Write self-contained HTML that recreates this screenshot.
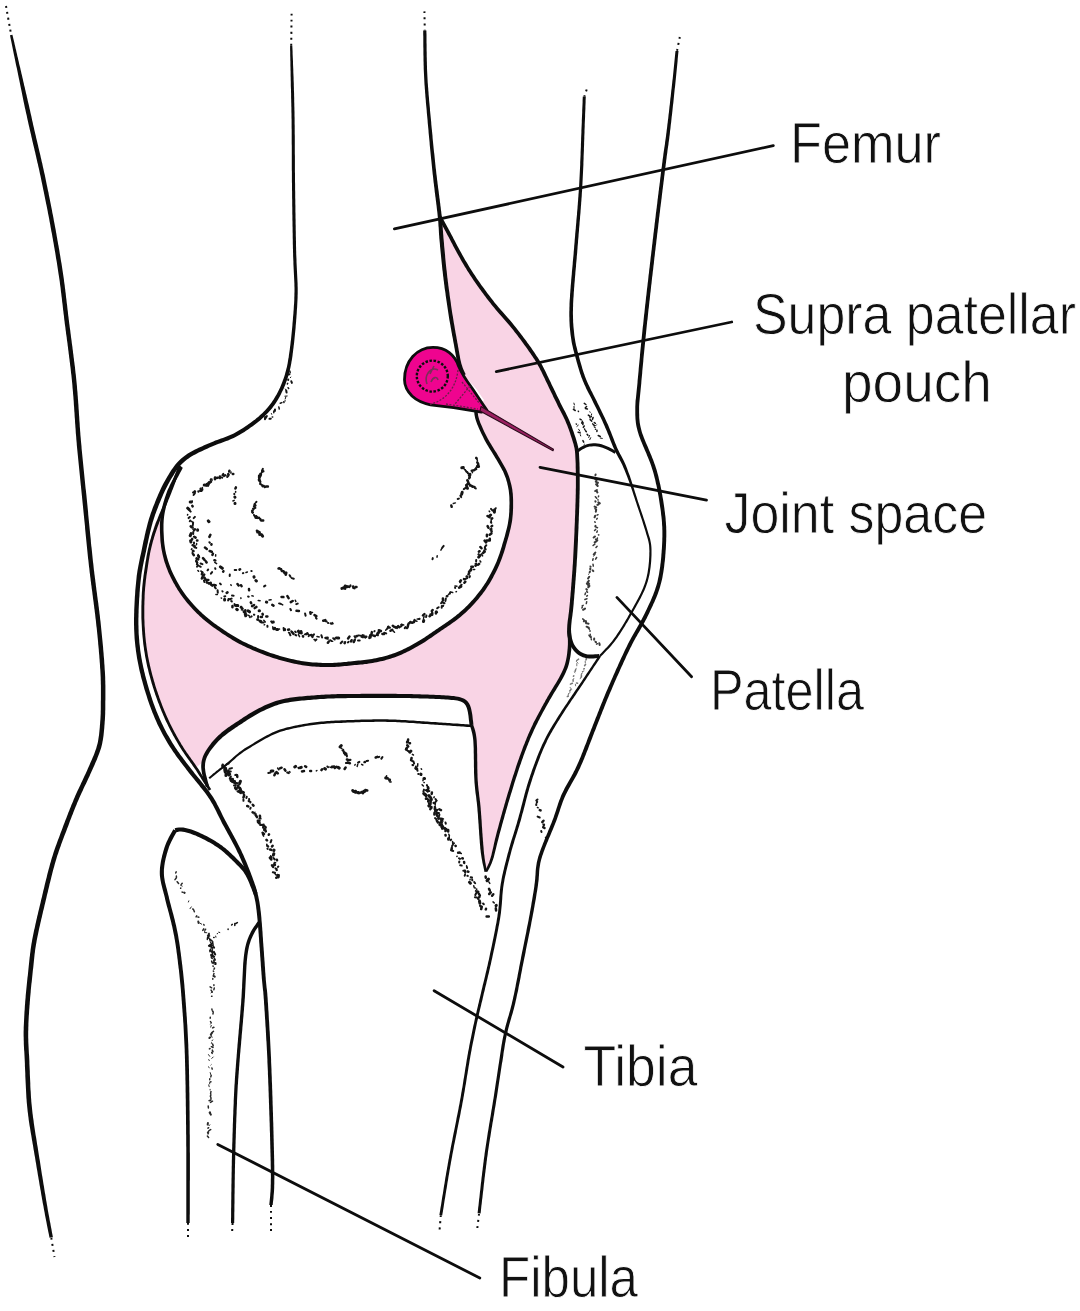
<!DOCTYPE html>
<html><head><meta charset="utf-8"><style>
html,body{margin:0;padding:0;background:#fff;width:1080px;height:1311px;overflow:hidden}
svg{display:block}
</style></head><body>
<svg width="1080" height="1311" viewBox="0 0 1080 1311">
<path d="M439.8 216.8 C441.2 219.3 445.1 226.6 448.0 232.0 C450.9 237.4 454.0 243.5 457.0 249.0 C460.0 254.5 462.7 259.5 466.0 265.0 C469.3 270.5 472.5 275.6 477.0 282.0 C481.5 288.4 487.4 296.5 493.2 303.7 C498.9 310.9 505.9 318.1 511.5 325.0 C517.1 331.9 522.2 338.6 526.8 345.0 C531.4 351.4 535.6 357.4 539.0 363.2 C542.4 369.0 544.1 373.4 547.4 380.0 C550.6 386.6 555.1 396.1 558.5 403.0 C561.9 409.9 565.2 415.5 567.8 421.7 C570.4 427.9 572.8 435.1 574.3 440.2 C575.8 445.3 576.4 445.6 577.0 452.2 C577.6 458.8 577.8 470.4 577.8 480.0 C577.8 489.6 577.7 496.7 577.2 510.0 C576.7 523.3 576.0 544.0 575.0 560.0 C574.0 576.0 572.5 594.5 571.5 606.2 C570.5 617.9 569.4 626.3 569.0 630.3 C569.1 633.2 570.3 641.3 569.6 648.0 C568.9 654.7 568.4 661.7 564.8 670.3 C561.2 678.9 553.4 690.0 548.0 699.7 C542.6 709.4 537.3 718.8 532.7 728.7 C528.1 738.6 524.6 747.8 520.5 759.2 C516.4 770.6 512.1 784.6 508.3 797.3 C504.5 810.0 500.4 824.9 497.6 835.4 C494.8 845.9 493.5 853.9 491.5 860.0 C489.5 866.1 486.8 870.0 485.8 872.0 C485.2 868.5 483.3 861.7 482.2 851.0 C481.1 840.3 480.0 819.8 479.0 808.0 C478.0 796.2 476.7 791.3 476.0 780.0 C475.3 768.7 475.8 749.2 475.0 740.0 C474.2 730.8 472.1 727.5 471.5 725.0 C471.1 722.1 470.2 711.5 468.9 707.4 C467.6 703.3 466.8 702.0 463.6 700.4 C460.4 698.8 459.2 698.4 449.5 697.7 C439.8 697.0 421.7 696.3 405.6 696.0 C389.5 695.7 367.1 695.8 352.8 696.0 C338.5 696.2 331.3 696.2 320.0 697.0 C308.7 697.8 294.7 698.8 285.0 700.8 C275.3 702.8 269.1 705.7 261.7 709.2 C254.3 712.7 247.8 717.1 240.8 721.7 C233.9 726.3 225.6 731.7 220.0 736.7 C214.4 741.7 210.3 747.5 207.5 751.7 C204.7 755.9 204.0 760.0 203.3 761.7 L195.5 768 C192.8 764.2 184.6 753.7 179.5 745.4 C174.4 737.1 169.4 727.9 165.0 718.0 C160.6 708.1 156.3 696.7 153.0 686.0 C149.7 675.3 146.9 664.7 145.0 654.0 C143.1 643.3 142.2 632.7 141.8 622.0 C141.4 611.3 141.7 600.0 142.4 590.0 C143.1 580.0 143.9 572.8 145.9 562.0 C147.9 551.2 152.0 533.0 154.4 525.5 C156.8 518.0 159.5 518.4 160.5 517.0 L161.7 530 C162.1 533.7 162.3 544.8 163.9 552.2 C165.5 559.6 167.9 567.0 171.3 574.4 C174.8 581.8 179.4 589.8 184.6 596.7 C189.8 603.6 196.2 610.3 202.4 616.0 C208.6 621.7 214.8 626.0 221.7 630.7 C228.6 635.4 235.3 639.8 243.9 644.0 C252.5 648.2 263.6 652.8 273.5 656.0 C283.4 659.2 293.7 661.8 303.1 663.3 C312.5 664.8 321.8 665.0 330.0 665.0 C338.2 665.0 344.8 664.0 352.2 663.3 C359.6 662.6 367.0 662.1 374.4 660.6 C381.8 659.1 389.3 657.3 396.7 654.4 C404.1 651.5 411.7 647.5 418.9 643.3 C426.1 639.1 433.9 633.3 440.0 629.2 C446.1 625.1 450.2 622.6 455.3 618.6 C460.4 614.6 465.4 610.4 470.5 605.0 C475.6 599.6 481.2 593.0 485.8 586.0 C490.4 579.0 494.7 570.7 498.0 563.0 C501.3 555.3 503.6 547.0 505.6 540.0 C507.7 533.0 509.4 527.0 510.3 520.7 C511.2 514.4 511.3 507.8 511.3 502.4 C511.3 497.0 511.2 493.5 510.3 488.6 C509.4 483.7 508.1 478.4 505.8 473.1 C503.5 467.8 500.0 462.4 496.6 456.6 C493.2 450.8 488.8 444.4 485.6 438.3 C482.4 432.2 479.0 424.4 477.4 420.0 C475.8 415.6 476.2 413.3 476.0 412.0 L484 400 C482.5 397.9 478.3 391.7 475.0 387.6 C471.7 383.5 466.8 379.2 464.2 375.4 C461.6 371.6 461.1 369.9 459.7 364.8 C458.3 359.7 457.4 353.4 455.9 345.0 C454.4 336.6 452.3 325.8 450.5 314.4 C448.7 302.9 446.7 289.0 445.2 276.3 C443.7 263.6 442.3 247.9 441.4 238.0 C440.5 228.1 440.1 220.3 439.8 216.8Z" fill="#f9d4e5" stroke="none"/>
<path d="M233.3 473.9L232.8 473.9M229.4 470.7L229.2 471.5M228.5 474.4L228.2 474.1M219.9 476.4L219.8 478.1M217.6 477.7L216.4 477.9M215.0 477.4L214.9 479.2M210.9 481.9L209.0 482.8M208.4 484.5L207.9 485.7M200.7 488.8L201.4 490.8M200.5 490.3L200.2 490.8M194.9 491.4L194.5 491.9M192.3 505.8L192.6 506.4M190.7 526.3L191.7 527.2M194.9 529.2L194.1 530.3M194.2 536.7L195.6 537.6M192.2 538.9L192.0 539.5M192.6 545.2L194.7 546.2M193.1 550.9L193.5 551.1M193.3 554.3L193.8 555.2M198.1 555.7L198.8 556.3M196.2 561.1L196.9 562.2M202.3 572.8L201.9 574.4M204.2 574.6L203.8 575.0M202.5 577.0L201.9 578.5M204.3 577.5L205.4 579.2M206.3 580.1L208.4 580.0M206.8 582.4L207.0 582.6M208.7 583.1L208.8 583.5M210.7 582.7L210.9 583.5M211.0 584.5L212.3 585.7M213.7 585.0L214.5 584.9M214.9 585.7L215.7 585.4M232.5 605.9L232.4 607.3M240.9 607.2L242.5 608.6M245.3 610.3L245.2 612.4M245.2 612.5L245.4 613.8M257.4 619.5L258.2 619.7M260.7 617.0L261.9 617.1M284.8 629.3L284.9 629.9M288.1 629.8L289.1 629.6M292.1 632.3L293.5 633.9M302.9 636.1L303.1 636.6M306.7 634.1L307.3 633.3M325.5 637.9L327.6 637.7M327.9 642.8L328.7 641.6M336.2 637.7L336.7 637.9M344.6 643.2L345.0 642.2M348.1 638.5L349.4 636.6M351.0 641.4L351.6 640.2M353.8 642.0L354.8 639.8M356.4 636.0L356.8 636.2M361.6 636.6L362.5 635.4M365.3 636.8L366.3 636.7M370.3 635.4L371.9 635.0M371.4 634.2L371.9 632.1M373.6 635.6L374.8 636.0M376.9 634.9L377.7 635.1M378.8 630.2L380.9 631.0M382.4 633.9L384.1 634.0M388.1 627.2L389.7 627.6M390.5 630.8L392.2 629.7M392.8 625.7L394.4 626.9M395.7 627.6L395.9 627.1M398.1 626.2L399.0 627.2M401.4 625.0L401.8 625.2M407.0 628.0L407.5 627.4M407.8 626.4L408.2 624.5M408.7 623.6L409.6 622.9M412.1 622.7L413.9 622.1M413.9 622.0L414.6 620.1M423.0 615.4L424.4 614.1M429.6 616.3L430.2 615.8M430.5 614.5L432.2 614.8M432.3 614.0L432.2 612.8M431.8 611.0L432.6 610.0M435.9 613.5L436.0 611.8M443.0 600.4L442.9 598.4M446.9 596.3L447.3 596.0M459.1 587.6L461.1 586.6M460.0 581.5L460.9 580.4M464.4 582.8L465.3 581.7M464.0 579.1L464.4 579.2M466.7 576.5L467.1 576.6M468.5 574.3L469.2 573.0M469.0 571.9L470.4 570.1M470.9 570.4L471.1 568.9M471.3 566.7L472.9 566.7M475.5 565.6L476.8 564.8M478.3 564.6L479.1 563.9M478.9 551.6L479.6 551.2M483.0 552.9L484.7 551.7M481.5 548.3L480.4 547.0M486.1 542.4L484.6 540.6M486.7 540.4L488.8 540.2M489.8 540.4L489.8 538.7M486.9 536.3L486.9 534.7M489.7 534.8L491.4 533.5M491.6 531.5L491.5 531.0M490.6 529.4L491.3 529.1M488.4 527.8L487.6 526.1M491.5 526.4L492.1 525.9M491.7 518.7L492.2 518.3M489.5 517.3L487.5 516.0" stroke="#151515" stroke-width="2.5" stroke-linecap="round" fill="none"/>
<path d="M231.0 471.9L230.9 473.1M226.0 475.4L225.6 475.5M211.9 479.1L212.0 480.4M202.3 487.4L202.5 489.0M202.7 489.7L202.5 490.1M192.3 501.0L192.3 501.4M187.7 514.4L187.5 515.0M191.5 521.2L192.3 522.1M193.1 527.2L192.9 529.2M190.9 535.6L190.4 536.0M196.6 543.6L196.5 544.8M191.9 548.8L191.4 549.5M192.4 551.9L192.3 553.8M198.2 554.4L198.5 555.2M197.9 570.5L198.6 571.3M200.8 571.0L201.9 571.6M215.9 594.5L217.4 594.5M221.2 598.0L221.5 598.2M237.6 605.5L238.4 606.3M241.5 609.8L242.5 610.1M247.8 615.1L249.2 615.6M249.4 616.7L250.0 617.4M263.8 620.3L265.3 622.0M264.2 624.9L264.6 624.7M272.7 626.9L273.2 628.1M275.2 628.2L275.4 628.5M278.7 629.2L279.5 629.1M288.6 632.5L289.0 632.4M298.5 634.6L299.5 636.6M307.6 633.4L308.5 634.6M308.4 636.1L308.8 636.4M314.0 639.5L314.7 639.6M317.0 636.4L319.2 636.9M327.0 638.9L328.1 639.1M331.5 641.2L332.7 641.2M334.7 638.6L335.5 637.7M360.4 635.5L360.8 635.5M385.7 630.2L386.7 629.0M392.8 630.6L394.5 632.2M401.4 624.3L403.7 625.0M415.4 620.8L416.9 621.2M417.2 619.1L419.3 619.3M423.5 618.2L424.1 616.6M437.4 612.5L436.9 611.2M448.5 594.5L449.0 594.0M450.6 592.1L452.7 592.6M456.1 591.7L456.4 591.6M455.0 585.9L457.0 586.2M473.3 569.6L474.7 569.5M480.8 562.0L480.0 560.8M478.2 554.4L478.8 553.9M482.6 555.9L481.5 553.8M484.6 548.1L485.1 546.4M491.3 521.4L491.1 520.0M489.6 511.7L489.2 511.1" stroke="#151515" stroke-width="1.5" stroke-linecap="round" fill="none"/>
<path d="M228.5 475.5L227.2 477.0M225.1 475.0L224.1 476.2M223.2 473.9L222.4 475.2M222.2 477.8L221.8 477.4M210.8 479.3L210.6 480.1M198.3 491.3L198.4 491.8M194.8 492.3L193.0 492.5M194.8 493.5L193.6 495.0M189.4 510.2L190.7 511.6M189.8 517.0L188.6 518.1M194.9 516.9L193.7 518.1M190.2 520.6L189.8 521.2M193.1 522.4L192.9 524.6M192.7 525.4L192.7 525.7M193.2 532.1L193.2 533.9M194.0 542.6L194.0 543.6M194.4 547.2L196.3 547.9M199.0 557.0L199.2 557.3M197.3 562.8L196.9 564.3M200.6 563.5L202.4 564.1M198.2 565.2L197.1 566.6M199.6 566.2L200.7 566.8M202.2 572.2L202.5 572.2M204.0 580.4L204.4 582.1M214.9 587.5L215.8 588.4M217.6 590.3L217.8 592.7M224.3 596.4L225.3 596.2M228.5 599.0L228.1 600.5M229.7 599.3L231.6 598.6M231.2 601.0L231.8 601.4M234.5 604.1L235.1 605.6M241.0 606.8L241.4 606.7M243.6 611.3L243.7 612.0M251.2 616.6L251.6 616.4M254.0 614.6L254.3 614.8M258.1 616.0L258.1 617.8M261.5 622.6L263.8 622.5M267.4 625.8L267.5 626.8M271.2 621.4L271.9 622.2M283.6 628.0L283.9 630.3M289.5 633.1L290.4 635.3M291.3 631.2L292.2 632.1M295.2 631.6L295.7 632.2M295.4 635.0L296.3 635.4M304.9 634.5L305.5 634.1M309.5 635.3L311.7 634.8M311.4 635.1L312.5 637.2M312.8 636.1L314.0 634.3M315.3 640.6L316.4 639.5M321.4 635.3L322.1 637.5M330.1 640.2L331.0 640.6M333.2 638.2L334.7 639.5M340.7 643.2L342.3 641.5M348.0 642.4L348.5 641.8M354.5 636.3L355.4 637.6M358.0 640.6L359.7 640.6M358.0 635.5L359.2 635.5M362.9 637.4L363.8 635.3M363.9 636.5L365.4 637.6M369.2 638.2L369.5 636.8M374.4 631.3L374.6 631.0M384.2 632.8L386.2 633.4M387.4 628.6L388.3 626.5M397.0 628.2L397.1 627.4M399.4 627.2L401.2 626.4M404.8 628.1L405.5 627.0M410.2 621.7L411.3 622.4M419.0 619.0L419.6 618.8M426.1 617.1L426.4 615.5M437.2 608.3L438.6 607.2M441.7 607.8L441.8 606.1M443.0 606.0L443.2 605.6M441.1 603.2L442.1 601.7M443.2 602.8L444.5 603.2M445.4 600.9L445.8 598.6M449.8 593.6L450.2 592.4M455.2 588.0L455.1 587.5M460.3 586.0L461.6 584.7M460.3 582.4L460.4 581.9M465.1 579.1L467.2 578.1M469.5 577.3L469.9 576.1M475.6 563.8L476.1 563.6M476.1 561.3L476.2 560.1M483.6 552.3L484.3 550.2M485.7 549.5L484.9 547.5M485.6 546.1L486.3 545.2M491.3 522.8L490.9 522.2M492.6 510.6L491.0 508.9M495.1 509.2L495.7 508.2" stroke="#151515" stroke-width="2.0" stroke-linecap="round" fill="none"/>
<path d="M209.1 482.7L207.8 484.4M207.0 484.3L206.1 485.4M204.6 484.9L204.2 484.9M191.4 501.9L190.2 502.1M187.7 508.2L189.0 509.3M191.1 533.6L190.2 535.6M190.6 540.7L190.9 542.0M196.8 558.6L198.0 559.1M224.6 599.3L224.6 599.9M235.9 605.4L237.8 605.5M236.7 609.3L237.3 609.7M245.2 613.7L245.7 615.8M248.0 610.8L249.5 611.8M260.1 621.2L260.8 621.5M272.3 622.2L273.3 622.1M273.7 628.8L274.7 628.4M276.7 629.6L277.6 629.6M298.4 631.2L299.3 632.6M301.0 631.5L301.3 633.0M337.6 637.9L338.7 637.9M370.2 637.2L370.4 635.7M377.7 633.4L378.8 632.2M423.5 621.6L423.7 620.5M478.7 557.1L480.1 555.4M489.7 515.8L490.6 515.0M494.4 512.3L494.5 510.0" stroke="#151515" stroke-width="3.0" stroke-linecap="round" fill="none"/>
<path d="M208.3 520.9L209.0 521.7M220.4 566.9L222.3 568.3M266.4 602.1L266.7 602.2" stroke="#151515" stroke-width="3.0" stroke-linecap="round" fill="none"/>
<path d="M210.4 534.8L209.4 536.9M211.5 544.3L211.4 544.6M205.0 547.6L206.8 548.9M209.7 551.0L211.8 551.7M212.9 553.7L212.4 554.9M214.4 560.2L215.3 560.4M223.4 571.2L223.2 571.6M237.5 584.1L238.6 585.5M241.1 585.2L241.6 586.2M249.0 589.0L249.1 590.3M272.3 604.9L273.5 605.6M296.5 610.8L298.9 611.1" stroke="#151515" stroke-width="2.5" stroke-linecap="round" fill="none"/>
<path d="M209.4 542.3L209.8 542.7M215.2 568.2L215.4 568.9M229.8 574.6L229.7 576.0M248.1 596.6L248.7 596.7M279.1 603.4L280.4 603.8M290.4 609.0L291.0 610.2M305.1 613.5L305.6 615.7M330.6 623.4L331.4 623.8" stroke="#151515" stroke-width="2.0" stroke-linecap="round" fill="none"/>
<path d="M215.7 554.7L215.6 556.1M214.8 562.4L216.6 563.6M230.9 584.7L231.2 585.4M251.9 595.7L253.3 596.1M258.2 600.5L260.1 600.7M269.1 600.1L271.1 599.7M280.9 603.8L282.7 604.9M311.2 612.4L312.5 612.5" stroke="#151515" stroke-width="1.5" stroke-linecap="round" fill="none"/>
<path d="M461.8 467.8L463.3 467.6" stroke="#151515" stroke-width="3.0" stroke-linecap="round" fill="none"/>
<path d="M463.8 468.6L464.2 469.1M464.6 469.6L465.3 469.8M468.0 473.3L469.3 474.0" stroke="#151515" stroke-width="1.5" stroke-linecap="round" fill="none"/>
<path d="M465.6 470.5L466.6 471.9M467.3 472.1L467.9 473.2M469.6 474.0L470.4 475.1" stroke="#151515" stroke-width="2.0" stroke-linecap="round" fill="none"/>
<path d="M476.2 457.9L476.6 458.2M477.3 462.4L478.2 463.9M478.3 464.6L477.5 466.3" stroke="#151515" stroke-width="2.5" stroke-linecap="round" fill="none"/>
<path d="M476.8 458.8L477.4 460.5" stroke="#151515" stroke-width="1.5" stroke-linecap="round" fill="none"/>
<path d="M469.9 484.9L469.9 485.5M469.9 485.1L472.0 486.1" stroke="#151515" stroke-width="2.5" stroke-linecap="round" fill="none"/>
<path d="M471.9 486.3L472.7 487.0M473.4 486.6L474.9 486.9M474.7 487.8L475.8 488.4" stroke="#151515" stroke-width="2.0" stroke-linecap="round" fill="none"/>
<path d="M197.6 529.8L197.6 530.3M259.1 610.8L259.5 610.8" stroke="#151515" stroke-width="3.0" stroke-linecap="round" fill="none"/>
<path d="M197.0 540.4L197.4 540.4M203.0 558.1L204.5 559.8M205.8 561.3L206.6 562.5M226.7 592.9L227.5 592.4M250.8 602.4L251.2 603.2M252.1 606.1L254.1 605.0M254.7 608.1L256.4 606.9M262.5 613.8L262.8 614.6M266.3 616.6L267.4 616.4" stroke="#151515" stroke-width="2.5" stroke-linecap="round" fill="none"/>
<path d="M208.2 569.5L207.5 570.3M212.1 572.1L210.9 573.7M220.0 583.5L220.9 584.4M222.4 591.2L222.6 591.5M232.0 595.6L233.6 595.7" stroke="#151515" stroke-width="2.0" stroke-linecap="round" fill="none"/>
<path d="M240.8 597.9L241.0 598.4" stroke="#151515" stroke-width="1.5" stroke-linecap="round" fill="none"/>
<path d="M262.9 468.8L262.0 470.6M262.0 471.8L261.9 472.3M261.0 473.4L261.2 474.3M260.2 473.8L260.8 475.5M258.9 475.5L258.9 477.9M260.0 480.5L260.5 481.8M260.1 482.8L260.5 483.7M260.0 483.9L261.4 484.7M262.1 485.2L262.5 485.3M264.7 487.3L265.4 486.7" stroke="#151515" stroke-width="2.0" stroke-linecap="round" fill="none"/>
<path d="M263.3 471.3L262.4 471.2M260.5 475.0L259.9 476.9M259.4 478.6L259.5 479.2M258.9 479.9L259.3 480.6M262.6 486.2L263.8 486.1M266.2 486.6L267.9 486.5" stroke="#151515" stroke-width="2.5" stroke-linecap="round" fill="none"/>
<path d="M256.4 501.8L256.0 502.3M254.8 503.7L255.0 504.0M254.6 505.9L253.9 506.4M255.4 507.8L253.6 508.6M253.0 508.6L253.6 509.2M254.0 515.0L254.6 516.1M258.0 518.1L259.0 517.7M259.1 517.6L260.0 519.1M260.4 518.8L260.4 519.9" stroke="#151515" stroke-width="2.0" stroke-linecap="round" fill="none"/>
<path d="M254.6 504.8L255.3 505.5M252.5 510.6L252.2 511.0M252.4 512.2L252.7 512.6M256.1 516.2L256.0 516.7M261.2 520.4L263.2 520.4" stroke="#151515" stroke-width="2.5" stroke-linecap="round" fill="none"/>
<path d="M255.8 517.4L257.2 517.5" stroke="#151515" stroke-width="3.0" stroke-linecap="round" fill="none"/>
<path d="M235.9 487.4L235.4 488.5" stroke="#151515" stroke-width="2.5" stroke-linecap="round" fill="none"/>
<path d="M235.6 491.4L235.7 492.2M234.2 500.3L232.9 501.0" stroke="#151515" stroke-width="1.5" stroke-linecap="round" fill="none"/>
<path d="M234.3 493.8L234.3 494.3" stroke="#151515" stroke-width="2.0" stroke-linecap="round" fill="none"/>
<path d="M234.8 497.0L235.0 497.2M235.0 503.3L235.0 503.6" stroke="#151515" stroke-width="3.0" stroke-linecap="round" fill="none"/>
<path d="M256.9 530.8L257.5 530.9M259.5 533.0L259.5 534.8M260.0 534.1L261.3 534.7" stroke="#151515" stroke-width="2.5" stroke-linecap="round" fill="none"/>
<path d="M257.6 532.1L259.3 532.2M261.7 534.9L262.6 536.2" stroke="#151515" stroke-width="3.0" stroke-linecap="round" fill="none"/>
<path d="M278.5 568.5L279.4 568.4M281.1 569.3L281.2 569.6M281.9 571.1L283.6 571.3M283.6 571.3L284.6 573.1M286.3 572.6L285.8 574.8" stroke="#151515" stroke-width="2.5" stroke-linecap="round" fill="none"/>
<path d="M279.2 568.2L281.3 569.3M284.8 572.6L285.5 573.3M289.6 575.2L290.4 576.6M291.7 578.1L293.8 578.7" stroke="#151515" stroke-width="2.0" stroke-linecap="round" fill="none"/>
<path d="M234.7 570.0L236.2 569.9M242.9 573.2L243.3 573.1M251.3 571.0L251.7 571.1M264.1 586.4L265.3 585.6M296.3 604.1L297.7 603.6" stroke="#151515" stroke-width="2.0" stroke-linecap="round" fill="none"/>
<path d="M239.6 569.6L240.1 569.2M281.5 597.0L283.4 597.1M287.4 596.1L288.6 598.1M290.8 602.1L292.7 601.0" stroke="#151515" stroke-width="2.5" stroke-linecap="round" fill="none"/>
<path d="M246.0 572.5L247.4 572.0M295.3 600.2L295.8 601.6" stroke="#151515" stroke-width="1.5" stroke-linecap="round" fill="none"/>
<path d="M254.0 576.7L254.1 577.2M255.9 580.5L256.4 581.0" stroke="#151515" stroke-width="3.0" stroke-linecap="round" fill="none"/>
<path d="M310.3 612.3L310.6 613.7M314.5 615.1L316.4 616.1M323.2 620.7L325.3 620.1" stroke="#151515" stroke-width="2.5" stroke-linecap="round" fill="none"/>
<path d="M315.9 617.8L316.6 618.7M325.2 621.0L326.7 621.5M328.0 622.9L328.3 622.9M332.2 622.9L332.8 623.6" stroke="#151515" stroke-width="2.0" stroke-linecap="round" fill="none"/>
<path d="M341.9 588.4L344.2 587.9M345.1 586.0L347.1 586.8" stroke="#151515" stroke-width="3.0" stroke-linecap="round" fill="none"/>
<path d="M343.5 587.6L345.2 588.6M347.9 586.5L349.2 586.9M353.3 587.7L354.5 588.1M355.6 587.1L356.5 587.1" stroke="#151515" stroke-width="2.5" stroke-linecap="round" fill="none"/>
<path d="M350.0 586.2L350.5 585.4M352.6 586.5L353.4 586.3" stroke="#151515" stroke-width="2.0" stroke-linecap="round" fill="none"/>
<path d="M463.8 489.2L465.7 487.9M469.8 476.7L468.8 475.5" stroke="#151515" stroke-width="2.0" stroke-linecap="round" fill="none"/>
<path d="M467.5 488.3L466.9 487.1M469.8 474.5L469.9 474.2M477.5 466.6L478.6 466.4" stroke="#151515" stroke-width="3.0" stroke-linecap="round" fill="none"/>
<path d="M466.6 486.0L466.2 485.2M466.6 485.4L467.7 483.6M468.8 483.7L469.0 483.3M468.1 481.5L467.3 480.3M469.1 478.3L469.8 477.3M471.7 470.7L472.9 470.6M474.0 470.3L474.9 469.7M475.2 469.2L476.1 469.1" stroke="#151515" stroke-width="2.5" stroke-linecap="round" fill="none"/>
<path d="M472.3 472.7L472.5 472.2M475.9 467.5L477.6 466.0" stroke="#151515" stroke-width="1.5" stroke-linecap="round" fill="none"/>
<path d="M451.7 506.8L451.3 505.5" stroke="#151515" stroke-width="2.5" stroke-linecap="round" fill="none"/>
<path d="M453.3 503.5L455.4 502.9" stroke="#151515" stroke-width="1.5" stroke-linecap="round" fill="none"/>
<path d="M457.7 499.0L458.9 498.6M461.2 497.1L460.4 495.7" stroke="#151515" stroke-width="2.0" stroke-linecap="round" fill="none"/>
<path d="M461.6 494.4L462.2 492.3" stroke="#151515" stroke-width="3.0" stroke-linecap="round" fill="none"/>
<path d="M432.5 559.2L432.8 558.1M442.3 547.6L443.7 545.9" stroke="#151515" stroke-width="2.0" stroke-linecap="round" fill="none"/>
<path d="M437.0 557.2L437.2 555.8M440.9 550.1L442.0 548.2" stroke="#151515" stroke-width="1.5" stroke-linecap="round" fill="none"/>
<path d="M222.7 764.8L222.5 765.4M225.2 768.4L225.9 768.3M237.1 775.3L237.3 776.9M238.4 786.3L238.0 787.5M240.0 787.9L239.9 789.0M240.7 789.2L240.7 790.2M244.2 795.1L243.6 797.2M247.2 806.0L248.3 806.4M252.8 804.8L253.5 805.6M252.6 812.3L253.0 812.6M256.0 815.5L257.0 817.2M259.9 815.7L260.1 817.2M257.8 820.8L259.5 820.8M264.1 825.8L263.3 827.6M265.4 830.3L265.8 831.4M262.6 832.8L264.0 833.9M269.0 834.4L268.8 834.8M266.5 839.9L267.0 840.4M267.4 845.9L268.0 846.4M272.6 845.7L272.0 846.5M270.2 849.5L271.4 849.9M269.9 857.7L271.3 859.5M276.9 859.8L277.0 860.3M274.3 864.0L274.9 865.0M272.0 865.2L273.1 866.9M277.5 874.9L277.5 875.8M278.7 875.3L278.5 877.2M276.6 877.5L276.3 877.7" stroke="#151515" stroke-width="2.5" stroke-linecap="round" fill="none"/>
<path d="M226.6 763.9L228.9 763.8M243.7 793.7L243.5 794.4M243.4 797.4L243.2 797.9M254.9 812.3L254.1 814.0M259.0 818.7L261.0 818.8M262.6 834.3L263.6 836.2M266.8 844.3L266.7 844.9M270.7 855.7L270.7 857.1M274.3 862.4L275.6 862.8M274.8 873.6L276.1 875.0" stroke="#151515" stroke-width="1.5" stroke-linecap="round" fill="none"/>
<path d="M225.1 768.9L225.5 771.0M240.4 781.2L239.8 783.0M242.9 792.3L243.4 792.6M258.3 822.0L259.3 823.1M264.7 829.1L264.5 829.8M274.0 850.1L273.8 850.5M273.8 853.8L273.4 855.1M271.0 857.2L270.6 857.9" stroke="#151515" stroke-width="3.0" stroke-linecap="round" fill="none"/>
<path d="M226.5 770.0L226.6 770.4M229.6 768.7L231.9 768.1M229.6 771.6L230.8 771.6M229.8 773.8L230.2 774.2M230.8 776.4L230.3 778.1M235.3 775.0L236.6 774.8M233.2 780.1L232.6 781.8M233.3 781.6L234.1 782.4M234.3 783.3L235.7 783.9M239.3 782.9L239.6 784.4M240.5 790.6L242.4 791.7M246.7 796.7L246.4 798.0M243.4 799.6L243.5 800.8M249.1 798.9L249.2 800.0M248.6 801.0L248.8 801.2M250.4 801.7L250.4 802.5M250.6 807.8L250.3 808.8M255.7 813.9L255.4 815.0M260.1 824.9L262.4 824.7M263.6 824.5L263.1 825.8M265.6 826.7L265.9 827.7M271.4 840.1L270.6 842.3M267.5 848.7L267.7 849.0M273.4 858.1L274.8 859.4M278.3 866.5L278.0 866.9M275.5 868.3L276.7 869.1M276.5 869.9L276.9 870.2M272.8 872.2L275.0 872.8" stroke="#151515" stroke-width="2.0" stroke-linecap="round" fill="none"/>
<path d="M222.5 766.4L224.3 766.7M223.5 767.3L224.2 767.3M228.4 770.5L227.9 772.2M230.0 778.5L230.7 778.7M230.4 778.7L230.8 780.4M232.8 779.1L231.8 780.9M234.7 782.1L235.3 782.6M236.1 783.2L237.0 783.3" stroke="#151515" stroke-width="2.5" stroke-linecap="round" fill="none"/>
<path d="M224.8 769.6L225.1 771.8M226.2 773.8L225.9 775.6M228.9 773.0L228.9 774.9M231.5 780.7L232.7 781.6M234.1 781.5L234.6 781.4M235.4 787.9L236.3 788.9M239.1 791.2L240.7 792.7" stroke="#151515" stroke-width="3.0" stroke-linecap="round" fill="none"/>
<path d="M225.5 771.1L225.5 773.0M234.0 785.4L235.7 785.7M238.2 785.1L237.6 786.0M240.0 788.5L240.2 788.7M237.5 791.3L238.4 791.8" stroke="#151515" stroke-width="2.0" stroke-linecap="round" fill="none"/>
<path d="M268.3 773.0L270.6 772.5M287.2 772.5L288.8 773.2M298.4 767.7L298.8 768.3M327.4 766.5L328.2 767.2M345.9 763.0L347.9 763.1M358.1 762.7L359.3 761.9M366.6 761.0L368.1 760.7M378.4 757.2L379.2 756.8M381.4 758.6L382.4 757.1" stroke="#151515" stroke-width="2.0" stroke-linecap="round" fill="none"/>
<path d="M271.2 771.0L272.9 770.9M294.7 767.0L295.6 766.4M300.3 767.7L301.3 767.3M324.6 768.5L325.5 769.1M338.1 767.4L339.3 768.1" stroke="#151515" stroke-width="3.0" stroke-linecap="round" fill="none"/>
<path d="M274.4 775.3L275.2 773.4M276.5 772.0L277.8 773.4M279.9 768.4L281.6 767.7M284.5 769.2L285.4 770.6M302.0 771.4L304.0 771.1M305.1 766.2L306.2 766.9M310.2 770.9L311.1 770.9M321.5 770.1L322.1 769.3M332.0 766.7L334.1 766.6M334.8 768.0L336.5 766.8M344.6 769.0L345.6 767.5M347.6 762.6L349.9 763.2M364.5 762.1L364.9 762.0M375.7 757.5L377.3 756.9" stroke="#151515" stroke-width="2.5" stroke-linecap="round" fill="none"/>
<path d="M277.6 768.0L278.8 769.8M289.2 771.6L290.1 772.2M316.3 770.9L316.9 770.5M329.9 767.1L332.0 767.8M354.8 765.2L355.2 764.5M357.2 766.4L357.7 764.4M361.6 764.3L362.8 765.0" stroke="#151515" stroke-width="1.5" stroke-linecap="round" fill="none"/>
<path d="M341.3 745.5L340.0 746.9" stroke="#151515" stroke-width="3.0" stroke-linecap="round" fill="none"/>
<path d="M341.2 748.3L341.9 748.4M342.1 750.2L343.0 750.8" stroke="#151515" stroke-width="1.5" stroke-linecap="round" fill="none"/>
<path d="M344.1 752.5L345.6 754.0M346.9 759.4L347.5 759.4M348.1 760.4L350.3 759.9" stroke="#151515" stroke-width="2.5" stroke-linecap="round" fill="none"/>
<path d="M344.8 754.5L346.7 754.9" stroke="#151515" stroke-width="2.0" stroke-linecap="round" fill="none"/>
<path d="M352.7 790.5L353.4 791.4M355.3 792.2L355.7 792.3M362.9 792.9L363.7 791.4" stroke="#151515" stroke-width="3.0" stroke-linecap="round" fill="none"/>
<path d="M354.2 791.5L355.7 791.0M356.2 791.8L358.0 793.0M358.5 792.2L359.0 793.2M359.5 792.8L361.0 792.5M361.6 792.1L362.0 792.1M364.5 791.7L365.0 791.6M365.3 790.0L367.3 790.4" stroke="#151515" stroke-width="2.5" stroke-linecap="round" fill="none"/>
<path d="M386.6 775.8L385.9 777.6M389.8 782.0L391.2 781.9" stroke="#151515" stroke-width="1.5" stroke-linecap="round" fill="none"/>
<path d="M385.7 778.0L387.4 778.2M389.6 779.7L389.6 780.2" stroke="#151515" stroke-width="3.0" stroke-linecap="round" fill="none"/>
<path d="M343.2 749.7L343.7 751.7M346.9 755.8L346.9 756.5" stroke="#151515" stroke-width="2.0" stroke-linecap="round" fill="none"/>
<path d="M344.2 752.7L344.6 752.7M346.2 753.6L346.1 753.9" stroke="#151515" stroke-width="2.5" stroke-linecap="round" fill="none"/>
<path d="M408.1 739.6L407.8 741.7M407.2 741.8L407.1 742.4M409.5 743.2L410.0 743.3M407.3 745.3L408.2 746.5M407.1 747.7L406.0 749.5M411.6 757.9L411.1 760.0M428.2 787.4L428.4 788.7M431.9 792.5L431.7 793.9M433.7 803.0L435.0 802.9M439.3 809.4L441.0 810.1M436.4 814.0L437.4 816.2M446.3 829.2L445.5 831.0M448.2 830.0L448.2 831.5M445.5 834.9L445.6 835.6M455.5 845.7L455.7 846.0M451.8 848.1L451.4 850.1M458.1 852.7L459.6 852.6M462.3 858.3L462.8 858.4M464.1 861.9L464.2 863.0M467.6 871.5L468.4 871.7M478.8 893.7L479.8 895.3M479.5 896.8L479.1 897.3M480.3 905.7L481.3 907.0M481.8 906.8L481.2 909.1M486.0 908.8L485.8 909.4M486.6 916.5L488.8 916.5" stroke="#151515" stroke-width="2.5" stroke-linecap="round" fill="none"/>
<path d="M406.0 748.7L407.2 750.5M407.9 750.8L408.7 751.3M411.0 760.0L412.2 761.0M413.4 761.4L414.1 763.5M412.4 765.0L413.1 765.2M415.9 766.5L415.7 768.4M417.1 769.1L417.5 770.8M418.2 774.0L418.7 774.1M426.9 785.1L427.1 785.6M427.8 786.7L427.6 787.4M425.8 790.2L426.2 790.3M426.9 790.8L427.5 790.9M429.0 791.0L429.4 791.1M435.5 799.0L436.0 799.8M436.7 800.6L435.8 801.5M437.2 809.9L437.0 810.3M436.7 813.1L439.0 813.0M437.9 818.1L438.7 818.9M439.7 822.5L440.3 822.7M445.5 822.5L445.8 823.7M442.3 828.0L442.6 828.0M451.1 839.5L450.7 840.1M453.4 843.3L454.0 843.3M452.9 844.8L452.1 846.1M451.4 850.3L453.2 851.0M459.0 858.2L460.0 858.9M459.3 861.4L459.2 862.4M460.2 865.3L461.7 865.5M467.0 867.2L467.1 868.0M463.3 870.7L465.1 870.6M464.7 870.6L465.2 872.7M465.0 874.8L464.7 875.7M467.4 875.8L467.8 875.9M470.7 877.2L472.0 877.5M472.2 879.6L472.3 880.3M474.2 882.0L475.1 883.3M476.3 893.0L475.3 895.0M474.9 897.2L476.9 897.5M478.0 898.7L478.5 899.2M483.1 903.5L483.8 904.2" stroke="#151515" stroke-width="2.0" stroke-linecap="round" fill="none"/>
<path d="M410.9 751.0L409.8 752.2M415.9 768.4L416.7 768.7M421.0 774.1L420.9 774.6M423.9 778.6L424.6 778.6M442.5 826.3L442.0 826.9M448.5 838.6L448.5 839.2M469.5 882.3L470.4 883.2M477.2 891.8L478.0 892.0M479.5 901.1L479.9 903.2" stroke="#151515" stroke-width="3.0" stroke-linecap="round" fill="none"/>
<path d="M412.4 754.4L413.4 755.0M417.8 763.8L417.6 766.2M421.2 768.8L421.6 769.2M423.0 780.1L423.0 780.8M424.0 782.5L424.3 782.6M422.1 784.7L423.4 786.0M434.2 796.9L433.9 797.6M435.0 803.5L435.3 805.1M441.5 818.2L443.4 819.0M442.4 819.4L442.8 821.2M448.8 834.2L449.4 835.8M449.2 835.9L449.3 837.9M452.6 841.6L452.7 843.5M459.7 852.9L461.3 853.5M457.1 856.2L456.9 856.4M466.6 865.8L466.7 867.3M470.1 879.3L470.0 879.8M473.8 885.8L474.0 886.8M474.3 887.8L475.4 887.9M476.7 889.0L476.6 889.5M475.8 890.5L475.6 891.1" stroke="#151515" stroke-width="1.5" stroke-linecap="round" fill="none"/>
<path d="M424.0 789.6L423.4 791.6M431.0 800.7L430.8 802.9M429.9 806.5L431.5 808.1M435.2 809.6L435.1 811.5M436.1 810.0L436.6 812.2M439.4 814.5L439.0 816.2M435.0 818.1L436.4 819.3M438.6 817.7L438.9 818.6M439.6 818.1L440.7 818.9M442.1 825.3L442.0 827.6" stroke="#151515" stroke-width="2.0" stroke-linecap="round" fill="none"/>
<path d="M427.2 790.1L427.4 790.3M423.7 793.5L424.9 794.5M428.9 795.6L429.6 796.4M430.6 797.6L431.4 799.5M428.6 800.5L428.4 801.3M429.9 804.8L428.8 805.9M439.8 824.5L439.9 824.8M444.4 828.3L444.9 828.4" stroke="#151515" stroke-width="3.0" stroke-linecap="round" fill="none"/>
<path d="M427.9 790.7L427.8 791.4M425.0 794.0L426.6 795.4M425.5 795.1L426.0 796.3M425.9 798.8L427.4 798.8M429.1 803.3L430.4 803.8M431.5 807.1L430.3 809.1M434.9 807.1L435.2 809.0M434.7 809.1L435.5 810.2M434.5 812.7L434.4 814.5M436.8 820.5L438.0 822.5M441.3 820.3L441.7 820.4M441.1 822.0L441.8 822.8M441.9 824.9L441.4 825.9M441.8 827.0L442.3 828.6M445.4 829.0L446.1 830.1" stroke="#151515" stroke-width="2.5" stroke-linecap="round" fill="none"/>
<path d="M537.5 799.5L536.3 800.6M537.2 801.8L536.8 802.6M536.2 804.2L536.3 805.1M537.6 816.6L539.7 817.5M541.2 831.0L541.5 832.1" stroke="#151515" stroke-width="2.0" stroke-linecap="round" fill="none"/>
<path d="M537.4 807.5L538.1 807.7M545.5 837.3L546.5 838.8" stroke="#151515" stroke-width="1.5" stroke-linecap="round" fill="none"/>
<path d="M539.8 810.1L540.6 810.4M543.5 820.7L542.3 822.1M543.6 824.7L543.9 824.8M543.2 827.1L544.5 828.0" stroke="#151515" stroke-width="2.5" stroke-linecap="round" fill="none"/>
<path d="M485.6 876.4L485.8 877.7M489.0 888.9L489.8 890.4M490.8 892.4L489.2 894.0M493.3 894.3L492.1 895.8M495.8 908.3L496.1 910.5" stroke="#151515" stroke-width="2.5" stroke-linecap="round" fill="none"/>
<path d="M488.5 879.1L487.0 880.6M496.3 905.4L496.0 905.7" stroke="#151515" stroke-width="3.0" stroke-linecap="round" fill="none"/>
<path d="M488.8 881.9L489.8 883.4M493.0 901.9L494.2 902.9" stroke="#151515" stroke-width="1.5" stroke-linecap="round" fill="none"/>
<path d="M176.2 871.9L175.7 873.0M176.4 876.1L176.4 876.9M176.4 877.7L175.0 879.6M177.2 881.7L178.6 883.5M182.2 883.3L181.3 884.4M180.8 888.0L180.6 888.3M182.1 892.1L182.6 892.3M192.7 909.0L193.3 909.2M193.7 909.9L194.4 911.7M196.7 915.9L196.1 916.9M198.0 917.1L198.9 917.2M203.8 924.5L204.1 925.1M203.7 928.9L202.8 930.4M205.6 929.2L205.1 930.0M209.0 933.4L208.3 934.4M208.8 938.0L209.3 938.4M213.2 944.0L212.7 945.4M213.1 947.2L213.6 947.5M212.4 949.2L212.3 950.7M214.0 951.5L214.3 952.3M212.7 954.7L213.0 955.7M214.4 962.1L213.0 963.1M213.0 966.0L213.2 966.5M214.5 968.1L214.0 969.2M213.3 971.0L213.6 971.4M214.0 973.6L213.6 974.3M212.8 978.6L212.8 979.3M213.9 984.8L213.9 985.4M210.1 986.9L211.6 987.8M214.3 987.9L213.9 989.7M211.1 990.1L212.3 992.1M211.6 996.2L211.9 996.3M211.9 1009.0L212.0 1010.0M212.6 1011.0L213.3 1012.2M213.1 1013.0L213.0 1013.9M210.3 1017.2L210.2 1018.3M210.5 1021.6L211.2 1022.6M213.9 1027.3L212.6 1027.9M213.5 1031.2L212.2 1032.6M212.6 1043.9L213.2 1045.7M211.4 1046.7L213.0 1047.5M210.1 1048.5L209.4 1048.9M212.3 1050.1L213.0 1051.7M211.7 1052.4L212.2 1053.4M211.9 1067.9L212.2 1069.1M211.2 1075.5L210.8 1076.9M209.8 1078.8L209.7 1079.8M211.0 1081.7L210.1 1082.1M211.0 1091.6L210.8 1092.2M210.7 1093.1L210.6 1093.7M210.9 1094.9L210.3 1096.2M210.8 1097.0L211.0 1099.0M210.9 1100.0L209.1 1100.8M212.5 1101.2L210.5 1102.4M208.2 1105.9L208.4 1107.9M210.0 1112.1L210.3 1112.4M208.6 1127.7L208.0 1128.2M210.7 1129.6L209.7 1130.1M208.8 1130.9L207.6 1132.7M208.5 1132.8L208.0 1133.9M207.4 1136.0L208.6 1137.4" stroke="#2a2a2a" stroke-width="1.5" stroke-linecap="round" fill="none"/>
<path d="M180.5 885.2L182.2 886.1M188.8 900.9L188.4 902.0M191.3 906.9L190.0 908.7M199.7 923.0L201.7 924.2M204.3 930.6L205.1 932.5M204.6 932.6L206.8 932.7M214.1 958.6L214.9 959.1M213.7 960.0L213.7 962.3M215.1 963.5L213.9 964.6M212.3 991.8L211.0 992.8M210.9 1023.5L210.5 1024.1M211.3 1025.4L210.7 1027.1M211.1 1035.2L212.1 1037.3M212.7 1039.9L212.0 1040.8M211.6 1042.6L211.4 1043.4M208.5 1054.6L209.7 1056.3M213.2 1057.0L211.8 1058.4M208.5 1059.8L209.5 1060.3M211.2 1064.7L210.9 1065.0M208.3 1066.8L209.3 1067.6M210.2 1072.6L210.8 1074.6M209.6 1082.8L209.7 1083.9M208.7 1084.9L209.2 1086.7M210.1 1089.3L210.1 1090.0M209.8 1124.8L209.0 1125.7" stroke="#2a2a2a" stroke-width="1.0" stroke-linecap="round" fill="none"/>
<path d="M184.1 892.5L184.6 892.9M198.3 921.6L198.6 923.0M211.5 956.1L211.8 957.5M213.5 975.9L214.7 976.7M212.0 1032.7L210.9 1034.6M210.2 1037.3L209.4 1038.0M209.7 1112.7L210.8 1114.6M207.9 1123.0L207.7 1124.6" stroke="#2a2a2a" stroke-width="2.0" stroke-linecap="round" fill="none"/>
<path d="M209.1 934.1L209.0 935.4M207.6 935.8L209.6 936.0M207.6 937.4L207.3 939.4M209.7 939.4L209.9 940.0M210.8 940.2L212.1 941.0M212.9 942.0L212.3 943.4M213.0 945.8L213.4 946.1M210.3 949.1L211.2 951.2M209.8 950.5L210.0 951.7M212.0 952.1L212.4 953.6M212.5 954.1L211.7 955.1M212.9 955.7L213.7 957.0M214.4 956.6L213.9 957.4M214.7 958.7L215.2 960.0M214.9 959.8L214.0 960.4M211.6 961.1L212.3 962.9M214.2 962.2L213.7 962.8" stroke="#151515" stroke-width="1.5" stroke-linecap="round" fill="none"/>
<path d="M208.2 937.1L208.1 937.7M211.6 943.5L211.4 944.2M210.2 944.9L211.7 945.4M208.9 945.8L210.9 946.5M211.1 946.4L212.1 948.1M213.8 947.2L214.1 947.6M212.0 951.6L212.9 952.2M214.3 952.6L215.2 954.5M211.1 954.9L212.3 956.0M215.5 962.9L215.6 964.1" stroke="#151515" stroke-width="2.0" stroke-linecap="round" fill="none"/>
<path d="M210.0 941.0L210.6 943.0M211.1 958.0L213.1 958.9" stroke="#151515" stroke-width="1.0" stroke-linecap="round" fill="none"/>
<path d="M210.4 939.7L210.6 939.4M213.7 937.4L214.1 937.4M228.1 929.6L228.1 929.1M231.6 925.0L232.3 924.4M234.8 925.6L234.8 923.6M235.8 923.5L237.4 922.6" stroke="#151515" stroke-width="1.5" stroke-linecap="round" fill="none"/>
<path d="M215.9 937.2L215.7 936.1M217.3 933.8L217.4 933.4M218.7 932.2L219.8 932.5" stroke="#151515" stroke-width="1.0" stroke-linecap="round" fill="none"/>
<path d="M595.6 474.5L595.4 475.2M595.0 478.4L595.6 479.0M595.8 481.7L596.4 482.0M597.9 482.6L597.1 484.3M596.1 484.3L597.7 486.0M596.9 490.0L595.2 491.0M596.9 491.5L597.4 492.4M595.4 501.3L595.5 501.6M598.4 502.4L599.8 503.4M598.4 504.5L597.4 504.9M594.6 506.6L596.2 507.4M596.2 509.8L595.8 511.7M595.2 515.7L594.6 517.3M595.5 525.9L595.3 526.5M594.9 536.5L593.7 537.5M595.9 539.3L597.3 540.4M596.6 541.1L594.7 542.4M595.3 552.6L593.8 554.4M590.3 568.2L590.3 569.6M592.7 570.4L593.3 571.1M589.9 571.7L589.7 572.3M589.2 576.8L588.1 578.5M588.8 580.8L587.5 582.4M587.8 582.4L589.1 584.0M586.9 583.7L588.2 585.2M589.4 585.9L588.4 586.7M586.3 589.1L586.9 589.7M585.0 608.6L583.1 609.8M584.1 620.9L583.9 621.4M585.9 621.0L586.1 623.2M587.2 623.4L588.5 623.7M586.6 626.7L588.7 627.7M589.3 635.3L590.7 637.0M594.2 638.5L594.1 639.7M595.5 641.7L596.0 642.2M599.3 643.2L599.7 645.0" stroke="#3a3a3a" stroke-width="2.0" stroke-linecap="round" fill="none"/>
<path d="M595.3 479.6L596.7 480.5M598.6 495.9L598.5 496.7M595.4 496.7L596.7 498.3M598.0 499.7L598.1 500.0M595.0 508.6L596.1 509.6M598.0 514.7L597.1 515.2M597.2 518.3L596.7 519.1M594.8 521.9L595.2 522.3M596.3 527.3L597.5 527.8M595.6 529.4L594.6 530.5M597.3 530.9L596.8 532.2M598.4 534.8L598.8 535.0M597.4 538.1L597.3 538.5M594.8 544.1L593.1 545.5M597.1 546.3L596.0 547.5M596.6 557.5L595.6 559.2M593.1 558.7L592.7 560.2M593.0 564.2L593.3 566.1M590.1 566.2L590.8 566.7M588.7 587.4L588.1 587.7M586.7 591.6L587.5 592.2M585.5 592.9L585.0 594.6M587.4 595.5L586.8 596.1M587.0 598.7L584.9 599.5M586.7 601.7L586.3 603.6M583.2 605.3L582.2 605.8M582.3 607.1L581.9 608.0M582.7 618.9L584.2 620.1M588.5 628.2L589.4 629.1M589.7 630.9L590.3 630.9M591.2 638.8L591.4 639.7M596.6 644.2L597.4 643.7" stroke="#3a3a3a" stroke-width="1.5" stroke-linecap="round" fill="none"/>
<path d="M595.1 554.4L593.7 556.2M589.0 573.8L588.4 574.3M590.3 633.9L590.7 635.3M591.2 636.9L591.2 637.6" stroke="#3a3a3a" stroke-width="1.0" stroke-linecap="round" fill="none"/>
<path d="M289.8 370.9L290.2 372.7M287.7 383.4L287.3 384.0M288.1 387.7L288.7 388.5M283.8 401.7L284.0 402.5M281.9 402.6L280.2 403.3M278.8 406.9L279.3 409.0M273.8 411.0L273.8 412.7M272.7 416.9L272.2 416.9" stroke="#151515" stroke-width="1.5" stroke-linecap="round" fill="none"/>
<path d="M289.5 374.2L288.4 374.4M288.2 379.5L288.2 379.9M291.3 381.3L291.9 382.9M286.2 390.5L286.6 392.6M275.0 409.6L274.9 411.0M270.8 418.7L269.5 418.8M266.9 416.1L265.7 418.1M265.1 417.1L265.0 419.2" stroke="#151515" stroke-width="2.0" stroke-linecap="round" fill="none"/>
<path d="M290.9 377.1L290.2 377.7M285.3 389.0L286.4 390.5M287.2 396.0L284.9 396.2M285.8 396.9L285.2 399.0M285.5 400.9L284.6 401.0M271.4 413.5L271.7 414.3" stroke="#151515" stroke-width="1.0" stroke-linecap="round" fill="none"/>
<path d="M573.9 403.1L574.4 404.9M574.0 406.4L574.1 408.4M578.3 425.2L576.9 426.4M578.6 429.2L579.8 431.1M580.3 434.7L580.7 435.9M584.5 444.2L583.9 444.8" stroke="#151515" stroke-width="1.0" stroke-linecap="round" fill="none"/>
<path d="M573.4 409.4L575.2 410.5M576.2 424.0L576.5 424.2M578.1 432.3L580.3 432.9M582.9 440.6L583.7 442.1" stroke="#151515" stroke-width="1.5" stroke-linecap="round" fill="none"/>
<path d="M578.3 411.2L578.5 411.5M580.0 419.1L581.3 419.8M582.5 421.3L581.7 423.1M583.1 422.8L582.8 424.6M584.2 426.0L583.3 427.4M584.6 428.9L584.8 429.5M585.5 430.8L586.3 431.6M587.1 434.3L587.9 435.3" stroke="#151515" stroke-width="1.5" stroke-linecap="round" fill="none"/>
<path d="M589.6 435.4L588.7 437.5M590.7 437.7L589.8 439.6" stroke="#151515" stroke-width="1.0" stroke-linecap="round" fill="none"/>
<path d="M584.3 403.4L585.9 404.5M586.6 406.5L585.3 407.7M585.4 408.6L587.4 409.0M588.3 415.1L590.2 416.4M589.9 416.9L590.1 417.8M590.1 419.6L591.8 421.1M593.3 424.6L594.6 425.6M597.0 430.3L596.9 431.5M598.2 435.5L600.3 436.5" stroke="#151515" stroke-width="1.5" stroke-linecap="round" fill="none"/>
<path d="M592.7 423.3L592.8 424.3M594.0 427.0L595.7 428.0M595.2 429.4L595.9 429.5M600.2 438.0L602.3 438.4" stroke="#151515" stroke-width="1.0" stroke-linecap="round" fill="none"/>
<path d="M589.7 411.9L590.3 412.2M591.6 413.9L591.5 415.1M591.4 416.2L591.7 417.1M596.5 424.8L595.2 426.1" stroke="#151515" stroke-width="1.0" stroke-linecap="round" fill="none"/>
<path d="M593.1 417.4L592.5 419.3M594.3 422.5L595.4 423.3" stroke="#151515" stroke-width="1.5" stroke-linecap="round" fill="none"/>
<path d="M578.6 659.1L576.7 660.5M575.7 669.4L575.1 671.2M573.8 675.9L573.4 676.3M573.1 679.7L573.1 681.2M572.4 683.2L570.4 684.1M571.0 689.5L569.7 690.9M568.3 696.3L567.3 696.6" stroke="#777" stroke-width="1.5" stroke-linecap="round" fill="none"/>
<path d="M576.3 661.4L578.0 663.1M576.8 663.5L576.8 665.8M576.3 668.5L575.8 668.8M574.2 672.0L575.0 672.6M573.8 678.5L573.3 679.3M570.1 687.4L571.4 689.0M570.2 692.4L568.8 693.5M568.5 693.6L568.1 695.6" stroke="#777" stroke-width="1.0" stroke-linecap="round" fill="none"/>
<path d="M585.8 657.0L586.5 659.0M586.2 659.8L585.8 659.9M585.6 664.3L584.6 665.7M584.3 668.7L583.8 669.0M581.4 674.7L581.4 676.9M577.6 683.2L576.5 683.1" stroke="#777" stroke-width="1.5" stroke-linecap="round" fill="none"/>
<path d="M585.2 661.3L585.3 662.8M583.9 671.0L582.2 671.6M582.7 672.8L581.3 673.8M581.2 676.7L580.2 678.8M575.4 684.3L575.6 685.8" stroke="#777" stroke-width="1.0" stroke-linecap="round" fill="none"/>
<path d="M10.0 35.3 L10.4 37.2 L10.8 39.2 L11.2 41.1 L11.6 43.1 L12.0 45.1 L12.4 47.0 L12.8 49.0 L13.2 50.9 L13.6 52.9 L14.0 54.9 L14.4 56.8 L14.8 58.8 L15.2 60.7 L15.6 62.7 L16.0 64.7 L16.4 66.6 L16.9 68.6 L17.3 70.5 L17.7 72.5 L18.1 74.4 L18.5 76.4 L18.9 78.4 L19.3 80.3 L19.7 82.3 L20.1 84.2 L20.5 86.2 L20.9 88.2 L21.3 90.1 L21.7 92.1 L22.1 94.0 L22.5 96.0 L22.9 98.0 L23.3 99.9 L23.7 101.9 L24.1 103.8 L24.5 105.8 L24.9 107.7 L25.4 109.7 L25.8 111.7 L26.2 113.6 L26.7 115.6 L27.1 117.5 L27.5 119.5 L28.0 121.4 L28.4 123.4 L28.8 125.3 L29.3 127.3 L29.7 129.2 L30.2 131.2 L30.6 133.1 L31.1 135.1 L31.5 137.0 L32.0 139.0 L32.4 140.9 L32.9 142.9 L33.3 144.8 L33.8 146.8 L34.3 148.7 L34.7 150.7 L35.2 152.6 L35.6 154.6 L36.1 156.5 L36.5 158.5 L37.0 160.4 L37.4 162.4 L37.9 164.3 L38.3 166.2 L38.8 168.2 L39.2 170.1 L39.6 172.1 L40.0 174.0 L40.5 176.0 L40.9 177.9 L41.3 179.9 L41.7 181.9 L42.1 183.8 L42.5 185.8 L42.9 187.7 L43.3 189.7 L43.7 191.6 L44.1 193.6 L44.5 195.5 L44.9 197.5 L45.3 199.5 L45.7 201.4 L46.1 203.4 L46.5 205.3 L46.9 207.3 L47.3 209.3 L47.7 211.2 L48.0 213.2 L48.4 215.1 L48.8 217.1 L49.2 219.1 L49.5 221.0 L49.9 223.0 L50.3 225.0 L50.6 226.9 L51.0 228.9 L51.3 230.9 L51.7 232.8 L52.1 234.8 L52.4 236.8 L52.8 238.7 L53.1 240.7 L53.5 242.7 L53.8 244.6 L54.1 246.6 L54.5 248.6 L54.8 250.5 L55.2 252.5 L55.5 254.5 L55.8 256.4 L56.1 258.4 L56.5 260.4 L56.8 262.3 L57.1 264.3 L57.4 266.3 L57.7 268.3 L58.0 270.2 L58.3 272.2 L58.6 274.2 L58.9 276.1 L59.2 278.1 L59.5 280.1 L59.8 282.1 L60.0 284.0 L60.3 286.0 L60.6 288.0 L60.8 290.0 L61.0 291.9 L61.3 293.9 L61.5 295.9 L61.8 297.9 L62.0 299.9 L62.2 301.9 L62.5 303.9 L62.7 305.8 L62.9 307.8 L63.1 309.8 L63.4 311.8 L63.6 313.8 L63.9 315.8 L64.1 317.8 L64.3 319.8 L64.6 321.7 L64.8 323.7 L65.1 325.7 L65.4 327.7 L65.6 329.7 L65.9 331.7 L66.1 333.7 L66.4 335.6 L66.7 337.6 L66.9 339.6 L67.2 341.6 L67.5 343.6 L67.7 345.6 L68.0 347.5 L68.2 349.5 L68.5 351.5 L68.7 353.5 L69.0 355.5 L69.2 357.4 L69.5 359.4 L69.7 361.4 L70.0 363.4 L70.2 365.4 L70.5 367.4 L70.7 369.3 L70.9 371.3 L71.1 373.3 L71.4 375.3 L71.6 377.3 L71.8 379.2 L72.0 381.2 L72.2 383.2 L72.4 385.2 L72.5 387.2 L72.7 389.2 L72.9 391.2 L73.0 393.1 L73.2 395.1 L73.4 397.1 L73.5 399.1 L73.7 401.1 L73.8 403.1 L73.9 405.1 L74.1 407.1 L74.2 409.1 L74.3 411.1 L74.5 413.1 L74.6 415.1 L74.7 417.0 L74.9 419.0 L75.0 421.0 L75.1 423.0 L75.3 425.0 L75.4 427.0 L75.6 429.0 L75.7 431.0 L75.8 433.0 L76.0 435.0 L76.2 437.0 L76.3 439.0 L76.5 441.0 L76.7 443.0 L76.8 445.0 L77.0 447.0 L77.2 449.0 L77.4 451.0 L77.6 453.0 L77.8 455.0 L78.0 457.0 L78.2 459.0 L78.4 461.0 L78.6 463.0 L78.8 465.0 L79.0 466.9 L79.2 468.9 L79.4 470.9 L79.6 472.9 L79.8 474.9 L80.0 476.9 L80.2 478.9 L80.4 480.9 L80.6 482.9 L80.8 484.9 L81.0 486.8 L81.2 488.8 L81.4 490.8 L81.6 492.8 L81.8 494.8 L82.0 496.8 L82.2 498.8 L82.4 500.8 L82.6 502.8 L82.8 504.7 L83.0 506.7 L83.2 508.7 L83.4 510.7 L83.6 512.7 L83.8 514.7 L84.0 516.7 L84.2 518.7 L84.4 520.7 L84.6 522.6 L84.8 524.6 L85.0 526.6 L85.1 528.6 L85.3 530.6 L85.5 532.6 L85.7 534.6 L85.9 536.6 L86.1 538.6 L86.3 540.6 L86.5 542.6 L86.7 544.6 L86.9 546.5 L87.1 548.5 L87.3 550.5 L87.5 552.5 L87.7 554.5 L87.9 556.5 L88.1 558.5 L88.4 560.5 L88.6 562.5 L88.8 564.5 L89.0 566.5 L89.3 568.5 L89.5 570.4 L89.7 572.4 L90.0 574.4 L90.2 576.4 L90.5 578.4 L90.7 580.4 L91.0 582.4 L91.2 584.4 L91.5 586.3 L91.7 588.3 L92.0 590.3 L92.3 592.3 L92.5 594.3 L92.8 596.3 L93.0 598.2 L93.3 600.2 L93.6 602.2 L93.8 604.2 L94.1 606.2 L94.3 608.2 L94.6 610.1 L94.8 612.1 L95.1 614.1 L95.3 616.1 L95.5 618.1 L95.8 620.0 L96.0 622.0 L96.2 624.0 L96.4 626.0 L96.7 628.0 L96.9 630.0 L97.1 631.9 L97.3 633.9 L97.5 635.9 L97.7 637.9 L97.9 639.9 L98.1 641.9 L98.2 643.9 L98.4 645.8 L98.6 647.8 L98.8 649.8 L98.9 651.8 L99.1 653.8 L99.3 655.8 L99.4 657.8 L99.6 659.8 L99.7 661.8 L99.9 663.7 L100.0 665.7 L100.1 667.7 L100.3 669.7 L100.4 671.7 L100.5 673.7 L100.6 675.7 L100.7 677.7 L100.7 679.6 L100.8 681.6 L100.8 683.6 L100.9 685.6 L100.9 687.6 L100.9 689.6 L100.9 691.6 L100.9 693.6 L100.9 695.5 L100.9 697.5 L100.9 699.5 L100.8 701.5 L100.8 703.5 L100.8 705.5 L100.8 707.5 L100.8 709.5 L100.7 711.5 L100.7 713.5 L100.6 715.5 L100.5 717.4 L100.4 719.4 L100.2 721.4 L100.1 723.4 L99.9 725.4 L99.8 727.3 L99.6 729.3 L99.4 731.3 L99.2 733.2 L99.0 735.2 L98.7 737.1 L98.4 739.1 L98.1 741.0 L97.7 742.9 L97.2 744.7 L96.7 746.6 L96.2 748.5 L95.5 750.3 L94.9 752.1 L94.2 754.0 L93.5 755.8 L92.7 757.6 L91.9 759.4 L91.1 761.3 L90.3 763.1 L89.5 764.9 L88.7 766.7 L87.9 768.6 L87.1 770.4 L86.3 772.2 L85.5 774.0 L84.6 775.8 L83.8 777.6 L82.9 779.4 L82.1 781.2 L81.2 783.0 L80.4 784.9 L79.5 786.7 L78.7 788.5 L77.8 790.3 L77.0 792.1 L76.1 794.0 L75.3 795.8 L74.5 797.7 L73.7 799.5 L73.0 801.4 L72.2 803.2 L71.4 805.1 L70.7 806.9 L69.9 808.8 L69.2 810.7 L68.4 812.5 L67.7 814.4 L67.0 816.3 L66.3 818.2 L65.5 820.0 L64.8 821.9 L64.1 823.8 L63.4 825.6 L62.7 827.5 L62.0 829.4 L61.3 831.3 L60.6 833.1 L59.9 835.0 L59.2 836.9 L58.5 838.7 L57.8 840.6 L57.1 842.5 L56.4 844.4 L55.7 846.3 L55.0 848.2 L54.4 850.1 L53.7 852.0 L53.1 853.9 L52.5 855.9 L51.9 857.8 L51.3 859.7 L50.8 861.7 L50.2 863.6 L49.7 865.5 L49.2 867.5 L48.6 869.4 L48.1 871.4 L47.6 873.3 L47.1 875.3 L46.7 877.2 L46.2 879.1 L45.7 881.1 L45.2 883.0 L44.7 885.0 L44.3 886.9 L43.8 888.9 L43.3 890.8 L42.9 892.8 L42.4 894.7 L42.0 896.7 L41.5 898.6 L41.0 900.6 L40.6 902.5 L40.1 904.4 L39.6 906.4 L39.2 908.3 L38.7 910.3 L38.2 912.2 L37.8 914.2 L37.3 916.1 L36.9 918.1 L36.4 920.0 L36.0 922.0 L35.5 923.9 L35.1 925.9 L34.7 927.9 L34.2 929.8 L33.8 931.8 L33.4 933.8 L33.0 935.7 L32.6 937.7 L32.2 939.7 L31.9 941.7 L31.5 943.7 L31.2 945.7 L30.9 947.7 L30.6 949.7 L30.4 951.7 L30.1 953.7 L29.9 955.7 L29.6 957.7 L29.4 959.7 L29.2 961.7 L29.0 963.7 L28.8 965.6 L28.6 967.6 L28.4 969.6 L28.2 971.6 L28.0 973.6 L27.8 975.6 L27.5 977.6 L27.3 979.5 L27.1 981.5 L26.9 983.5 L26.7 985.5 L26.5 987.5 L26.3 989.5 L26.1 991.5 L25.9 993.5 L25.7 995.5 L25.6 997.5 L25.4 999.5 L25.2 1001.5 L25.1 1003.5 L24.9 1005.5 L24.8 1007.5 L24.7 1009.5 L24.5 1011.5 L24.4 1013.5 L24.3 1015.5 L24.2 1017.5 L24.1 1019.5 L24.0 1021.5 L23.9 1023.6 L23.8 1025.6 L23.7 1027.6 L23.7 1029.6 L23.6 1031.6 L23.6 1033.6 L23.6 1035.7 L23.7 1037.7 L23.7 1039.7 L23.8 1041.7 L23.8 1043.7 L23.9 1045.8 L24.0 1047.8 L24.1 1049.8 L24.3 1051.8 L24.4 1053.8 L24.5 1055.7 L24.6 1057.7 L24.7 1059.7 L24.8 1061.7 L24.9 1063.7 L24.9 1065.7 L25.0 1067.7 L25.1 1069.7 L25.2 1071.7 L25.3 1073.7 L25.3 1075.7 L25.4 1077.7 L25.5 1079.7 L25.6 1081.7 L25.7 1083.7 L25.8 1085.7 L25.9 1087.7 L26.0 1089.7 L26.1 1091.7 L26.2 1093.7 L26.3 1095.7 L26.4 1097.7 L26.6 1099.7 L26.7 1101.7 L26.9 1103.8 L27.1 1105.8 L27.3 1107.8 L27.5 1109.8 L27.7 1111.8 L28.0 1113.8 L28.2 1115.8 L28.5 1117.8 L28.7 1119.8 L29.0 1121.8 L29.3 1123.7 L29.6 1125.7 L30.0 1127.7 L30.3 1129.7 L30.6 1131.7 L30.9 1133.6 L31.3 1135.6 L31.6 1137.6 L31.9 1139.6 L32.3 1141.5 L32.6 1143.5 L33.0 1145.5 L33.3 1147.5 L33.6 1149.4 L34.0 1151.4 L34.3 1153.4 L34.6 1155.3 L35.0 1157.3 L35.3 1159.3 L35.6 1161.2 L36.0 1163.2 L36.3 1165.2 L36.6 1167.2 L36.9 1169.1 L37.3 1171.1 L37.6 1173.1 L37.9 1175.1 L38.3 1177.0 L38.6 1179.0 L39.0 1181.0 L39.3 1183.0 L39.6 1184.9 L40.0 1186.9 L40.3 1188.9 L40.7 1190.8 L41.0 1192.8 L41.3 1194.8 L41.7 1196.8 L42.0 1198.7 L42.4 1200.7 L42.7 1202.7 L43.1 1204.6 L43.5 1206.6 L43.8 1208.6 L44.2 1210.5 L44.6 1212.5 L44.9 1214.5 L45.3 1216.5 L45.7 1218.4 L46.1 1220.4 L46.5 1222.4 L46.8 1224.3 L47.2 1226.3 L47.6 1228.2 L48.0 1230.2 L48.4 1232.2 L48.8 1234.1 L49.2 1236.0 L49.5 1237.8 L52.9 1237.2 L52.6 1235.4 L52.2 1233.4 L51.8 1231.5 L51.5 1229.5 L51.1 1227.6 L50.7 1225.6 L50.4 1223.6 L50.0 1221.7 L49.6 1219.7 L49.3 1217.7 L48.9 1215.8 L48.5 1213.8 L48.2 1211.9 L47.8 1209.9 L47.5 1207.9 L47.2 1206.0 L46.8 1204.0 L46.5 1202.0 L46.1 1200.0 L45.8 1198.1 L45.5 1196.1 L45.2 1194.1 L44.8 1192.2 L44.5 1190.2 L44.2 1188.2 L43.9 1186.2 L43.5 1184.3 L43.2 1182.3 L42.9 1180.3 L42.6 1178.4 L42.3 1176.4 L41.9 1174.4 L41.6 1172.4 L41.3 1170.5 L41.0 1168.5 L40.7 1166.5 L40.4 1164.5 L40.1 1162.6 L39.8 1160.6 L39.4 1158.6 L39.1 1156.6 L38.8 1154.7 L38.5 1152.7 L38.2 1150.7 L37.9 1148.7 L37.6 1146.7 L37.2 1144.8 L36.9 1142.8 L36.6 1140.8 L36.3 1138.8 L36.0 1136.9 L35.6 1134.9 L35.3 1132.9 L35.0 1131.0 L34.7 1129.0 L34.4 1127.0 L34.1 1125.1 L33.8 1123.1 L33.6 1121.1 L33.3 1119.1 L33.0 1117.2 L32.8 1115.2 L32.5 1113.2 L32.3 1111.3 L32.1 1109.3 L31.9 1107.3 L31.7 1105.3 L31.5 1103.4 L31.3 1101.4 L31.2 1099.4 L31.0 1097.4 L30.9 1095.4 L30.8 1093.4 L30.7 1091.5 L30.5 1089.5 L30.4 1087.5 L30.3 1085.5 L30.3 1083.5 L30.2 1081.5 L30.1 1079.5 L30.0 1077.5 L29.9 1075.5 L29.8 1073.5 L29.8 1071.5 L29.7 1069.5 L29.6 1067.5 L29.5 1065.5 L29.4 1063.5 L29.4 1061.5 L29.3 1059.5 L29.2 1057.5 L29.1 1055.5 L28.9 1053.5 L28.8 1051.5 L28.7 1049.5 L28.6 1047.5 L28.5 1045.5 L28.4 1043.5 L28.3 1041.6 L28.3 1039.6 L28.2 1037.6 L28.2 1035.6 L28.2 1033.7 L28.2 1031.7 L28.3 1029.7 L28.3 1027.7 L28.4 1025.7 L28.4 1023.7 L28.5 1021.8 L28.6 1019.8 L28.7 1017.8 L28.8 1015.8 L29.0 1013.8 L29.1 1011.8 L29.2 1009.8 L29.4 1007.8 L29.5 1005.8 L29.7 1003.9 L29.8 1001.9 L30.0 999.9 L30.1 997.9 L30.3 995.9 L30.5 993.9 L30.7 991.9 L30.8 990.0 L31.0 988.0 L31.2 986.0 L31.4 984.0 L31.7 982.0 L31.9 980.0 L32.1 978.1 L32.3 976.1 L32.5 974.1 L32.7 972.1 L32.9 970.1 L33.2 968.1 L33.4 966.1 L33.6 964.1 L33.8 962.1 L34.0 960.1 L34.2 958.2 L34.4 956.2 L34.6 954.2 L34.9 952.3 L35.1 950.3 L35.4 948.3 L35.7 946.4 L36.0 944.4 L36.4 942.5 L36.7 940.5 L37.1 938.6 L37.5 936.6 L37.9 934.7 L38.3 932.7 L38.7 930.8 L39.1 928.8 L39.5 926.9 L40.0 924.9 L40.4 923.0 L40.9 921.1 L41.3 919.1 L41.8 917.2 L42.2 915.2 L42.7 913.3 L43.1 911.3 L43.6 909.4 L44.1 907.4 L44.5 905.5 L45.0 903.6 L45.5 901.6 L45.9 899.7 L46.4 897.7 L46.8 895.8 L47.3 893.8 L47.8 891.9 L48.2 889.9 L48.7 888.0 L49.2 886.1 L49.6 884.1 L50.1 882.2 L50.6 880.2 L51.1 878.3 L51.5 876.4 L52.0 874.4 L52.5 872.5 L53.0 870.6 L53.5 868.7 L54.1 866.7 L54.6 864.8 L55.1 862.9 L55.7 861.0 L56.3 859.1 L56.8 857.2 L57.4 855.3 L58.1 853.4 L58.7 851.6 L59.3 849.7 L60.0 847.8 L60.7 845.9 L61.3 844.1 L62.0 842.2 L62.7 840.3 L63.4 838.5 L64.1 836.6 L64.8 834.7 L65.5 832.9 L66.3 831.0 L67.0 829.1 L67.7 827.2 L68.4 825.4 L69.1 823.5 L69.8 821.6 L70.5 819.8 L71.2 817.9 L71.9 816.1 L72.7 814.2 L73.4 812.3 L74.1 810.5 L74.9 808.6 L75.6 806.8 L76.4 805.0 L77.1 803.1 L77.9 801.3 L78.7 799.5 L79.5 797.6 L80.3 795.8 L81.1 794.0 L81.9 792.2 L82.8 790.4 L83.6 788.6 L84.4 786.8 L85.3 785.0 L86.2 783.2 L87.0 781.4 L87.9 779.5 L88.7 777.7 L89.6 775.9 L90.4 774.1 L91.2 772.2 L92.0 770.4 L92.9 768.6 L93.7 766.7 L94.5 764.9 L95.3 763.1 L96.1 761.2 L96.9 759.4 L97.6 757.5 L98.4 755.6 L99.1 753.7 L99.8 751.8 L100.5 749.8 L101.1 747.9 L101.6 745.9 L102.1 743.9 L102.5 741.8 L102.9 739.8 L103.2 737.8 L103.5 735.8 L103.7 733.8 L103.9 731.7 L104.1 729.7 L104.3 727.7 L104.4 725.7 L104.6 723.7 L104.7 721.7 L104.9 719.7 L105.0 717.7 L105.1 715.7 L105.2 713.6 L105.2 711.6 L105.3 709.6 L105.3 707.6 L105.3 705.6 L105.3 703.6 L105.3 701.6 L105.4 699.6 L105.4 697.6 L105.4 695.6 L105.4 693.6 L105.4 691.6 L105.4 689.6 L105.4 687.5 L105.4 685.5 L105.3 683.5 L105.3 681.5 L105.2 679.5 L105.2 677.5 L105.1 675.5 L105.0 673.5 L104.9 671.4 L104.7 669.4 L104.6 667.4 L104.5 665.4 L104.3 663.4 L104.2 661.4 L104.1 659.4 L103.9 657.4 L103.7 655.4 L103.6 653.4 L103.4 651.4 L103.2 649.4 L103.1 647.4 L102.9 645.4 L102.7 643.4 L102.5 641.5 L102.3 639.5 L102.1 637.5 L101.9 635.5 L101.7 633.5 L101.5 631.5 L101.3 629.5 L101.1 627.5 L100.9 625.5 L100.7 623.5 L100.5 621.5 L100.2 619.5 L100.0 617.5 L99.8 615.5 L99.5 613.6 L99.3 611.6 L99.0 609.6 L98.8 607.6 L98.5 605.6 L98.3 603.6 L98.0 601.6 L97.7 599.6 L97.5 597.7 L97.2 595.7 L97.0 593.7 L96.7 591.7 L96.4 589.7 L96.2 587.8 L95.9 585.8 L95.7 583.8 L95.4 581.8 L95.2 579.8 L94.9 577.8 L94.7 575.9 L94.4 573.9 L94.2 571.9 L93.9 569.9 L93.7 567.9 L93.5 566.0 L93.3 564.0 L93.0 562.0 L92.8 560.0 L92.6 558.0 L92.4 556.0 L92.2 554.0 L92.0 552.1 L91.8 550.1 L91.6 548.1 L91.3 546.1 L91.1 544.1 L90.9 542.1 L90.8 540.1 L90.6 538.1 L90.4 536.2 L90.2 534.2 L90.0 532.2 L89.8 530.2 L89.6 528.2 L89.4 526.2 L89.2 524.2 L89.0 522.2 L88.8 520.2 L88.6 518.2 L88.4 516.2 L88.2 514.3 L88.1 512.3 L87.9 510.3 L87.7 508.3 L87.5 506.3 L87.3 504.3 L87.1 502.3 L86.9 500.3 L86.7 498.3 L86.5 496.3 L86.3 494.3 L86.1 492.4 L85.9 490.4 L85.6 488.4 L85.4 486.4 L85.2 484.4 L85.0 482.4 L84.8 480.4 L84.6 478.4 L84.4 476.4 L84.2 474.4 L84.0 472.5 L83.8 470.5 L83.6 468.5 L83.4 466.5 L83.2 464.5 L83.0 462.5 L82.8 460.5 L82.6 458.5 L82.4 456.6 L82.2 454.6 L82.0 452.6 L81.8 450.6 L81.6 448.6 L81.5 446.6 L81.3 444.6 L81.1 442.6 L80.9 440.6 L80.8 438.7 L80.6 436.7 L80.4 434.7 L80.3 432.7 L80.1 430.7 L80.0 428.7 L79.8 426.7 L79.7 424.7 L79.6 422.7 L79.4 420.7 L79.3 418.7 L79.2 416.8 L79.0 414.8 L78.9 412.8 L78.8 410.8 L78.6 408.8 L78.5 406.8 L78.4 404.8 L78.2 402.8 L78.1 400.8 L77.9 398.8 L77.8 396.8 L77.6 394.8 L77.5 392.8 L77.3 390.8 L77.1 388.8 L77.0 386.8 L76.8 384.8 L76.6 382.8 L76.4 380.8 L76.2 378.8 L76.0 376.8 L75.8 374.8 L75.5 372.8 L75.3 370.8 L75.1 368.8 L74.9 366.8 L74.6 364.8 L74.4 362.9 L74.1 360.9 L73.9 358.9 L73.6 356.9 L73.4 354.9 L73.1 352.9 L72.9 350.9 L72.6 348.9 L72.4 347.0 L72.1 345.0 L71.8 343.0 L71.6 341.0 L71.3 339.0 L71.0 337.0 L70.8 335.1 L70.5 333.1 L70.3 331.1 L70.0 329.1 L69.7 327.1 L69.5 325.2 L69.2 323.2 L69.0 321.2 L68.7 319.2 L68.5 317.2 L68.2 315.2 L68.0 313.3 L67.8 311.3 L67.5 309.3 L67.3 307.3 L67.1 305.3 L66.8 303.3 L66.6 301.4 L66.4 299.4 L66.1 297.4 L65.9 295.4 L65.7 293.4 L65.4 291.4 L65.2 289.4 L64.9 287.4 L64.7 285.4 L64.4 283.5 L64.1 281.5 L63.9 279.5 L63.6 277.5 L63.3 275.5 L63.0 273.5 L62.7 271.5 L62.4 269.6 L62.1 267.6 L61.8 265.6 L61.5 263.6 L61.1 261.6 L60.8 259.7 L60.5 257.7 L60.2 255.7 L59.8 253.7 L59.5 251.8 L59.2 249.8 L58.8 247.8 L58.5 245.8 L58.1 243.9 L57.8 241.9 L57.4 239.9 L57.1 237.9 L56.7 236.0 L56.4 234.0 L56.0 232.0 L55.7 230.1 L55.3 228.1 L54.9 226.1 L54.6 224.2 L54.2 222.2 L53.8 220.2 L53.5 218.3 L53.1 216.3 L52.7 214.3 L52.3 212.4 L52.0 210.4 L51.6 208.4 L51.2 206.5 L50.8 204.5 L50.4 202.5 L50.0 200.6 L49.6 198.6 L49.2 196.6 L48.8 194.7 L48.5 192.7 L48.0 190.7 L47.6 188.8 L47.2 186.8 L46.8 184.9 L46.4 182.9 L46.0 180.9 L45.6 179.0 L45.2 177.0 L44.8 175.1 L44.3 173.1 L43.9 171.2 L43.5 169.2 L43.0 167.2 L42.6 165.3 L42.2 163.3 L41.7 161.4 L41.3 159.4 L40.8 157.5 L40.4 155.5 L39.9 153.6 L39.4 151.6 L39.0 149.7 L38.5 147.7 L38.1 145.8 L37.6 143.8 L37.2 141.9 L36.7 139.9 L36.2 138.0 L35.8 136.0 L35.3 134.1 L34.9 132.2 L34.4 130.2 L34.0 128.3 L33.5 126.3 L33.1 124.4 L32.7 122.4 L32.2 120.5 L31.8 118.5 L31.4 116.6 L30.9 114.6 L30.5 112.7 L30.1 110.7 L29.6 108.8 L29.2 106.8 L28.8 104.9 L28.3 102.9 L27.8 101.0 L27.4 99.0 L26.9 97.1 L26.5 95.1 L26.0 93.2 L25.6 91.2 L25.1 89.3 L24.7 87.3 L24.2 85.4 L23.8 83.4 L23.3 81.5 L22.9 79.5 L22.4 77.6 L22.0 75.6 L21.5 73.7 L21.1 71.7 L20.6 69.8 L20.2 67.8 L19.7 65.9 L19.2 63.9 L18.8 62.0 L18.3 60.1 L17.9 58.1 L17.4 56.2 L17.0 54.2 L16.5 52.3 L16.1 50.3 L15.6 48.4 L15.2 46.4 L14.7 44.5 L14.3 42.5 L13.8 40.6 L13.3 38.6 L12.9 36.7 L12.4 34.7 Z" fill="#0d0d0d"/>
<path d="M290.1 45.8 L290.1 47.8 L290.1 49.8 L290.2 51.8 L290.2 53.8 L290.2 55.8 L290.3 57.8 L290.3 59.8 L290.4 61.8 L290.4 63.8 L290.4 65.8 L290.5 67.8 L290.5 69.8 L290.6 71.8 L290.6 73.8 L290.6 75.8 L290.7 77.8 L290.7 79.8 L290.8 81.8 L290.8 83.8 L290.8 85.8 L290.9 87.8 L291.0 89.8 L291.0 91.8 L291.1 93.8 L291.1 95.8 L291.1 97.8 L291.2 99.8 L291.2 101.8 L291.3 103.8 L291.3 105.8 L291.4 107.8 L291.4 109.8 L291.4 111.8 L291.5 113.8 L291.5 115.8 L291.5 117.8 L291.6 119.8 L291.6 121.8 L291.6 123.8 L291.6 125.8 L291.6 127.8 L291.7 129.8 L291.7 131.8 L291.7 133.8 L291.7 135.8 L291.7 137.8 L291.7 139.8 L291.7 141.8 L291.7 143.8 L291.8 145.8 L291.8 147.8 L291.8 149.8 L291.8 151.8 L291.8 153.8 L291.8 155.8 L291.8 157.8 L291.8 159.8 L291.8 161.8 L291.8 163.8 L291.8 165.8 L291.8 167.8 L291.8 169.8 L291.9 171.8 L291.9 173.8 L291.9 175.8 L291.9 177.8 L291.9 179.8 L291.9 181.8 L292.0 183.8 L292.0 185.8 L292.0 187.8 L292.0 189.8 L292.1 191.8 L292.1 193.8 L292.1 195.8 L292.1 197.8 L292.2 199.8 L292.2 201.8 L292.2 203.8 L292.2 205.8 L292.3 207.8 L292.3 209.8 L292.3 211.8 L292.3 213.8 L292.4 215.8 L292.4 217.8 L292.4 219.8 L292.5 221.8 L292.5 223.8 L292.5 225.8 L292.6 227.8 L292.6 229.8 L292.6 231.8 L292.7 233.8 L292.7 235.8 L292.7 237.8 L292.8 239.8 L292.8 241.8 L292.8 243.8 L292.9 245.8 L292.9 247.8 L293.0 249.8 L293.0 251.8 L293.1 253.8 L293.1 255.8 L293.2 257.8 L293.3 259.8 L293.4 261.8 L293.4 263.8 L293.5 265.8 L293.6 267.8 L293.7 269.8 L293.8 271.8 L293.9 273.8 L294.0 275.8 L294.1 277.8 L294.2 279.8 L294.3 281.8 L294.4 283.8 L294.4 285.8 L294.5 287.8 L294.5 289.7 L294.5 291.7 L294.4 293.7 L294.4 295.7 L294.3 297.7 L294.3 299.7 L294.2 301.6 L294.1 303.6 L293.9 305.6 L293.8 307.6 L293.7 309.6 L293.5 311.6 L293.4 313.6 L293.2 315.6 L293.0 317.6 L292.9 319.5 L292.7 321.5 L292.5 323.5 L292.4 325.5 L292.2 327.5 L292.0 329.5 L291.8 331.5 L291.6 333.5 L291.4 335.4 L291.2 337.4 L291.0 339.4 L290.7 341.4 L290.5 343.4 L290.3 345.3 L290.0 347.3 L289.8 349.3 L289.5 351.3 L289.2 353.3 L288.9 355.2 L288.7 357.2 L288.3 359.1 L288.0 361.1 L287.7 363.0 L287.3 365.0 L286.9 366.9 L286.4 368.8 L285.9 370.7 L285.4 372.6 L284.9 374.5 L284.3 376.4 L283.7 378.2 L283.0 380.1 L282.3 381.9 L281.6 383.8 L280.9 385.6 L280.1 387.4 L279.2 389.2 L278.4 390.9 L277.5 392.7 L276.6 394.4 L275.6 396.1 L274.6 397.8 L273.6 399.5 L272.5 401.1 L271.4 402.7 L270.2 404.2 L269.0 405.8 L267.8 407.3 L266.5 408.8 L265.2 410.2 L263.9 411.6 L262.5 413.0 L261.0 414.3 L259.6 415.6 L258.1 416.9 L256.6 418.1 L255.1 419.4 L253.5 420.6 L251.9 421.8 L250.3 422.9 L248.7 424.1 L247.1 425.2 L245.5 426.3 L243.8 427.4 L242.2 428.5 L240.5 429.5 L238.8 430.6 L237.1 431.5 L235.4 432.5 L233.7 433.4 L232.0 434.2 L230.2 435.0 L228.4 435.8 L226.6 436.5 L224.7 437.2 L222.9 437.9 L221.0 438.5 L219.1 439.2 L217.2 439.9 L215.3 440.6 L213.4 441.4 L211.5 442.2 L209.7 442.9 L207.8 443.7 L206.0 444.5 L204.1 445.3 L202.3 446.2 L200.5 447.0 L198.6 447.8 L196.8 448.7 L195.0 449.6 L193.2 450.6 L191.4 451.5 L189.6 452.6 L187.8 453.6 L186.1 454.8 L184.4 456.0 L182.8 457.2 L181.2 458.6 L179.6 460.0 L178.1 461.5 L176.7 463.0 L175.4 464.6 L174.1 466.3 L172.9 467.9 L171.7 469.6 L170.6 471.3 L169.5 473.1 L168.5 474.8 L167.4 476.5 L166.4 478.2 L165.4 480.0 L164.4 481.8 L163.4 483.5 L162.5 485.3 L161.5 487.2 L160.7 489.0 L159.8 490.9 L159.0 492.7 L158.2 494.6 L157.4 496.4 L156.6 498.3 L155.9 500.1 L155.1 502.0 L154.4 503.9 L153.6 505.7 L152.9 507.6 L152.2 509.5 L151.5 511.4 L150.8 513.3 L150.2 515.2 L149.5 517.2 L148.9 519.1 L148.4 521.1 L147.8 523.0 L147.3 525.0 L146.8 526.9 L146.3 528.9 L145.8 530.8 L145.4 532.8 L144.9 534.8 L144.5 536.7 L144.1 538.7 L143.6 540.6 L143.2 542.6 L142.8 544.6 L142.4 546.5 L142.0 548.5 L141.6 550.4 L141.2 552.4 L140.8 554.3 L140.3 556.3 L139.9 558.3 L139.5 560.2 L139.1 562.2 L138.7 564.2 L138.3 566.2 L138.0 568.1 L137.6 570.1 L137.3 572.1 L137.0 574.1 L136.7 576.1 L136.5 578.2 L136.3 580.2 L136.1 582.2 L135.9 584.2 L135.7 586.2 L135.5 588.2 L135.3 590.2 L135.2 592.2 L135.1 594.2 L134.9 596.2 L134.8 598.2 L134.7 600.2 L134.6 602.2 L134.5 604.2 L134.4 606.2 L134.3 608.2 L134.2 610.3 L134.2 612.3 L134.1 614.3 L134.1 616.3 L134.0 618.3 L134.0 620.3 L134.0 622.3 L134.0 624.4 L134.1 626.4 L134.1 628.4 L134.2 630.4 L134.3 632.4 L134.4 634.4 L134.5 636.5 L134.6 638.5 L134.8 640.5 L135.0 642.5 L135.2 644.5 L135.4 646.5 L135.7 648.5 L135.9 650.5 L136.2 652.5 L136.5 654.5 L136.8 656.5 L137.1 658.5 L137.5 660.5 L137.9 662.5 L138.3 664.5 L138.7 666.5 L139.1 668.4 L139.5 670.4 L140.0 672.4 L140.5 674.3 L140.9 676.3 L141.4 678.2 L142.0 680.2 L142.5 682.1 L143.0 684.1 L143.6 686.0 L144.1 687.9 L144.7 689.9 L145.3 691.8 L145.9 693.7 L146.5 695.6 L147.1 697.5 L147.7 699.5 L148.4 701.4 L149.0 703.3 L149.7 705.2 L150.4 707.1 L151.1 709.0 L151.8 710.8 L152.5 712.7 L153.3 714.6 L154.1 716.5 L154.8 718.3 L155.7 720.2 L156.5 722.0 L157.3 723.9 L158.2 725.7 L159.1 727.5 L160.0 729.3 L160.9 731.1 L161.9 732.9 L162.8 734.7 L163.8 736.5 L164.8 738.2 L165.8 740.0 L166.8 741.7 L167.8 743.4 L168.9 745.2 L170.0 746.9 L171.1 748.6 L172.2 750.3 L173.3 752.0 L174.5 753.6 L175.6 755.3 L176.8 756.9 L178.0 758.5 L179.2 760.1 L180.4 761.7 L181.6 763.3 L182.9 764.9 L184.1 766.5 L185.3 768.1 L186.5 769.7 L187.7 771.3 L189.0 772.9 L190.2 774.4 L191.5 776.0 L192.7 777.6 L194.0 779.1 L195.3 780.7 L196.6 782.2 L197.8 783.8 L199.1 785.3 L200.3 786.9 L201.6 788.4 L202.8 790.0 L204.0 791.5 L205.2 793.1 L206.4 794.7 L207.5 796.3 L208.6 797.9 L209.7 799.6 L210.7 801.2 L211.7 802.9 L212.7 804.6 L213.6 806.3 L214.5 808.1 L215.4 809.8 L216.3 811.6 L217.2 813.4 L218.1 815.2 L219.0 817.0 L219.9 818.8 L220.8 820.6 L221.7 822.4 L222.6 824.2 L223.6 825.9 L224.6 827.7 L225.5 829.5 L226.5 831.2 L227.4 833.0 L228.4 834.7 L229.4 836.5 L230.3 838.2 L231.3 840.0 L232.2 841.7 L233.1 843.5 L234.1 845.3 L235.0 847.0 L235.9 848.8 L236.7 850.6 L237.6 852.4 L238.5 854.1 L239.3 855.9 L240.1 857.7 L240.9 859.6 L241.7 861.4 L242.5 863.2 L243.3 865.0 L244.0 866.9 L244.8 868.7 L245.5 870.6 L246.2 872.4 L246.9 874.3 L247.7 876.1 L248.4 878.0 L249.1 879.9 L249.7 881.7 L250.4 883.6 L251.0 885.5 L251.7 887.3 L252.3 889.2 L252.8 891.1 L253.3 893.0 L253.8 894.9 L254.3 896.8 L254.7 898.7 L255.1 900.6 L255.5 902.6 L255.8 904.5 L256.1 906.5 L256.3 908.4 L256.6 910.4 L256.8 912.4 L257.0 914.3 L257.2 916.3 L257.4 918.3 L257.6 920.3 L257.8 922.3 L257.9 924.2 L258.1 926.2 L258.2 928.2 L258.4 930.2 L258.5 932.2 L258.7 934.2 L258.8 936.2 L259.0 938.2 L259.1 940.2 L259.2 942.2 L259.4 944.2 L259.5 946.2 L259.7 948.2 L259.8 950.2 L260.0 952.2 L260.1 954.1 L260.2 956.1 L260.4 958.1 L260.5 960.1 L260.7 962.1 L260.8 964.1 L260.9 966.1 L261.1 968.1 L261.2 970.1 L261.4 972.1 L261.5 974.1 L261.7 976.1 L261.8 978.1 L262.0 980.1 L262.2 982.1 L262.4 984.1 L262.6 986.1 L262.8 988.1 L263.0 990.1 L263.3 992.1 L263.4 994.0 L263.6 996.0 L263.7 998.0 L263.9 1000.0 L264.0 1002.0 L264.1 1004.0 L264.3 1006.0 L264.4 1008.0 L264.5 1009.9 L264.7 1011.9 L264.8 1013.9 L264.9 1015.9 L265.0 1017.9 L265.2 1019.9 L265.3 1021.9 L265.4 1023.9 L265.5 1025.9 L265.7 1027.9 L265.8 1029.9 L265.9 1031.9 L266.0 1033.9 L266.1 1035.9 L266.2 1037.9 L266.3 1039.9 L266.5 1041.9 L266.6 1043.9 L266.7 1045.9 L266.8 1047.9 L266.9 1049.9 L267.0 1051.8 L267.1 1053.8 L267.2 1055.8 L267.3 1057.8 L267.4 1059.8 L267.4 1061.8 L267.5 1063.8 L267.6 1065.8 L267.7 1067.8 L267.8 1069.8 L267.9 1071.8 L267.9 1073.8 L268.0 1075.8 L268.1 1077.8 L268.2 1079.8 L268.2 1081.8 L268.3 1083.8 L268.4 1085.8 L268.5 1087.8 L268.5 1089.8 L268.6 1091.8 L268.7 1093.8 L268.7 1095.8 L268.8 1097.8 L268.9 1099.8 L268.9 1101.8 L269.0 1103.8 L269.1 1105.8 L269.1 1107.8 L269.2 1109.8 L269.3 1111.8 L269.3 1113.8 L269.4 1115.8 L269.5 1117.8 L269.5 1119.8 L269.6 1121.8 L269.7 1123.8 L269.7 1125.8 L269.8 1127.8 L269.8 1129.8 L269.9 1131.8 L270.0 1133.8 L270.0 1135.8 L270.1 1137.8 L270.1 1139.7 L270.2 1141.7 L270.2 1143.7 L270.3 1145.7 L270.3 1147.7 L270.4 1149.7 L270.4 1151.7 L270.5 1153.7 L270.5 1155.7 L270.6 1157.7 L270.6 1159.7 L270.7 1161.7 L270.7 1163.7 L270.7 1165.7 L270.8 1167.7 L270.8 1169.7 L270.8 1171.7 L270.8 1173.7 L270.9 1175.7 L270.9 1177.7 L270.8 1179.7 L270.8 1181.7 L270.8 1183.7 L270.7 1185.6 L270.7 1187.6 L270.6 1189.6 L270.5 1191.6 L270.3 1193.6 L270.2 1195.5 L270.0 1197.5 L269.8 1199.5 L269.6 1201.4 L269.4 1203.4 L269.3 1204.9 L272.7 1205.1 L272.8 1203.7 L273.0 1201.8 L273.3 1199.8 L273.5 1197.8 L273.6 1195.8 L273.8 1193.8 L274.0 1191.8 L274.1 1189.8 L274.2 1187.8 L274.2 1185.7 L274.3 1183.7 L274.3 1181.7 L274.3 1179.7 L274.4 1177.7 L274.4 1175.7 L274.4 1173.7 L274.3 1171.7 L274.3 1169.7 L274.3 1167.7 L274.3 1165.7 L274.2 1163.7 L274.2 1161.7 L274.2 1159.7 L274.1 1157.7 L274.1 1155.7 L274.0 1153.7 L274.0 1151.7 L273.9 1149.7 L273.9 1147.7 L273.8 1145.7 L273.8 1143.7 L273.7 1141.7 L273.7 1139.7 L273.6 1137.7 L273.6 1135.7 L273.5 1133.7 L273.5 1131.7 L273.4 1129.7 L273.4 1127.7 L273.3 1125.7 L273.3 1123.7 L273.2 1121.7 L273.1 1119.7 L273.1 1117.7 L273.0 1115.7 L273.0 1113.7 L272.9 1111.7 L272.8 1109.7 L272.8 1107.7 L272.7 1105.7 L272.6 1103.7 L272.6 1101.7 L272.5 1099.7 L272.5 1097.7 L272.4 1095.7 L272.3 1093.7 L272.3 1091.7 L272.2 1089.7 L272.1 1087.7 L272.1 1085.7 L272.0 1083.7 L271.9 1081.7 L271.8 1079.7 L271.8 1077.7 L271.7 1075.7 L271.6 1073.7 L271.5 1071.7 L271.5 1069.7 L271.4 1067.7 L271.3 1065.7 L271.2 1063.7 L271.1 1061.7 L271.1 1059.7 L271.0 1057.7 L270.9 1055.7 L270.8 1053.7 L270.7 1051.7 L270.6 1049.7 L270.5 1047.7 L270.4 1045.7 L270.3 1043.7 L270.2 1041.7 L270.1 1039.7 L270.0 1037.7 L269.9 1035.7 L269.8 1033.7 L269.7 1031.7 L269.5 1029.7 L269.4 1027.7 L269.3 1025.7 L269.2 1023.7 L269.1 1021.7 L268.9 1019.7 L268.8 1017.7 L268.7 1015.7 L268.6 1013.7 L268.5 1011.7 L268.3 1009.7 L268.2 1007.7 L268.1 1005.7 L268.0 1003.7 L267.8 1001.7 L267.7 999.7 L267.6 997.7 L267.4 995.7 L267.3 993.7 L267.1 991.7 L266.9 989.7 L266.6 987.7 L266.4 985.7 L266.2 983.7 L266.0 981.8 L265.8 979.8 L265.7 977.8 L265.5 975.8 L265.4 973.8 L265.2 971.8 L265.1 969.8 L265.0 967.8 L264.8 965.8 L264.7 963.8 L264.6 961.9 L264.4 959.9 L264.3 957.9 L264.1 955.9 L264.0 953.9 L263.9 951.9 L263.7 949.9 L263.6 947.9 L263.4 945.9 L263.3 943.9 L263.1 941.9 L263.0 939.9 L262.9 937.9 L262.7 935.9 L262.6 933.9 L262.5 931.9 L262.3 929.9 L262.2 927.9 L262.0 925.9 L261.9 923.9 L261.7 921.9 L261.5 919.9 L261.4 917.9 L261.2 915.9 L261.0 913.9 L260.8 911.9 L260.5 909.9 L260.3 907.9 L260.0 905.9 L259.7 903.9 L259.4 901.9 L259.0 899.9 L258.6 897.9 L258.2 895.9 L257.7 893.9 L257.2 892.0 L256.7 890.0 L256.1 888.1 L255.5 886.1 L254.8 884.2 L254.2 882.3 L253.5 880.4 L252.8 878.5 L252.1 876.6 L251.4 874.7 L250.7 872.8 L250.0 871.0 L249.2 869.1 L248.5 867.2 L247.8 865.4 L247.0 863.5 L246.2 861.6 L245.4 859.8 L244.6 857.9 L243.8 856.1 L243.0 854.2 L242.1 852.4 L241.3 850.6 L240.4 848.8 L239.5 847.0 L238.6 845.2 L237.7 843.4 L236.7 841.6 L235.8 839.8 L234.8 838.1 L233.9 836.3 L232.9 834.5 L232.0 832.8 L231.0 831.0 L230.1 829.3 L229.1 827.5 L228.2 825.7 L227.2 824.0 L226.3 822.2 L225.3 820.5 L224.4 818.7 L223.5 817.0 L222.6 815.2 L221.8 813.4 L220.9 811.6 L220.0 809.8 L219.1 808.0 L218.2 806.2 L217.2 804.4 L216.3 802.6 L215.3 800.8 L214.2 799.1 L213.2 797.3 L212.0 795.6 L210.9 793.9 L209.7 792.3 L208.5 790.6 L207.3 789.0 L206.1 787.4 L204.8 785.8 L203.6 784.3 L202.3 782.7 L201.0 781.1 L199.8 779.6 L198.5 778.0 L197.2 776.5 L196.0 774.9 L194.7 773.4 L193.5 771.8 L192.3 770.3 L191.1 768.7 L189.8 767.1 L188.6 765.5 L187.4 764.0 L186.2 762.4 L185.0 760.8 L183.8 759.2 L182.6 757.6 L181.4 756.0 L180.2 754.4 L179.1 752.8 L177.9 751.2 L176.8 749.6 L175.7 747.9 L174.6 746.3 L173.5 744.6 L172.5 742.9 L171.5 741.3 L170.5 739.5 L169.5 737.8 L168.5 736.1 L167.5 734.4 L166.5 732.7 L165.6 730.9 L164.7 729.2 L163.8 727.4 L162.9 725.6 L162.0 723.8 L161.2 722.1 L160.4 720.3 L159.6 718.5 L158.8 716.6 L158.0 714.8 L157.3 713.0 L156.5 711.2 L155.8 709.3 L155.1 707.5 L154.4 705.6 L153.7 703.7 L153.1 701.9 L152.4 700.0 L151.8 698.1 L151.2 696.2 L150.6 694.3 L150.0 692.4 L149.4 690.5 L148.8 688.6 L148.3 686.7 L147.7 684.8 L147.2 682.9 L146.7 681.0 L146.1 679.1 L145.6 677.1 L145.1 675.2 L144.7 673.3 L144.2 671.4 L143.8 669.4 L143.3 667.5 L142.9 665.6 L142.5 663.6 L142.1 661.7 L141.8 659.7 L141.4 657.8 L141.1 655.8 L140.8 653.9 L140.5 651.9 L140.2 649.9 L140.0 648.0 L139.8 646.0 L139.5 644.1 L139.3 642.1 L139.2 640.1 L139.0 638.1 L138.9 636.2 L138.7 634.2 L138.6 632.2 L138.6 630.2 L138.5 628.3 L138.5 626.3 L138.4 624.3 L138.4 622.3 L138.4 620.3 L138.4 618.4 L138.5 616.4 L138.5 614.4 L138.6 612.4 L138.6 610.4 L138.7 608.4 L138.8 606.4 L138.9 604.4 L139.0 602.5 L139.1 600.5 L139.2 598.5 L139.4 596.5 L139.5 594.5 L139.6 592.5 L139.8 590.5 L139.9 588.6 L140.1 586.6 L140.3 584.6 L140.5 582.6 L140.7 580.7 L140.9 578.7 L141.2 576.7 L141.4 574.8 L141.7 572.8 L142.0 570.9 L142.4 568.9 L142.7 567.0 L143.1 565.0 L143.5 563.1 L143.9 561.1 L144.3 559.2 L144.7 557.2 L145.2 555.3 L145.6 553.3 L146.0 551.4 L146.4 549.4 L146.8 547.5 L147.2 545.5 L147.7 543.5 L148.1 541.6 L148.5 539.6 L148.9 537.7 L149.3 535.8 L149.8 533.8 L150.2 531.9 L150.7 530.0 L151.2 528.0 L151.7 526.1 L152.2 524.2 L152.7 522.3 L153.3 520.4 L153.9 518.5 L154.5 516.7 L155.1 514.8 L155.8 512.9 L156.5 511.1 L157.2 509.2 L157.9 507.4 L158.6 505.5 L159.3 503.7 L160.1 501.9 L160.9 500.0 L161.6 498.2 L162.4 496.4 L163.2 494.6 L164.0 492.7 L164.8 491.0 L165.7 489.2 L166.6 487.4 L167.5 485.7 L168.4 484.0 L169.4 482.3 L170.3 480.5 L171.3 478.8 L172.4 477.1 L173.4 475.4 L174.4 473.8 L175.5 472.1 L176.6 470.5 L177.7 468.9 L178.9 467.4 L180.1 466.0 L181.4 464.5 L182.7 463.2 L184.1 461.9 L185.5 460.7 L187.0 459.5 L188.6 458.4 L190.2 457.3 L191.8 456.3 L193.5 455.3 L195.2 454.4 L197.0 453.5 L198.7 452.6 L200.5 451.7 L202.3 450.9 L204.1 450.1 L205.9 449.2 L207.7 448.4 L209.5 447.6 L211.4 446.8 L213.2 446.1 L215.0 445.3 L216.8 444.6 L218.7 443.8 L220.5 443.2 L222.4 442.5 L224.3 441.8 L226.2 441.1 L228.1 440.4 L230.0 439.6 L231.8 438.8 L233.7 438.0 L235.6 437.0 L237.4 436.1 L239.2 435.1 L240.9 434.0 L242.6 433.0 L244.4 431.9 L246.0 430.8 L247.7 429.7 L249.4 428.5 L251.0 427.3 L252.7 426.2 L254.3 425.0 L255.9 423.7 L257.5 422.5 L259.1 421.2 L260.7 419.9 L262.2 418.6 L263.7 417.2 L265.2 415.8 L266.6 414.3 L268.1 412.8 L269.4 411.3 L270.8 409.8 L272.1 408.2 L273.3 406.6 L274.5 404.9 L275.7 403.2 L276.8 401.5 L277.9 399.8 L278.9 398.0 L279.9 396.2 L280.8 394.4 L281.7 392.6 L282.6 390.8 L283.5 388.9 L284.3 387.0 L285.1 385.2 L285.8 383.3 L286.5 381.3 L287.2 379.4 L287.8 377.5 L288.4 375.5 L288.9 373.6 L289.4 371.6 L289.9 369.7 L290.4 367.7 L290.8 365.7 L291.2 363.7 L291.5 361.7 L291.9 359.7 L292.2 357.7 L292.5 355.7 L292.7 353.7 L293.0 351.7 L293.2 349.7 L293.5 347.8 L293.7 345.8 L294.0 343.8 L294.2 341.8 L294.4 339.8 L294.6 337.8 L294.8 335.8 L295.0 333.8 L295.2 331.8 L295.4 329.8 L295.6 327.8 L295.7 325.8 L295.9 323.8 L296.1 321.8 L296.2 319.8 L296.4 317.8 L296.5 315.8 L296.7 313.8 L296.8 311.8 L296.9 309.8 L297.1 307.8 L297.2 305.8 L297.3 303.8 L297.4 301.8 L297.5 299.8 L297.6 297.8 L297.6 295.8 L297.7 293.8 L297.7 291.7 L297.7 289.7 L297.7 287.7 L297.6 285.7 L297.6 283.7 L297.5 281.7 L297.4 279.7 L297.3 277.7 L297.2 275.7 L297.1 273.7 L297.0 271.7 L296.9 269.7 L296.8 267.7 L296.7 265.7 L296.6 263.7 L296.5 261.7 L296.5 259.7 L296.4 257.7 L296.3 255.7 L296.2 253.7 L296.2 251.7 L296.1 249.7 L296.1 247.7 L296.0 245.7 L296.0 243.7 L296.0 241.7 L295.9 239.7 L295.9 237.7 L295.8 235.7 L295.8 233.7 L295.8 231.7 L295.7 229.7 L295.7 227.7 L295.7 225.7 L295.6 223.7 L295.6 221.7 L295.6 219.7 L295.5 217.7 L295.5 215.7 L295.5 213.7 L295.4 211.7 L295.4 209.7 L295.4 207.7 L295.4 205.8 L295.3 203.8 L295.3 201.8 L295.3 199.8 L295.2 197.8 L295.2 195.8 L295.2 193.8 L295.2 191.8 L295.1 189.8 L295.1 187.8 L295.1 185.8 L295.1 183.8 L295.0 181.8 L295.0 179.8 L295.0 177.8 L295.0 175.8 L295.0 173.8 L294.9 171.8 L294.9 169.8 L294.9 167.8 L294.9 165.8 L294.9 163.8 L294.9 161.8 L294.9 159.8 L294.9 157.8 L294.9 155.8 L294.8 153.8 L294.8 151.8 L294.8 149.8 L294.8 147.8 L294.8 145.8 L294.8 143.8 L294.8 141.8 L294.8 139.8 L294.8 137.8 L294.8 135.8 L294.7 133.8 L294.7 131.8 L294.7 129.8 L294.7 127.8 L294.7 125.8 L294.6 123.8 L294.6 121.8 L294.6 119.8 L294.6 117.8 L294.5 115.8 L294.5 113.8 L294.5 111.7 L294.4 109.7 L294.4 107.7 L294.3 105.7 L294.3 103.7 L294.2 101.7 L294.2 99.7 L294.2 97.7 L294.1 95.7 L294.1 93.7 L294.0 91.7 L293.9 89.7 L293.9 87.7 L293.8 85.7 L293.8 83.7 L293.7 81.7 L293.6 79.7 L293.6 77.7 L293.5 75.7 L293.4 73.7 L293.3 71.7 L293.3 69.8 L293.2 67.8 L293.1 65.8 L293.0 63.8 L293.0 61.8 L292.9 59.8 L292.8 57.8 L292.7 55.8 L292.6 53.8 L292.6 51.8 L292.5 49.8 L292.4 47.8 L292.3 45.8 Z" fill="#0d0d0d"/>
<path d="M423.2 30.5 L423.2 32.5 L423.2 34.5 L423.3 36.5 L423.3 38.5 L423.3 40.5 L423.3 42.5 L423.3 44.5 L423.3 46.5 L423.4 48.5 L423.4 50.5 L423.4 52.5 L423.4 54.5 L423.5 56.5 L423.5 58.5 L423.5 60.5 L423.6 62.5 L423.6 64.5 L423.7 66.5 L423.7 68.5 L423.8 70.6 L423.9 72.6 L424.0 74.6 L424.1 76.6 L424.2 78.6 L424.3 80.6 L424.4 82.6 L424.5 84.6 L424.7 86.6 L424.8 88.6 L425.0 90.6 L425.1 92.6 L425.3 94.6 L425.4 96.6 L425.6 98.6 L425.8 100.6 L425.9 102.6 L426.1 104.6 L426.3 106.6 L426.5 108.5 L426.7 110.5 L426.8 112.5 L427.0 114.5 L427.2 116.5 L427.4 118.5 L427.6 120.5 L427.7 122.5 L427.9 124.5 L428.1 126.5 L428.3 128.5 L428.5 130.5 L428.6 132.4 L428.8 134.4 L429.0 136.4 L429.2 138.4 L429.4 140.4 L429.6 142.4 L429.7 144.4 L429.9 146.4 L430.1 148.4 L430.3 150.4 L430.5 152.4 L430.7 154.4 L430.9 156.4 L431.1 158.4 L431.3 160.3 L431.5 162.3 L431.7 164.3 L431.9 166.3 L432.1 168.3 L432.3 170.3 L432.5 172.3 L432.7 174.3 L433.0 176.3 L433.2 178.3 L433.4 180.3 L433.6 182.2 L433.9 184.2 L434.1 186.2 L434.4 188.2 L434.6 190.2 L434.8 192.2 L435.1 194.2 L435.3 196.2 L435.6 198.1 L435.8 200.1 L436.1 202.1 L436.3 204.1 L436.6 206.1 L436.8 208.1 L437.0 210.0 L437.3 212.0 L437.5 214.0 L437.7 216.0 L437.9 218.0 L438.1 219.9 L438.3 221.9 L438.4 223.9 L438.5 225.9 L438.7 227.8 L438.8 229.8 L438.9 231.8 L439.0 233.9 L439.2 235.9 L439.3 237.9 L439.5 239.9 L439.7 241.9 L439.9 243.9 L440.0 245.9 L440.2 247.8 L440.4 249.8 L440.6 251.8 L440.8 253.8 L441.0 255.8 L441.2 257.8 L441.4 259.8 L441.6 261.8 L441.8 263.8 L442.0 265.8 L442.2 267.8 L442.4 269.8 L442.7 271.8 L442.9 273.8 L443.1 275.7 L443.4 277.7 L443.6 279.7 L443.9 281.7 L444.1 283.7 L444.4 285.7 L444.6 287.7 L444.9 289.7 L445.2 291.6 L445.5 293.6 L445.7 295.6 L446.0 297.6 L446.3 299.6 L446.6 301.6 L446.9 303.5 L447.2 305.5 L447.5 307.5 L447.8 309.5 L448.1 311.5 L448.4 313.5 L448.7 315.4 L449.0 317.4 L449.3 319.4 L449.7 321.4 L450.0 323.3 L450.4 325.3 L450.7 327.3 L451.1 329.3 L451.4 331.2 L451.8 333.2 L452.1 335.2 L452.5 337.1 L452.9 339.1 L453.2 341.1 L453.6 343.0 L454.0 345.0 L454.3 347.0 L454.7 348.9 L455.0 350.9 L455.4 352.9 L455.7 354.8 L456.1 356.8 L456.5 358.8 L456.9 360.8 L457.3 362.8 L457.9 364.8 L458.5 366.8 L459.2 368.7 L459.9 370.6 L460.7 372.5 L461.6 374.3 L462.4 375.9 L465.7 374.3 L464.9 372.7 L464.1 371.0 L463.3 369.2 L462.6 367.4 L462.0 365.6 L461.4 363.8 L461.0 361.9 L460.5 360.0 L460.1 358.1 L459.8 356.1 L459.4 354.2 L459.1 352.2 L458.7 350.3 L458.4 348.3 L458.0 346.3 L457.7 344.3 L457.3 342.4 L457.0 340.4 L456.6 338.4 L456.3 336.5 L455.9 334.5 L455.5 332.5 L455.2 330.6 L454.8 328.6 L454.5 326.6 L454.2 324.7 L453.8 322.7 L453.5 320.7 L453.2 318.8 L452.9 316.8 L452.5 314.8 L452.2 312.9 L451.9 310.9 L451.6 308.9 L451.3 306.9 L451.0 305.0 L450.8 303.0 L450.5 301.0 L450.2 299.0 L449.9 297.0 L449.6 295.1 L449.4 293.1 L449.1 291.1 L448.8 289.1 L448.6 287.2 L448.3 285.2 L448.1 283.2 L447.8 281.2 L447.6 279.2 L447.3 277.3 L447.1 275.3 L446.9 273.3 L446.7 271.3 L446.4 269.3 L446.2 267.3 L446.0 265.4 L445.8 263.4 L445.6 261.4 L445.4 259.4 L445.2 257.4 L445.1 255.4 L444.9 253.4 L444.7 251.4 L444.5 249.5 L444.3 247.5 L444.1 245.5 L444.0 243.5 L443.8 241.5 L443.6 239.5 L443.4 237.5 L443.3 235.5 L443.1 233.6 L443.0 231.6 L442.8 229.6 L442.7 227.6 L442.6 225.6 L442.4 223.6 L442.3 221.6 L442.1 219.6 L441.9 217.6 L441.7 215.6 L441.4 213.6 L441.2 211.6 L440.9 209.6 L440.7 207.6 L440.4 205.6 L440.2 203.6 L439.9 201.6 L439.7 199.6 L439.4 197.7 L439.2 195.7 L438.9 193.7 L438.7 191.7 L438.4 189.7 L438.1 187.7 L437.9 185.8 L437.6 183.8 L437.4 181.8 L437.1 179.8 L436.9 177.8 L436.7 175.9 L436.4 173.9 L436.2 171.9 L436.0 169.9 L435.7 167.9 L435.5 165.9 L435.3 163.9 L435.1 162.0 L434.9 160.0 L434.7 158.0 L434.5 156.0 L434.3 154.0 L434.0 152.0 L433.8 150.0 L433.6 148.0 L433.4 146.1 L433.2 144.1 L433.0 142.1 L432.8 140.1 L432.6 138.1 L432.5 136.1 L432.3 134.1 L432.1 132.1 L431.9 130.1 L431.7 128.2 L431.5 126.2 L431.3 124.2 L431.2 122.2 L431.0 120.2 L430.8 118.2 L430.6 116.2 L430.4 114.2 L430.2 112.2 L430.0 110.2 L429.9 108.2 L429.7 106.2 L429.5 104.3 L429.3 102.3 L429.1 100.3 L429.0 98.3 L428.8 96.3 L428.6 94.3 L428.5 92.3 L428.3 90.3 L428.2 88.3 L428.0 86.4 L427.9 84.4 L427.7 82.4 L427.6 80.4 L427.5 78.4 L427.4 76.4 L427.3 74.4 L427.2 72.4 L427.1 70.4 L427.0 68.4 L427.0 66.4 L426.9 64.5 L426.9 62.5 L426.8 60.5 L426.8 58.5 L426.7 56.5 L426.7 54.5 L426.7 52.5 L426.6 50.5 L426.6 48.5 L426.6 46.5 L426.6 44.5 L426.5 42.5 L426.5 40.5 L426.5 38.5 L426.5 36.5 L426.5 34.5 L426.4 32.5 L426.4 30.5 Z" fill="#0d0d0d"/>
<path d="M438.2 217.7 L439.1 219.4 L440.1 221.2 L441.0 223.0 L442.0 224.7 L442.9 226.5 L443.9 228.2 L444.8 230.0 L445.8 231.8 L446.7 233.5 L447.6 235.3 L448.6 237.0 L449.5 238.8 L450.4 240.6 L451.4 242.4 L452.3 244.1 L453.2 245.9 L454.2 247.7 L455.1 249.4 L456.1 251.2 L457.0 253.0 L458.0 254.7 L459.0 256.5 L460.0 258.2 L460.9 260.0 L461.9 261.7 L463.0 263.5 L464.0 265.2 L465.0 266.9 L466.1 268.6 L467.1 270.4 L468.2 272.1 L469.3 273.8 L470.4 275.4 L471.5 277.1 L472.6 278.8 L473.7 280.5 L474.8 282.1 L476.0 283.8 L477.2 285.4 L478.3 287.1 L479.5 288.7 L480.7 290.3 L481.9 291.9 L483.1 293.5 L484.3 295.2 L485.5 296.8 L486.7 298.4 L487.9 300.0 L489.1 301.5 L490.4 303.1 L491.6 304.7 L492.9 306.3 L494.2 307.8 L495.5 309.4 L496.8 310.9 L498.1 312.4 L499.4 313.9 L500.8 315.4 L502.1 316.9 L503.4 318.4 L504.7 319.9 L506.0 321.4 L507.3 322.9 L508.6 324.5 L509.9 326.0 L511.1 327.5 L512.4 329.1 L513.6 330.6 L514.8 332.2 L516.1 333.8 L517.3 335.3 L518.5 336.9 L519.7 338.5 L520.9 340.1 L522.1 341.7 L523.2 343.3 L524.4 344.9 L525.6 346.5 L526.7 348.1 L527.9 349.8 L529.0 351.4 L530.2 353.0 L531.3 354.7 L532.4 356.3 L533.5 358.0 L534.6 359.6 L535.6 361.3 L536.6 363.0 L537.6 364.7 L538.6 366.4 L539.5 368.1 L540.4 369.9 L541.3 371.6 L542.2 373.4 L543.0 375.2 L543.9 377.0 L544.8 378.8 L545.6 380.7 L546.5 382.5 L547.4 384.3 L548.2 386.1 L549.1 387.9 L550.0 389.7 L550.8 391.5 L551.7 393.3 L552.6 395.1 L553.4 396.9 L554.3 398.7 L555.2 400.5 L556.1 402.3 L556.9 404.1 L557.8 405.9 L558.7 407.7 L559.7 409.5 L560.6 411.2 L561.5 413.0 L562.4 414.8 L563.3 416.6 L564.1 418.3 L565.0 420.1 L565.8 421.9 L566.5 423.7 L567.3 425.6 L568.0 427.4 L568.7 429.2 L569.3 431.1 L570.0 433.0 L570.6 434.9 L571.2 436.8 L571.8 438.6 L572.4 440.5 L573.0 442.4 L573.6 444.3 L574.0 446.2 L574.5 448.0 L574.8 449.9 L575.0 451.8 L575.2 453.8 L575.3 455.7 L575.4 457.7 L575.5 459.7 L575.6 461.7 L575.7 463.7 L575.7 465.7 L575.7 467.7 L575.8 469.6 L575.8 471.6 L575.8 473.6 L575.9 475.6 L575.9 477.6 L575.9 479.6 L575.9 481.6 L575.9 483.6 L575.9 485.6 L575.9 487.6 L575.8 489.6 L575.8 491.6 L575.8 493.6 L575.7 495.6 L575.7 497.6 L575.6 499.6 L575.6 501.5 L575.5 503.5 L575.4 505.5 L575.4 507.5 L575.3 509.5 L575.2 511.5 L575.2 513.5 L575.1 515.5 L575.0 517.5 L574.9 519.5 L574.9 521.5 L574.8 523.5 L574.7 525.5 L574.6 527.5 L574.5 529.5 L574.5 531.5 L574.4 533.5 L574.3 535.5 L574.2 537.5 L574.1 539.5 L574.0 541.5 L573.9 543.5 L573.8 545.5 L573.7 547.5 L573.6 549.5 L573.5 551.5 L573.4 553.5 L573.3 555.5 L573.2 557.4 L573.1 559.4 L573.0 561.4 L572.9 563.4 L572.7 565.4 L572.6 567.4 L572.5 569.4 L572.3 571.4 L572.2 573.4 L572.0 575.4 L571.9 577.4 L571.7 579.4 L571.6 581.4 L571.4 583.3 L571.3 585.3 L571.1 587.3 L571.0 589.3 L570.8 591.3 L570.6 593.3 L570.5 595.3 L570.3 597.3 L570.1 599.3 L570.0 601.3 L569.8 603.3 L569.6 605.2 L569.4 607.2 L569.2 609.2 L569.0 611.2 L568.8 613.1 L568.5 615.1 L568.3 617.1 L568.0 619.1 L567.7 621.1 L567.5 623.1 L567.3 625.1 L567.2 627.2 L567.1 629.3 L567.2 631.3 L567.3 633.4 L567.5 635.5 L567.9 637.6 L568.3 639.6 L568.9 641.7 L569.6 643.7 L570.4 645.6 L571.5 647.5 L572.7 649.3 L574.0 651.0 L575.5 652.5 L577.1 654.0 L578.9 655.2 L580.8 656.3 L582.8 657.2 L584.9 657.8 L587.0 658.2 L589.2 658.4 L591.3 658.4 L593.3 658.4 L595.4 658.2 L597.4 658.1 L599.3 657.9 L599.0 654.0 L597.0 654.2 L595.1 654.3 L593.1 654.5 L591.2 654.5 L589.3 654.5 L587.5 654.4 L585.8 654.1 L584.1 653.5 L582.5 652.8 L581.0 652.0 L579.6 650.9 L578.2 649.7 L577.0 648.4 L575.8 647.0 L574.8 645.5 L573.9 643.9 L573.2 642.2 L572.6 640.5 L572.1 638.7 L571.7 636.9 L571.4 635.0 L571.2 633.1 L571.1 631.2 L571.0 629.3 L571.1 627.4 L571.2 625.4 L571.4 623.5 L571.6 621.5 L571.8 619.6 L572.1 617.6 L572.4 615.6 L572.6 613.6 L572.9 611.6 L573.1 609.6 L573.3 607.6 L573.5 605.6 L573.7 603.6 L573.8 601.6 L574.0 599.6 L574.2 597.6 L574.3 595.6 L574.5 593.6 L574.7 591.6 L574.8 589.6 L575.0 587.6 L575.1 585.6 L575.3 583.6 L575.4 581.6 L575.6 579.7 L575.7 577.7 L575.9 575.7 L576.0 573.7 L576.2 571.7 L576.3 569.7 L576.4 567.7 L576.6 565.7 L576.7 563.7 L576.8 561.7 L576.9 559.7 L577.1 557.7 L577.2 555.7 L577.3 553.7 L577.4 551.7 L577.5 549.7 L577.6 547.7 L577.7 545.7 L577.8 543.7 L577.9 541.7 L578.0 539.7 L578.0 537.7 L578.1 535.7 L578.2 533.7 L578.3 531.7 L578.4 529.7 L578.5 527.7 L578.5 525.7 L578.6 523.7 L578.7 521.7 L578.8 519.7 L578.8 517.7 L578.9 515.7 L579.0 513.7 L579.1 511.7 L579.1 509.7 L579.2 507.7 L579.3 505.7 L579.3 503.7 L579.4 501.7 L579.4 499.7 L579.5 497.7 L579.5 495.7 L579.6 493.6 L579.6 491.6 L579.7 489.6 L579.7 487.6 L579.7 485.6 L579.7 483.6 L579.7 481.6 L579.7 479.6 L579.7 477.6 L579.7 475.6 L579.7 473.6 L579.6 471.6 L579.6 469.6 L579.6 467.6 L579.5 465.6 L579.5 463.6 L579.4 461.5 L579.3 459.5 L579.2 457.5 L579.1 455.5 L579.0 453.5 L578.8 451.4 L578.5 449.4 L578.2 447.3 L577.7 445.3 L577.2 443.3 L576.6 441.3 L576.1 439.4 L575.5 437.5 L574.8 435.6 L574.2 433.7 L573.6 431.8 L572.9 429.9 L572.2 427.9 L571.5 426.1 L570.8 424.2 L570.0 422.3 L569.3 420.4 L568.4 418.5 L567.6 416.7 L566.7 414.9 L565.8 413.1 L564.9 411.3 L563.9 409.5 L563.0 407.7 L562.1 406.0 L561.2 404.2 L560.3 402.4 L559.5 400.6 L558.6 398.8 L557.7 397.0 L556.8 395.2 L556.0 393.4 L555.1 391.6 L554.2 389.8 L553.4 388.0 L552.5 386.2 L551.6 384.4 L550.8 382.6 L549.9 380.8 L549.0 379.0 L548.2 377.2 L547.3 375.4 L546.4 373.6 L545.6 371.8 L544.7 370.0 L543.8 368.2 L542.9 366.4 L541.9 364.6 L540.9 362.8 L539.9 361.1 L538.8 359.3 L537.7 357.6 L536.6 355.9 L535.5 354.2 L534.4 352.6 L533.3 350.9 L532.1 349.3 L531.0 347.6 L529.8 346.0 L528.6 344.3 L527.4 342.7 L526.3 341.1 L525.1 339.5 L523.9 337.9 L522.7 336.3 L521.5 334.7 L520.2 333.1 L519.0 331.5 L517.8 329.9 L516.5 328.3 L515.3 326.7 L514.0 325.2 L512.7 323.6 L511.5 322.1 L510.2 320.5 L508.9 319.0 L507.5 317.5 L506.2 316.0 L504.9 314.5 L503.6 313.0 L502.3 311.5 L500.9 310.0 L499.6 308.4 L498.3 306.9 L497.1 305.4 L495.8 303.9 L494.5 302.4 L493.3 300.8 L492.1 299.2 L490.9 297.7 L489.6 296.1 L488.4 294.5 L487.2 292.9 L486.0 291.3 L484.9 289.7 L483.7 288.1 L482.5 286.5 L481.3 284.9 L480.2 283.3 L479.0 281.6 L477.9 280.0 L476.8 278.4 L475.7 276.7 L474.6 275.1 L473.5 273.4 L472.4 271.8 L471.3 270.1 L470.3 268.4 L469.2 266.7 L468.2 265.0 L467.2 263.3 L466.1 261.6 L465.1 259.9 L464.2 258.2 L463.2 256.4 L462.2 254.7 L461.3 252.9 L460.3 251.2 L459.3 249.4 L458.4 247.7 L457.4 245.9 L456.5 244.2 L455.6 242.4 L454.6 240.6 L453.7 238.9 L452.8 237.1 L451.8 235.3 L450.9 233.6 L450.0 231.8 L449.0 230.0 L448.1 228.2 L447.1 226.5 L446.2 224.7 L445.2 223.0 L444.3 221.2 L443.3 219.4 L442.4 217.7 L441.4 215.9 Z" fill="#0d0d0d"/>
<path d="M567.2 630.4 L567.3 632.4 L567.5 634.4 L567.6 636.4 L567.8 638.4 L567.9 640.3 L567.9 642.3 L567.9 644.2 L567.8 646.2 L567.7 648.1 L567.5 650.1 L567.3 652.0 L567.1 654.0 L566.8 655.9 L566.5 657.8 L566.1 659.8 L565.7 661.6 L565.2 663.5 L564.6 665.4 L564.0 667.2 L563.3 669.0 L562.5 670.8 L561.7 672.5 L560.8 674.3 L559.9 676.0 L559.0 677.7 L558.0 679.5 L557.0 681.2 L556.0 682.9 L555.0 684.6 L553.9 686.3 L552.9 688.0 L551.8 689.7 L550.8 691.4 L549.8 693.1 L548.7 694.9 L547.7 696.6 L546.7 698.4 L545.7 700.1 L544.8 701.9 L543.8 703.6 L542.8 705.4 L541.9 707.1 L540.9 708.9 L540.0 710.7 L539.0 712.4 L538.1 714.2 L537.1 716.0 L536.2 717.7 L535.3 719.5 L534.3 721.3 L533.4 723.1 L532.6 724.9 L531.7 726.8 L530.9 728.6 L530.0 730.4 L529.2 732.3 L528.4 734.1 L527.6 736.0 L526.8 737.8 L526.1 739.7 L525.3 741.5 L524.6 743.4 L523.8 745.3 L523.1 747.1 L522.4 749.0 L521.7 750.9 L521.0 752.8 L520.3 754.7 L519.6 756.6 L519.0 758.5 L518.3 760.3 L517.6 762.2 L517.0 764.1 L516.3 766.0 L515.7 767.9 L515.1 769.9 L514.5 771.8 L513.9 773.7 L513.2 775.6 L512.6 777.5 L512.0 779.4 L511.4 781.3 L510.8 783.2 L510.3 785.1 L509.7 787.0 L509.1 789.0 L508.5 790.9 L507.9 792.8 L507.3 794.7 L506.8 796.6 L506.2 798.6 L505.6 800.5 L505.1 802.4 L504.5 804.3 L504.0 806.2 L503.4 808.2 L502.9 810.1 L502.3 812.0 L501.8 814.0 L501.2 815.9 L500.7 817.8 L500.2 819.7 L499.6 821.7 L499.1 823.6 L498.6 825.5 L498.1 827.5 L497.5 829.4 L497.0 831.3 L496.5 833.3 L496.0 835.2 L495.5 837.2 L495.0 839.1 L494.6 841.1 L494.1 843.0 L493.7 845.0 L493.3 846.9 L492.8 848.9 L492.4 850.8 L491.9 852.8 L491.5 854.7 L491.0 856.6 L490.4 858.5 L489.8 860.3 L489.2 862.2 L488.4 864.0 L487.6 865.7 L486.8 867.5 L485.9 869.2 L485.0 870.8 L487.2 872.1 L488.1 870.4 L489.1 868.7 L490.0 866.9 L490.9 865.0 L491.7 863.2 L492.4 861.3 L493.1 859.3 L493.7 857.4 L494.2 855.4 L494.7 853.5 L495.2 851.5 L495.7 849.6 L496.2 847.6 L496.6 845.7 L497.1 843.7 L497.6 841.8 L498.1 839.9 L498.6 837.9 L499.1 836.0 L499.6 834.1 L500.1 832.2 L500.7 830.2 L501.2 828.3 L501.7 826.4 L502.2 824.5 L502.8 822.5 L503.3 820.6 L503.9 818.7 L504.4 816.8 L504.9 814.8 L505.5 812.9 L506.0 811.0 L506.6 809.1 L507.1 807.2 L507.7 805.2 L508.2 803.3 L508.8 801.4 L509.4 799.5 L510.0 797.6 L510.5 795.7 L511.1 793.8 L511.7 791.9 L512.3 789.9 L512.9 788.0 L513.5 786.1 L514.0 784.2 L514.6 782.3 L515.2 780.4 L515.8 778.5 L516.5 776.6 L517.1 774.7 L517.7 772.8 L518.3 770.9 L518.9 769.0 L519.6 767.1 L520.2 765.2 L520.9 763.4 L521.5 761.5 L522.2 759.6 L522.9 757.7 L523.5 755.8 L524.2 754.0 L524.9 752.1 L525.6 750.2 L526.3 748.4 L527.0 746.5 L527.8 744.7 L528.5 742.8 L529.3 741.0 L530.0 739.1 L530.8 737.3 L531.6 735.5 L532.4 733.7 L533.2 731.9 L534.0 730.0 L534.9 728.2 L535.7 726.5 L536.6 724.7 L537.5 722.9 L538.4 721.1 L539.3 719.4 L540.2 717.6 L541.2 715.8 L542.1 714.1 L543.0 712.3 L544.0 710.6 L545.0 708.8 L545.9 707.1 L546.9 705.3 L547.9 703.6 L548.8 701.9 L549.8 700.1 L550.8 698.4 L551.8 696.7 L552.8 695.0 L553.8 693.3 L554.9 691.6 L555.9 689.9 L557.0 688.1 L558.0 686.4 L559.0 684.7 L560.1 683.0 L561.1 681.3 L562.1 679.5 L563.1 677.7 L564.0 675.9 L565.0 674.1 L565.8 672.2 L566.6 670.3 L567.4 668.4 L568.1 666.5 L568.7 664.5 L569.2 662.5 L569.6 660.5 L570.0 658.5 L570.4 656.5 L570.7 654.5 L570.9 652.4 L571.2 650.4 L571.3 648.4 L571.5 646.4 L571.6 644.3 L571.6 642.3 L571.5 640.2 L571.4 638.2 L571.3 636.2 L571.1 634.1 L571.0 632.1 L570.8 630.2 Z" fill="#0d0d0d"/>
<path d="M469.9 725.5 L470.5 727.4 L471.1 729.3 L471.6 731.2 L472.1 733.0 L472.5 734.9 L472.8 736.8 L473.1 738.7 L473.3 740.7 L473.4 742.6 L473.5 744.6 L473.6 746.6 L473.7 748.6 L473.7 750.6 L473.7 752.6 L473.8 754.6 L473.8 756.5 L473.8 758.5 L473.9 760.5 L473.9 762.5 L473.9 764.5 L473.9 766.6 L474.0 768.6 L474.0 770.6 L474.0 772.6 L474.1 774.6 L474.2 776.6 L474.3 778.6 L474.4 780.6 L474.5 782.6 L474.7 784.6 L474.9 786.7 L475.1 788.7 L475.3 790.7 L475.5 792.7 L475.8 794.7 L476.1 796.6 L476.3 798.6 L476.5 800.6 L476.8 802.6 L477.0 804.5 L477.2 806.5 L477.4 808.5 L477.5 810.5 L477.7 812.5 L477.9 814.5 L478.0 816.4 L478.1 818.4 L478.3 820.4 L478.4 822.4 L478.6 824.4 L478.7 826.4 L478.8 828.4 L479.0 830.4 L479.1 832.4 L479.2 834.4 L479.4 836.4 L479.5 838.4 L479.7 840.4 L479.8 842.4 L480.0 844.4 L480.2 846.4 L480.3 848.4 L480.6 850.4 L480.8 852.4 L481.1 854.4 L481.4 856.4 L481.7 858.4 L482.1 860.4 L482.4 862.4 L482.8 864.3 L483.3 866.3 L483.7 868.2 L484.1 870.1 L484.5 871.9 L487.0 871.4 L486.6 869.6 L486.3 867.7 L485.9 865.8 L485.6 863.8 L485.2 861.9 L484.9 859.9 L484.6 857.9 L484.4 856.0 L484.1 854.0 L483.9 852.0 L483.7 850.1 L483.6 848.1 L483.4 846.1 L483.2 844.1 L483.1 842.1 L482.9 840.2 L482.8 838.2 L482.6 836.2 L482.5 834.2 L482.3 832.2 L482.2 830.2 L482.1 828.2 L481.9 826.2 L481.8 824.2 L481.7 822.2 L481.6 820.2 L481.4 818.2 L481.3 816.2 L481.1 814.2 L481.0 812.2 L480.8 810.2 L480.7 808.2 L480.5 806.2 L480.3 804.2 L480.1 802.2 L479.8 800.2 L479.6 798.2 L479.3 796.2 L479.1 794.2 L478.9 792.3 L478.6 790.3 L478.4 788.3 L478.2 786.3 L478.0 784.4 L477.9 782.4 L477.7 780.4 L477.6 778.4 L477.5 776.5 L477.5 774.5 L477.4 772.5 L477.4 770.5 L477.3 768.5 L477.3 766.5 L477.3 764.5 L477.3 762.5 L477.2 760.5 L477.2 758.5 L477.2 756.5 L477.2 754.5 L477.1 752.5 L477.1 750.5 L477.1 748.5 L477.0 746.5 L476.9 744.5 L476.8 742.4 L476.7 740.4 L476.5 738.4 L476.2 736.3 L475.9 734.3 L475.5 732.3 L475.0 730.3 L474.4 728.3 L473.8 726.4 L473.1 724.5 Z" fill="#0d0d0d"/>
<path d="M209.2 786.2 L208.6 784.3 L208.0 782.4 L207.5 780.5 L207.0 778.5 L206.5 776.6 L206.0 774.7 L205.6 772.8 L205.3 771.0 L205.1 769.1 L204.9 767.2 L205.0 765.4 L205.1 763.5 L205.4 761.7 L205.8 759.9 L206.4 758.2 L207.1 756.5 L208.0 754.9 L209.0 753.2 L210.0 751.6 L211.1 750.0 L212.3 748.5 L213.5 746.9 L214.7 745.4 L216.0 743.9 L217.3 742.5 L218.6 741.1 L220.0 739.7 L221.4 738.4 L222.8 737.1 L224.3 735.9 L225.9 734.7 L227.4 733.5 L229.0 732.3 L230.6 731.2 L232.3 730.1 L233.9 728.9 L235.5 727.8 L237.2 726.7 L238.8 725.6 L240.5 724.5 L242.2 723.4 L243.8 722.3 L245.5 721.2 L247.2 720.1 L248.8 719.0 L250.5 718.0 L252.2 716.9 L253.9 715.9 L255.6 714.9 L257.3 713.9 L259.0 713.0 L260.8 712.1 L262.5 711.2 L264.3 710.4 L266.1 709.5 L267.9 708.7 L269.7 708.0 L271.5 707.2 L273.3 706.5 L275.1 705.8 L277.0 705.2 L278.8 704.6 L280.7 704.1 L282.6 703.6 L284.5 703.1 L286.4 702.7 L288.3 702.4 L290.3 702.0 L292.2 701.7 L294.2 701.5 L296.1 701.2 L298.1 701.0 L300.1 700.8 L302.0 700.6 L304.0 700.4 L306.0 700.2 L308.0 700.0 L310.0 699.9 L312.0 699.7 L313.9 699.6 L315.9 699.4 L317.9 699.3 L319.9 699.1 L321.9 699.0 L323.9 698.9 L325.9 698.7 L327.9 698.6 L329.8 698.6 L331.8 698.5 L333.8 698.4 L335.8 698.3 L337.8 698.3 L339.8 698.3 L341.8 698.2 L343.8 698.2 L345.8 698.2 L347.8 698.1 L349.8 698.1 L351.8 698.1 L353.8 698.1 L355.8 698.0 L357.8 698.0 L359.8 698.0 L361.8 698.0 L363.8 698.0 L365.8 697.9 L367.8 697.9 L369.8 697.9 L371.8 697.9 L373.8 697.9 L375.8 697.9 L377.8 697.9 L379.8 697.9 L381.7 697.9 L383.7 697.9 L385.7 697.9 L387.7 697.9 L389.7 697.9 L391.7 697.9 L393.7 697.9 L395.7 697.9 L397.7 697.9 L399.7 698.0 L401.7 698.0 L403.7 698.0 L405.7 698.0 L407.7 698.1 L409.7 698.1 L411.7 698.2 L413.7 698.2 L415.7 698.2 L417.7 698.3 L419.7 698.4 L421.7 698.4 L423.7 698.5 L425.7 698.5 L427.7 698.6 L429.7 698.7 L431.7 698.8 L433.6 698.8 L435.6 698.9 L437.6 699.0 L439.6 699.1 L441.6 699.2 L443.6 699.3 L445.6 699.4 L447.6 699.6 L449.6 699.7 L451.5 699.9 L453.5 700.1 L455.4 700.3 L457.3 700.6 L459.0 701.0 L460.7 701.5 L462.3 702.2 L463.6 703.1 L464.8 704.2 L465.7 705.5 L466.4 706.9 L467.0 708.6 L467.5 710.4 L467.9 712.3 L468.2 714.2 L468.5 716.1 L468.7 718.1 L468.9 720.0 L469.2 722.0 L469.4 723.9 L469.6 725.2 L473.4 724.8 L473.3 723.4 L473.1 721.5 L472.8 719.6 L472.6 717.6 L472.4 715.6 L472.1 713.6 L471.7 711.6 L471.3 709.5 L470.8 707.5 L470.1 705.4 L469.1 703.4 L467.7 701.6 L466.1 700.0 L464.2 698.8 L462.2 697.9 L460.1 697.2 L458.0 696.7 L455.9 696.4 L453.9 696.1 L451.9 695.9 L449.9 695.7 L447.9 695.6 L445.8 695.5 L443.8 695.3 L441.8 695.2 L439.8 695.1 L437.8 695.0 L435.8 694.9 L433.8 694.8 L431.8 694.8 L429.8 694.7 L427.8 694.6 L425.8 694.5 L423.8 694.5 L421.8 694.4 L419.8 694.3 L417.8 694.3 L415.8 694.2 L413.8 694.2 L411.8 694.1 L409.8 694.1 L407.8 694.0 L405.8 694.0 L403.8 693.9 L401.8 693.9 L399.8 693.9 L397.8 693.9 L395.8 693.8 L393.8 693.8 L391.8 693.8 L389.8 693.8 L387.8 693.8 L385.8 693.8 L383.8 693.8 L381.7 693.8 L379.7 693.8 L377.7 693.8 L375.7 693.8 L373.7 693.8 L371.7 693.8 L369.7 693.8 L367.7 693.8 L365.7 693.8 L363.7 693.8 L361.7 693.8 L359.7 693.9 L357.7 693.9 L355.7 693.9 L353.7 693.9 L351.7 693.9 L349.7 694.0 L347.7 694.0 L345.7 694.0 L343.7 694.0 L341.7 694.1 L339.7 694.1 L337.7 694.1 L335.7 694.2 L333.7 694.2 L331.7 694.3 L329.7 694.4 L327.7 694.5 L325.6 694.6 L323.6 694.7 L321.6 694.8 L319.6 694.9 L317.6 695.1 L315.6 695.2 L313.6 695.4 L311.6 695.5 L309.6 695.7 L307.6 695.8 L305.6 696.0 L303.6 696.2 L301.6 696.4 L299.6 696.6 L297.6 696.8 L295.6 697.0 L293.6 697.3 L291.6 697.5 L289.6 697.8 L287.6 698.2 L285.6 698.6 L283.6 699.0 L281.6 699.4 L279.6 700.0 L277.6 700.5 L275.7 701.1 L273.7 701.8 L271.8 702.5 L269.9 703.2 L268.0 704.0 L266.1 704.8 L264.3 705.6 L262.5 706.5 L260.6 707.4 L258.8 708.3 L257.0 709.2 L255.2 710.2 L253.4 711.2 L251.7 712.2 L249.9 713.2 L248.2 714.3 L246.5 715.4 L244.8 716.5 L243.1 717.6 L241.5 718.7 L239.8 719.8 L238.1 720.9 L236.4 722.0 L234.8 723.1 L233.1 724.2 L231.4 725.3 L229.8 726.5 L228.1 727.6 L226.5 728.8 L224.9 730.0 L223.2 731.3 L221.6 732.6 L220.1 733.9 L218.5 735.3 L217.0 736.7 L215.6 738.2 L214.2 739.7 L212.8 741.2 L211.5 742.8 L210.3 744.4 L209.1 746.1 L207.9 747.7 L206.7 749.4 L205.6 751.2 L204.6 753.0 L203.6 754.9 L202.8 756.9 L202.2 758.9 L201.7 761.0 L201.4 763.1 L201.2 765.2 L201.2 767.3 L201.4 769.4 L201.7 771.5 L202.0 773.6 L202.5 775.6 L203.0 777.5 L203.5 779.5 L204.1 781.4 L204.7 783.4 L205.3 785.3 L205.8 787.2 Z" fill="#0d0d0d"/>
<path d="M675.5 50.9 L675.3 52.8 L675.1 54.8 L674.9 56.8 L674.7 58.8 L674.5 60.8 L674.3 62.8 L674.1 64.8 L673.9 66.8 L673.7 68.8 L673.5 70.7 L673.3 72.7 L673.1 74.7 L672.9 76.7 L672.7 78.7 L672.4 80.7 L672.2 82.7 L672.0 84.7 L671.8 86.6 L671.6 88.6 L671.3 90.6 L671.1 92.6 L670.9 94.6 L670.7 96.6 L670.4 98.6 L670.2 100.6 L670.0 102.5 L669.8 104.5 L669.5 106.5 L669.3 108.5 L669.1 110.5 L668.9 112.5 L668.6 114.5 L668.4 116.4 L668.2 118.4 L667.9 120.4 L667.7 122.4 L667.4 124.4 L667.2 126.4 L667.0 128.3 L666.7 130.3 L666.5 132.3 L666.2 134.3 L666.0 136.3 L665.7 138.2 L665.4 140.2 L665.1 142.2 L664.9 144.2 L664.6 146.2 L664.3 148.1 L664.0 150.1 L663.7 152.1 L663.4 154.1 L663.2 156.1 L662.9 158.0 L662.6 160.0 L662.4 162.0 L662.1 164.0 L661.9 166.0 L661.6 168.0 L661.3 170.0 L661.1 171.9 L660.8 173.9 L660.6 175.9 L660.3 177.9 L660.1 179.9 L659.9 181.9 L659.6 183.9 L659.4 185.8 L659.1 187.8 L658.9 189.8 L658.6 191.8 L658.4 193.8 L658.1 195.8 L657.9 197.8 L657.6 199.7 L657.4 201.7 L657.2 203.7 L656.9 205.7 L656.7 207.7 L656.4 209.7 L656.2 211.6 L655.9 213.6 L655.7 215.6 L655.5 217.6 L655.2 219.6 L655.0 221.6 L654.7 223.6 L654.5 225.6 L654.3 227.5 L654.0 229.5 L653.8 231.5 L653.5 233.5 L653.3 235.5 L653.1 237.5 L652.8 239.5 L652.6 241.4 L652.4 243.4 L652.1 245.4 L651.9 247.4 L651.7 249.4 L651.4 251.4 L651.2 253.4 L651.0 255.3 L650.7 257.3 L650.5 259.3 L650.3 261.3 L650.0 263.3 L649.8 265.3 L649.6 267.3 L649.3 269.3 L649.1 271.2 L648.9 273.2 L648.6 275.2 L648.4 277.2 L648.2 279.2 L648.0 281.2 L647.7 283.2 L647.5 285.2 L647.3 287.1 L647.0 289.1 L646.8 291.1 L646.6 293.1 L646.4 295.1 L646.1 297.1 L645.9 299.1 L645.7 301.1 L645.5 303.0 L645.2 305.0 L645.0 307.0 L644.8 309.0 L644.6 311.0 L644.4 313.0 L644.1 315.0 L643.9 317.0 L643.7 318.9 L643.5 320.9 L643.3 322.9 L643.1 324.9 L642.8 326.9 L642.6 328.9 L642.4 330.9 L642.2 332.9 L642.0 334.9 L641.8 336.9 L641.6 338.9 L641.4 340.8 L641.2 342.8 L641.0 344.8 L640.8 346.8 L640.6 348.8 L640.4 350.8 L640.2 352.8 L640.0 354.8 L639.9 356.8 L639.7 358.8 L639.5 360.8 L639.3 362.8 L639.1 364.7 L638.9 366.7 L638.7 368.7 L638.6 370.7 L638.4 372.7 L638.2 374.7 L638.0 376.7 L637.8 378.7 L637.6 380.7 L637.5 382.7 L637.3 384.7 L637.1 386.7 L636.9 388.6 L636.7 390.6 L636.5 392.6 L636.3 394.6 L636.1 396.6 L635.9 398.6 L635.6 400.6 L635.5 402.6 L635.4 404.7 L635.3 406.7 L635.3 408.7 L635.3 410.7 L635.3 412.8 L635.3 414.8 L635.4 416.8 L635.5 418.9 L635.7 420.9 L635.9 423.0 L636.2 425.0 L636.6 427.0 L637.1 429.0 L637.6 431.0 L638.2 433.0 L638.8 435.0 L639.5 436.9 L640.2 438.8 L640.9 440.7 L641.7 442.5 L642.5 444.4 L643.2 446.3 L644.0 448.1 L644.8 449.9 L645.6 451.8 L646.4 453.6 L647.1 455.5 L647.9 457.3 L648.6 459.1 L649.4 461.0 L650.1 462.8 L650.8 464.7 L651.4 466.5 L652.0 468.4 L652.6 470.3 L653.2 472.2 L653.7 474.1 L654.2 476.0 L654.7 477.9 L655.2 479.8 L655.6 481.7 L656.0 483.7 L656.5 485.6 L656.9 487.6 L657.3 489.5 L657.6 491.5 L658.0 493.4 L658.4 495.4 L658.7 497.3 L659.0 499.3 L659.3 501.3 L659.6 503.2 L659.9 505.2 L660.2 507.2 L660.5 509.1 L660.8 511.1 L661.0 513.1 L661.2 515.0 L661.5 517.0 L661.7 519.0 L661.9 520.9 L662.0 522.9 L662.1 524.9 L662.3 526.9 L662.3 528.8 L662.4 530.8 L662.4 532.8 L662.4 534.7 L662.4 536.7 L662.3 538.7 L662.3 540.7 L662.2 542.7 L662.1 544.7 L662.0 546.6 L661.9 548.6 L661.7 550.6 L661.6 552.6 L661.4 554.6 L661.3 556.5 L661.1 558.5 L660.9 560.5 L660.7 562.5 L660.4 564.4 L660.2 566.4 L659.9 568.4 L659.6 570.3 L659.3 572.3 L659.0 574.2 L658.6 576.2 L658.2 578.1 L657.8 580.0 L657.4 581.9 L656.9 583.8 L656.3 585.7 L655.7 587.6 L655.1 589.4 L654.5 591.3 L653.8 593.1 L653.1 595.0 L652.3 596.8 L651.6 598.6 L650.8 600.4 L650.0 602.2 L649.1 604.0 L648.3 605.8 L647.5 607.6 L646.6 609.4 L645.7 611.2 L644.9 613.0 L644.0 614.8 L643.1 616.6 L642.2 618.3 L641.3 620.1 L640.3 621.8 L639.4 623.5 L638.4 625.3 L637.4 627.0 L636.4 628.7 L635.4 630.5 L634.4 632.2 L633.4 634.0 L632.4 635.7 L631.4 637.5 L630.5 639.2 L629.5 641.0 L628.6 642.8 L627.7 644.6 L626.8 646.4 L625.9 648.2 L625.0 650.0 L624.2 651.8 L623.3 653.7 L622.5 655.5 L621.6 657.3 L620.8 659.1 L619.9 660.9 L619.1 662.8 L618.3 664.6 L617.5 666.4 L616.6 668.2 L615.8 670.1 L615.0 671.9 L614.2 673.7 L613.4 675.6 L612.6 677.4 L611.8 679.2 L611.0 681.1 L610.2 682.9 L609.4 684.7 L608.6 686.6 L607.8 688.4 L607.0 690.3 L606.2 692.1 L605.4 694.0 L604.7 695.8 L603.9 697.7 L603.1 699.5 L602.4 701.4 L601.6 703.2 L600.9 705.1 L600.1 707.0 L599.4 708.8 L598.7 710.7 L597.9 712.5 L597.2 714.4 L596.5 716.3 L595.7 718.1 L595.0 720.0 L594.3 721.8 L593.5 723.7 L592.8 725.6 L592.1 727.4 L591.3 729.3 L590.6 731.2 L589.9 733.0 L589.1 734.9 L588.4 736.8 L587.7 738.6 L587.0 740.5 L586.3 742.4 L585.6 744.2 L584.8 746.1 L584.1 748.0 L583.4 749.8 L582.7 751.7 L581.9 753.5 L581.2 755.4 L580.5 757.2 L579.7 759.1 L578.9 760.9 L578.1 762.7 L577.3 764.5 L576.5 766.3 L575.7 768.1 L574.8 769.9 L573.9 771.6 L573.0 773.4 L572.1 775.1 L571.1 776.9 L570.2 778.6 L569.2 780.3 L568.2 782.1 L567.2 783.8 L566.2 785.6 L565.2 787.3 L564.3 789.1 L563.4 791.0 L562.5 792.8 L561.6 794.6 L560.8 796.5 L560.1 798.4 L559.3 800.3 L558.6 802.2 L558.0 804.1 L557.4 806.0 L556.7 808.0 L556.1 809.9 L555.5 811.7 L554.9 813.6 L554.2 815.5 L553.6 817.4 L552.9 819.2 L552.2 821.1 L551.5 822.9 L550.7 824.8 L550.0 826.6 L549.2 828.5 L548.4 830.3 L547.7 832.2 L546.9 834.0 L546.1 835.9 L545.4 837.7 L544.6 839.6 L543.9 841.4 L543.1 843.3 L542.4 845.2 L541.7 847.0 L540.9 848.9 L540.3 850.8 L539.6 852.7 L538.9 854.7 L538.3 856.6 L537.8 858.6 L537.3 860.6 L536.8 862.6 L536.5 864.6 L536.2 866.6 L535.9 868.7 L535.7 870.7 L535.6 872.7 L535.5 874.7 L535.3 876.7 L535.2 878.7 L535.0 880.6 L534.8 882.6 L534.5 884.5 L534.3 886.5 L534.0 888.5 L533.7 890.4 L533.4 892.4 L533.0 894.4 L532.7 896.4 L532.4 898.3 L532.1 900.3 L531.7 902.3 L531.4 904.2 L531.1 906.2 L530.7 908.2 L530.4 910.1 L530.0 912.1 L529.7 914.1 L529.3 916.0 L528.9 918.0 L528.6 919.9 L528.2 921.9 L527.8 923.9 L527.4 925.8 L527.0 927.8 L526.6 929.7 L526.3 931.7 L525.9 933.7 L525.5 935.6 L525.1 937.6 L524.7 939.5 L524.3 941.5 L523.9 943.5 L523.5 945.4 L523.1 947.4 L522.7 949.4 L522.3 951.3 L521.9 953.3 L521.5 955.2 L521.1 957.2 L520.8 959.2 L520.4 961.1 L520.0 963.1 L519.6 965.1 L519.2 967.0 L518.9 969.0 L518.5 971.0 L518.1 972.9 L517.7 974.9 L517.4 976.9 L517.0 978.8 L516.6 980.8 L516.2 982.7 L515.8 984.7 L515.5 986.7 L515.1 988.6 L514.7 990.6 L514.3 992.5 L513.9 994.5 L513.4 996.4 L513.0 998.4 L512.6 1000.3 L512.1 1002.2 L511.7 1004.2 L511.2 1006.1 L510.7 1008.0 L510.2 1009.9 L509.6 1011.9 L509.1 1013.8 L508.6 1015.7 L508.0 1017.6 L507.4 1019.5 L506.9 1021.5 L506.3 1023.4 L505.8 1025.3 L505.3 1027.3 L504.8 1029.2 L504.3 1031.2 L503.9 1033.2 L503.5 1035.2 L503.1 1037.1 L502.7 1039.1 L502.3 1041.1 L502.0 1043.1 L501.6 1045.1 L501.3 1047.0 L501.0 1049.0 L500.7 1051.0 L500.4 1053.0 L500.1 1055.0 L499.8 1056.9 L499.5 1058.9 L499.2 1060.9 L498.9 1062.9 L498.6 1064.8 L498.3 1066.8 L498.0 1068.8 L497.7 1070.8 L497.4 1072.7 L497.1 1074.7 L496.8 1076.7 L496.5 1078.7 L496.2 1080.7 L495.9 1082.6 L495.6 1084.6 L495.3 1086.6 L495.0 1088.6 L494.7 1090.5 L494.4 1092.5 L494.1 1094.5 L493.8 1096.5 L493.5 1098.4 L493.1 1100.4 L492.8 1102.4 L492.5 1104.4 L492.2 1106.3 L491.9 1108.3 L491.5 1110.3 L491.2 1112.2 L490.9 1114.2 L490.6 1116.2 L490.2 1118.2 L489.9 1120.1 L489.6 1122.1 L489.2 1124.1 L488.9 1126.1 L488.6 1128.0 L488.3 1130.0 L487.9 1132.0 L487.6 1134.0 L487.3 1135.9 L487.0 1137.9 L486.7 1139.9 L486.4 1141.9 L486.1 1143.9 L485.8 1145.8 L485.5 1147.8 L485.2 1149.8 L484.9 1151.8 L484.6 1153.8 L484.4 1155.8 L484.1 1157.7 L483.8 1159.7 L483.6 1161.7 L483.3 1163.7 L483.1 1165.7 L482.8 1167.7 L482.6 1169.7 L482.3 1171.7 L482.1 1173.6 L481.9 1175.6 L481.6 1177.6 L481.4 1179.6 L481.2 1181.6 L480.9 1183.6 L480.7 1185.6 L480.5 1187.6 L480.3 1189.5 L480.0 1191.5 L479.8 1193.5 L479.6 1195.5 L479.4 1197.5 L479.1 1199.5 L478.9 1201.5 L478.7 1203.5 L478.5 1205.4 L478.2 1207.4 L478.0 1209.4 L477.8 1211.3 L477.6 1213.2 L480.6 1213.5 L480.8 1211.7 L481.0 1209.7 L481.2 1207.8 L481.4 1205.8 L481.7 1203.8 L481.9 1201.8 L482.1 1199.8 L482.4 1197.8 L482.6 1195.8 L482.8 1193.9 L483.0 1191.9 L483.3 1189.9 L483.5 1187.9 L483.7 1185.9 L483.9 1183.9 L484.2 1181.9 L484.4 1180.0 L484.6 1178.0 L484.9 1176.0 L485.1 1174.0 L485.4 1172.0 L485.6 1170.0 L485.9 1168.1 L486.1 1166.1 L486.4 1164.1 L486.6 1162.1 L486.9 1160.1 L487.1 1158.1 L487.4 1156.2 L487.7 1154.2 L487.9 1152.2 L488.2 1150.2 L488.5 1148.3 L488.8 1146.3 L489.1 1144.3 L489.4 1142.3 L489.7 1140.4 L490.0 1138.4 L490.4 1136.4 L490.7 1134.5 L491.0 1132.5 L491.3 1130.5 L491.6 1128.5 L492.0 1126.6 L492.3 1124.6 L492.6 1122.6 L493.0 1120.7 L493.3 1118.7 L493.6 1116.7 L494.0 1114.7 L494.3 1112.8 L494.6 1110.8 L494.9 1108.8 L495.3 1106.8 L495.6 1104.9 L495.9 1102.9 L496.2 1100.9 L496.5 1098.9 L496.9 1097.0 L497.2 1095.0 L497.5 1093.0 L497.8 1091.0 L498.1 1089.0 L498.4 1087.1 L498.7 1085.1 L499.0 1083.1 L499.3 1081.1 L499.6 1079.2 L499.9 1077.2 L500.2 1075.2 L500.5 1073.2 L500.8 1071.3 L501.1 1069.3 L501.4 1067.3 L501.7 1065.3 L502.0 1063.3 L502.4 1061.4 L502.7 1059.4 L503.0 1057.4 L503.3 1055.4 L503.5 1053.5 L503.8 1051.5 L504.2 1049.5 L504.5 1047.5 L504.8 1045.6 L505.1 1043.6 L505.5 1041.7 L505.8 1039.7 L506.2 1037.8 L506.6 1035.8 L507.0 1033.9 L507.5 1031.9 L507.9 1030.0 L508.4 1028.1 L508.9 1026.2 L509.4 1024.3 L510.0 1022.3 L510.5 1020.4 L511.1 1018.5 L511.6 1016.6 L512.2 1014.7 L512.8 1012.7 L513.3 1010.8 L513.8 1008.9 L514.3 1006.9 L514.8 1005.0 L515.3 1003.0 L515.7 1001.0 L516.2 999.1 L516.6 997.1 L517.0 995.1 L517.4 993.2 L517.9 991.2 L518.3 989.3 L518.6 987.3 L519.0 985.3 L519.4 983.4 L519.8 981.4 L520.2 979.4 L520.6 977.5 L520.9 975.5 L521.3 973.5 L521.7 971.6 L522.1 969.6 L522.4 967.6 L522.8 965.7 L523.2 963.7 L523.6 961.8 L524.0 959.8 L524.4 957.8 L524.8 955.9 L525.2 953.9 L525.6 952.0 L525.9 950.0 L526.3 948.0 L526.7 946.1 L527.1 944.1 L527.5 942.2 L527.9 940.2 L528.3 938.2 L528.7 936.3 L529.1 934.3 L529.5 932.4 L529.9 930.4 L530.3 928.4 L530.7 926.5 L531.1 924.5 L531.4 922.5 L531.8 920.6 L532.2 918.6 L532.6 916.6 L532.9 914.7 L533.3 912.7 L533.7 910.7 L534.0 908.8 L534.4 906.8 L534.7 904.8 L535.1 902.8 L535.4 900.9 L535.8 898.9 L536.1 896.9 L536.4 894.9 L536.7 893.0 L537.1 891.0 L537.4 889.0 L537.7 887.0 L538.0 885.0 L538.2 883.0 L538.5 881.0 L538.7 879.0 L538.8 876.9 L539.0 874.9 L539.1 873.0 L539.2 871.0 L539.4 869.0 L539.7 867.1 L540.0 865.2 L540.3 863.3 L540.7 861.4 L541.2 859.5 L541.8 857.6 L542.3 855.8 L543.0 853.9 L543.6 852.0 L544.3 850.2 L545.0 848.3 L545.7 846.5 L546.5 844.6 L547.2 842.8 L548.0 840.9 L548.7 839.1 L549.5 837.3 L550.3 835.4 L551.1 833.6 L551.8 831.7 L552.6 829.9 L553.4 828.0 L554.1 826.2 L554.9 824.3 L555.6 822.4 L556.4 820.5 L557.1 818.6 L557.7 816.7 L558.4 814.8 L559.0 812.9 L559.7 811.0 L560.3 809.1 L560.9 807.2 L561.6 805.3 L562.2 803.5 L562.9 801.6 L563.6 799.8 L564.3 798.0 L565.1 796.2 L565.9 794.4 L566.8 792.7 L567.7 790.9 L568.6 789.2 L569.6 787.4 L570.6 785.7 L571.5 784.0 L572.5 782.2 L573.5 780.5 L574.5 778.8 L575.5 777.0 L576.5 775.2 L577.4 773.4 L578.3 771.6 L579.2 769.8 L580.1 768.0 L580.9 766.1 L581.7 764.3 L582.5 762.4 L583.3 760.6 L584.1 758.7 L584.8 756.8 L585.6 755.0 L586.3 753.1 L587.0 751.2 L587.8 749.4 L588.5 747.5 L589.2 745.6 L589.9 743.8 L590.6 741.9 L591.4 740.0 L592.1 738.2 L592.8 736.3 L593.5 734.4 L594.2 732.6 L595.0 730.7 L595.7 728.9 L596.4 727.0 L597.2 725.1 L597.9 723.3 L598.6 721.4 L599.4 719.6 L600.1 717.7 L600.8 715.8 L601.6 714.0 L602.3 712.1 L603.0 710.3 L603.8 708.4 L604.5 706.5 L605.2 704.7 L606.0 702.8 L606.7 701.0 L607.5 699.1 L608.3 697.3 L609.0 695.5 L609.8 693.6 L610.6 691.8 L611.4 690.0 L612.2 688.1 L612.9 686.3 L613.7 684.5 L614.5 682.6 L615.3 680.8 L616.1 679.0 L616.9 677.1 L617.8 675.3 L618.6 673.5 L619.4 671.7 L620.2 669.8 L621.0 668.0 L621.8 666.2 L622.7 664.4 L623.5 662.6 L624.3 660.8 L625.2 658.9 L626.0 657.1 L626.8 655.3 L627.7 653.5 L628.6 651.7 L629.4 649.9 L630.3 648.1 L631.2 646.4 L632.1 644.6 L633.0 642.8 L633.9 641.1 L634.9 639.3 L635.8 637.6 L636.8 635.9 L637.8 634.1 L638.8 632.4 L639.8 630.7 L640.8 629.0 L641.8 627.2 L642.8 625.5 L643.7 623.7 L644.7 621.9 L645.7 620.1 L646.6 618.4 L647.5 616.5 L648.4 614.7 L649.3 612.9 L650.1 611.1 L651.0 609.3 L651.8 607.5 L652.7 605.7 L653.5 603.8 L654.4 602.0 L655.2 600.1 L656.0 598.3 L656.7 596.4 L657.5 594.5 L658.2 592.6 L658.8 590.7 L659.5 588.7 L660.1 586.8 L660.6 584.8 L661.1 582.9 L661.6 580.9 L662.1 578.9 L662.5 576.9 L662.8 574.9 L663.2 572.9 L663.5 570.9 L663.8 568.9 L664.1 566.9 L664.3 564.9 L664.5 562.9 L664.8 560.9 L665.0 558.9 L665.2 556.9 L665.3 554.9 L665.5 552.9 L665.6 550.9 L665.8 548.9 L665.9 546.9 L666.0 544.9 L666.1 542.8 L666.2 540.8 L666.2 538.8 L666.3 536.8 L666.3 534.8 L666.3 532.7 L666.3 530.7 L666.2 528.7 L666.2 526.7 L666.0 524.6 L665.9 522.6 L665.7 520.6 L665.6 518.6 L665.4 516.6 L665.1 514.6 L664.9 512.6 L664.6 510.6 L664.4 508.6 L664.1 506.6 L663.8 504.6 L663.5 502.6 L663.2 500.6 L662.9 498.7 L662.5 496.7 L662.2 494.7 L661.8 492.7 L661.5 490.7 L661.1 488.8 L660.7 486.8 L660.3 484.8 L659.8 482.8 L659.4 480.9 L658.9 478.9 L658.5 476.9 L658.0 475.0 L657.4 473.0 L656.9 471.1 L656.3 469.1 L655.7 467.2 L655.1 465.3 L654.4 463.4 L653.7 461.5 L653.0 459.6 L652.2 457.7 L651.5 455.8 L650.7 454.0 L649.9 452.1 L649.1 450.3 L648.4 448.4 L647.6 446.6 L646.8 444.8 L646.0 442.9 L645.2 441.1 L644.5 439.2 L643.8 437.4 L643.1 435.6 L642.4 433.7 L641.8 431.9 L641.3 430.0 L640.8 428.1 L640.4 426.2 L640.0 424.3 L639.7 422.4 L639.5 420.5 L639.3 418.6 L639.2 416.7 L639.2 414.7 L639.1 412.7 L639.1 410.7 L639.1 408.7 L639.1 406.8 L639.2 404.8 L639.3 402.9 L639.5 400.9 L639.7 399.0 L639.9 397.0 L640.1 395.0 L640.3 393.0 L640.5 391.0 L640.7 389.0 L640.9 387.0 L641.1 385.0 L641.3 383.0 L641.4 381.0 L641.6 379.0 L641.8 377.0 L642.0 375.1 L642.2 373.1 L642.3 371.1 L642.5 369.1 L642.7 367.1 L642.9 365.1 L643.1 363.1 L643.3 361.1 L643.4 359.1 L643.6 357.1 L643.8 355.1 L644.0 353.2 L644.2 351.2 L644.4 349.2 L644.6 347.2 L644.8 345.2 L645.0 343.2 L645.2 341.2 L645.4 339.2 L645.6 337.2 L645.8 335.3 L646.0 333.3 L646.2 331.3 L646.4 329.3 L646.6 327.3 L646.8 325.3 L647.0 323.3 L647.2 321.3 L647.5 319.4 L647.7 317.4 L647.9 315.4 L648.1 313.4 L648.3 311.4 L648.5 309.4 L648.8 307.4 L649.0 305.4 L649.2 303.5 L649.4 301.5 L649.7 299.5 L649.9 297.5 L650.1 295.5 L650.3 293.5 L650.6 291.5 L650.8 289.6 L651.0 287.6 L651.2 285.6 L651.5 283.6 L651.7 281.6 L651.9 279.6 L652.1 277.6 L652.4 275.6 L652.6 273.7 L652.8 271.7 L653.1 269.7 L653.3 267.7 L653.5 265.7 L653.8 263.7 L654.0 261.7 L654.2 259.8 L654.4 257.8 L654.7 255.8 L654.9 253.8 L655.1 251.8 L655.4 249.8 L655.6 247.8 L655.8 245.9 L656.1 243.9 L656.3 241.9 L656.5 239.9 L656.8 237.9 L657.0 235.9 L657.2 233.9 L657.5 232.0 L657.7 230.0 L658.0 228.0 L658.2 226.0 L658.4 224.0 L658.7 222.0 L658.9 220.0 L659.1 218.1 L659.4 216.1 L659.6 214.1 L659.9 212.1 L660.1 210.1 L660.3 208.1 L660.6 206.1 L660.8 204.2 L661.1 202.2 L661.3 200.2 L661.6 198.2 L661.8 196.2 L662.0 194.2 L662.3 192.2 L662.5 190.3 L662.8 188.3 L663.0 186.3 L663.3 184.3 L663.5 182.3 L663.8 180.3 L664.0 178.4 L664.2 176.4 L664.5 174.4 L664.7 172.4 L665.0 170.4 L665.2 168.4 L665.5 166.5 L665.7 164.5 L666.0 162.5 L666.2 160.5 L666.5 158.5 L666.7 156.5 L667.0 154.6 L667.3 152.6 L667.5 150.6 L667.8 148.6 L668.1 146.6 L668.4 144.7 L668.6 142.7 L668.9 140.7 L669.2 138.7 L669.4 136.7 L669.7 134.7 L669.9 132.7 L670.1 130.7 L670.4 128.8 L670.6 126.8 L670.8 124.8 L671.1 122.8 L671.3 120.8 L671.5 118.8 L671.7 116.8 L672.0 114.8 L672.2 112.8 L672.4 110.9 L672.6 108.9 L672.8 106.9 L673.0 104.9 L673.3 102.9 L673.5 100.9 L673.7 98.9 L673.9 96.9 L674.1 94.9 L674.3 93.0 L674.5 91.0 L674.7 89.0 L675.0 87.0 L675.2 85.0 L675.4 83.0 L675.6 81.0 L675.8 79.0 L676.0 77.0 L676.2 75.0 L676.4 73.1 L676.6 71.1 L676.8 69.1 L677.0 67.1 L677.2 65.1 L677.4 63.1 L677.6 61.1 L677.7 59.1 L677.9 57.1 L678.1 55.1 L678.3 53.1 L678.5 51.1 Z" fill="#0d0d0d"/>
<path d="M173.4 829.3 L172.4 831.0 L171.4 832.7 L170.4 834.5 L169.4 836.3 L168.5 838.1 L167.6 839.9 L166.7 841.8 L165.9 843.7 L165.2 845.6 L164.5 847.6 L163.9 849.5 L163.3 851.5 L162.8 853.4 L162.2 855.4 L161.8 857.4 L161.3 859.4 L160.9 861.4 L160.6 863.4 L160.3 865.4 L160.0 867.5 L159.9 869.6 L159.8 871.6 L159.8 873.7 L159.9 875.8 L160.2 877.9 L160.5 879.9 L160.9 882.0 L161.3 884.0 L161.8 886.0 L162.3 887.9 L162.8 889.9 L163.3 891.8 L163.8 893.7 L164.3 895.6 L164.8 897.6 L165.2 899.5 L165.7 901.5 L166.2 903.4 L166.7 905.4 L167.2 907.3 L167.8 909.2 L168.3 911.2 L168.8 913.1 L169.3 915.0 L169.8 917.0 L170.3 918.9 L170.8 920.8 L171.3 922.7 L171.7 924.7 L172.2 926.6 L172.6 928.5 L173.0 930.5 L173.4 932.4 L173.8 934.4 L174.2 936.3 L174.5 938.3 L174.9 940.2 L175.2 942.2 L175.5 944.1 L175.8 946.1 L176.1 948.1 L176.4 950.1 L176.6 952.0 L176.9 954.0 L177.2 956.0 L177.4 958.0 L177.7 959.9 L177.9 961.9 L178.1 963.9 L178.4 965.9 L178.6 967.9 L178.9 969.8 L179.1 971.8 L179.3 973.8 L179.5 975.8 L179.7 977.8 L179.9 979.8 L180.1 981.7 L180.3 983.7 L180.5 985.7 L180.7 987.7 L180.9 989.7 L181.0 991.7 L181.2 993.7 L181.3 995.7 L181.5 997.6 L181.6 999.6 L181.8 1001.6 L181.9 1003.6 L182.1 1005.6 L182.2 1007.6 L182.4 1009.6 L182.5 1011.6 L182.7 1013.6 L182.8 1015.6 L183.0 1017.6 L183.1 1019.6 L183.2 1021.6 L183.4 1023.6 L183.5 1025.5 L183.6 1027.5 L183.7 1029.5 L183.8 1031.5 L183.9 1033.5 L184.0 1035.5 L184.1 1037.5 L184.2 1039.5 L184.3 1041.5 L184.4 1043.5 L184.5 1045.5 L184.6 1047.5 L184.7 1049.5 L184.7 1051.5 L184.8 1053.5 L184.9 1055.5 L184.9 1057.5 L185.0 1059.4 L185.0 1061.4 L185.1 1063.4 L185.1 1065.4 L185.2 1067.4 L185.2 1069.4 L185.3 1071.4 L185.3 1073.4 L185.4 1075.4 L185.4 1077.4 L185.4 1079.4 L185.5 1081.4 L185.5 1083.4 L185.6 1085.4 L185.6 1087.4 L185.6 1089.4 L185.6 1091.4 L185.7 1093.4 L185.7 1095.4 L185.7 1097.4 L185.8 1099.4 L185.8 1101.4 L185.8 1103.4 L185.8 1105.4 L185.9 1107.4 L185.9 1109.4 L185.9 1111.4 L185.9 1113.4 L186.0 1115.4 L186.0 1117.4 L186.0 1119.4 L186.0 1121.4 L186.0 1123.4 L186.1 1125.4 L186.1 1127.4 L186.1 1129.4 L186.1 1131.4 L186.1 1133.4 L186.2 1135.4 L186.2 1137.4 L186.2 1139.4 L186.2 1141.4 L186.2 1143.4 L186.2 1145.4 L186.3 1147.4 L186.3 1149.4 L186.3 1151.4 L186.3 1153.4 L186.3 1155.4 L186.3 1157.4 L186.3 1159.4 L186.3 1161.4 L186.3 1163.4 L186.3 1165.4 L186.3 1167.4 L186.3 1169.4 L186.3 1171.4 L186.3 1173.4 L186.3 1175.4 L186.3 1177.4 L186.3 1179.4 L186.3 1181.4 L186.3 1183.4 L186.3 1185.4 L186.3 1187.4 L186.3 1189.4 L186.3 1191.4 L186.3 1193.4 L186.3 1195.4 L186.3 1197.4 L186.3 1199.4 L186.3 1201.4 L186.3 1203.4 L186.3 1205.4 L186.3 1207.4 L186.3 1209.4 L186.3 1211.4 L186.3 1213.4 L186.3 1215.4 L186.3 1217.4 L186.3 1219.4 L186.3 1221.3 L186.3 1223.0 L189.7 1223.0 L189.7 1221.3 L189.7 1219.4 L189.7 1217.4 L189.7 1215.4 L189.8 1213.4 L189.8 1211.4 L189.8 1209.4 L189.8 1207.4 L189.8 1205.4 L189.8 1203.4 L189.8 1201.4 L189.8 1199.4 L189.8 1197.4 L189.8 1195.4 L189.8 1193.4 L189.8 1191.4 L189.8 1189.4 L189.8 1187.4 L189.8 1185.4 L189.8 1183.4 L189.8 1181.4 L189.9 1179.4 L189.9 1177.4 L189.9 1175.4 L189.9 1173.4 L189.9 1171.4 L189.9 1169.4 L189.9 1167.4 L189.9 1165.4 L189.9 1163.4 L189.9 1161.4 L189.9 1159.4 L189.9 1157.4 L189.9 1155.4 L189.9 1153.4 L189.8 1151.4 L189.8 1149.4 L189.8 1147.4 L189.8 1145.4 L189.8 1143.4 L189.8 1141.4 L189.8 1139.4 L189.8 1137.4 L189.8 1135.4 L189.7 1133.4 L189.7 1131.4 L189.7 1129.4 L189.7 1127.4 L189.7 1125.4 L189.7 1123.4 L189.7 1121.4 L189.6 1119.4 L189.6 1117.4 L189.6 1115.4 L189.6 1113.4 L189.6 1111.4 L189.5 1109.4 L189.5 1107.4 L189.5 1105.4 L189.5 1103.4 L189.5 1101.4 L189.4 1099.4 L189.4 1097.4 L189.4 1095.4 L189.4 1093.4 L189.3 1091.4 L189.3 1089.4 L189.3 1087.4 L189.2 1085.4 L189.2 1083.4 L189.2 1081.4 L189.1 1079.4 L189.1 1077.4 L189.1 1075.4 L189.0 1073.4 L189.0 1071.4 L189.0 1069.4 L188.9 1067.4 L188.9 1065.4 L188.8 1063.3 L188.8 1061.3 L188.7 1059.3 L188.7 1057.3 L188.6 1055.3 L188.5 1053.3 L188.5 1051.3 L188.4 1049.3 L188.3 1047.3 L188.3 1045.3 L188.2 1043.3 L188.1 1041.3 L188.0 1039.3 L187.9 1037.3 L187.8 1035.3 L187.7 1033.3 L187.6 1031.3 L187.5 1029.3 L187.4 1027.3 L187.3 1025.3 L187.1 1023.3 L187.0 1021.3 L186.9 1019.3 L186.8 1017.3 L186.6 1015.3 L186.5 1013.3 L186.3 1011.3 L186.2 1009.3 L186.1 1007.3 L185.9 1005.3 L185.8 1003.3 L185.6 1001.3 L185.5 999.4 L185.3 997.4 L185.2 995.4 L185.0 993.4 L184.9 991.4 L184.7 989.4 L184.5 987.4 L184.4 985.4 L184.2 983.4 L184.0 981.4 L183.8 979.4 L183.6 977.4 L183.4 975.4 L183.2 973.4 L183.0 971.4 L182.7 969.4 L182.5 967.4 L182.3 965.4 L182.0 963.4 L181.8 961.4 L181.5 959.5 L181.3 957.5 L181.0 955.5 L180.8 953.5 L180.5 951.5 L180.2 949.5 L180.0 947.5 L179.7 945.5 L179.4 943.5 L179.1 941.6 L178.7 939.6 L178.4 937.6 L178.1 935.6 L177.7 933.6 L177.3 931.6 L176.9 929.7 L176.5 927.7 L176.1 925.7 L175.6 923.8 L175.1 921.8 L174.7 919.8 L174.2 917.9 L173.7 915.9 L173.2 914.0 L172.6 912.1 L172.1 910.1 L171.6 908.2 L171.1 906.3 L170.6 904.3 L170.1 902.4 L169.6 900.5 L169.1 898.5 L168.7 896.6 L168.2 894.7 L167.7 892.7 L167.2 890.8 L166.7 888.8 L166.2 886.9 L165.7 885.0 L165.2 883.1 L164.8 881.2 L164.5 879.3 L164.2 877.4 L164.0 875.5 L163.9 873.6 L163.9 871.7 L163.9 869.8 L164.1 867.9 L164.3 866.0 L164.6 864.0 L164.9 862.1 L165.3 860.2 L165.7 858.3 L166.2 856.4 L166.7 854.5 L167.3 852.6 L167.8 850.7 L168.4 848.9 L169.0 847.0 L169.7 845.2 L170.5 843.5 L171.3 841.7 L172.2 840.0 L173.1 838.2 L174.0 836.5 L175.0 834.8 L176.0 833.1 L177.0 831.3 Z" fill="#0d0d0d"/>
<path d="M175.7 832.3 L177.5 831.9 L179.3 831.6 L181.0 831.6 L182.8 831.7 L184.6 832.0 L186.4 832.4 L188.3 832.9 L190.1 833.5 L191.9 834.2 L193.8 834.9 L195.6 835.6 L197.4 836.4 L199.2 837.2 L200.9 838.0 L202.7 838.9 L204.5 839.8 L206.2 840.7 L207.9 841.7 L209.7 842.6 L211.4 843.6 L213.1 844.6 L214.7 845.7 L216.4 846.7 L218.0 847.8 L219.6 849.0 L221.1 850.1 L222.6 851.3 L224.1 852.6 L225.6 853.9 L227.1 855.2 L228.5 856.5 L229.9 857.9 L231.4 859.3 L232.8 860.7 L234.2 862.1 L235.6 863.5 L237.0 864.9 L238.4 866.3 L239.8 867.7 L241.1 869.2 L242.3 870.6 L243.5 872.1 L244.5 873.7 L245.5 875.3 L246.4 876.9 L247.3 878.7 L248.1 880.4 L248.9 882.2 L249.6 884.0 L250.3 885.9 L251.1 887.7 L251.8 889.6 L252.5 891.4 L253.2 893.3 L253.8 894.8 L257.6 893.2 L257.0 891.8 L256.4 890.0 L255.6 888.1 L254.9 886.2 L254.2 884.4 L253.4 882.5 L252.7 880.6 L251.9 878.7 L251.0 876.9 L250.1 875.0 L249.1 873.2 L248.0 871.4 L246.8 869.7 L245.5 868.0 L244.2 866.4 L242.8 864.9 L241.4 863.4 L239.9 862.0 L238.5 860.6 L237.1 859.2 L235.7 857.8 L234.3 856.3 L232.8 854.9 L231.3 853.5 L229.9 852.2 L228.4 850.8 L226.8 849.4 L225.2 848.1 L223.6 846.9 L222.0 845.6 L220.3 844.4 L218.7 843.3 L216.9 842.2 L215.2 841.1 L213.5 840.0 L211.7 839.0 L209.9 838.0 L208.2 837.1 L206.4 836.1 L204.6 835.2 L202.7 834.3 L200.9 833.4 L199.0 832.6 L197.2 831.8 L195.3 831.0 L193.4 830.3 L191.4 829.6 L189.5 829.0 L187.5 828.4 L185.4 827.9 L183.3 827.6 L181.1 827.4 L178.9 827.5 L176.8 827.8 L174.7 828.3 Z" fill="#0d0d0d"/>
<path d="M257.6 921.6 L256.4 923.3 L255.3 924.9 L254.1 926.6 L253.0 928.3 L251.9 930.0 L250.9 931.8 L250.0 933.7 L249.1 935.5 L248.3 937.4 L247.6 939.3 L246.9 941.3 L246.3 943.3 L245.8 945.2 L245.3 947.2 L244.9 949.2 L244.6 951.3 L244.3 953.3 L244.0 955.3 L243.8 957.3 L243.6 959.3 L243.4 961.3 L243.2 963.3 L243.1 965.3 L243.0 967.3 L242.9 969.3 L242.8 971.4 L242.7 973.4 L242.6 975.4 L242.5 977.4 L242.4 979.3 L242.3 981.3 L242.2 983.3 L242.1 985.3 L242.1 987.3 L241.9 989.3 L241.8 991.3 L241.7 993.3 L241.6 995.3 L241.5 997.3 L241.3 999.3 L241.2 1001.3 L241.1 1003.3 L240.9 1005.2 L240.7 1007.2 L240.6 1009.2 L240.4 1011.2 L240.3 1013.2 L240.1 1015.2 L239.9 1017.2 L239.8 1019.2 L239.6 1021.2 L239.4 1023.2 L239.2 1025.2 L239.1 1027.2 L238.9 1029.1 L238.7 1031.1 L238.6 1033.1 L238.4 1035.1 L238.2 1037.1 L238.0 1039.1 L237.9 1041.1 L237.7 1043.1 L237.5 1045.1 L237.4 1047.1 L237.2 1049.1 L237.0 1051.1 L236.9 1053.1 L236.7 1055.1 L236.6 1057.1 L236.4 1059.1 L236.2 1061.1 L236.1 1063.0 L235.9 1065.0 L235.8 1067.0 L235.6 1069.0 L235.5 1071.0 L235.3 1073.0 L235.2 1075.0 L235.0 1077.0 L234.9 1079.0 L234.8 1081.0 L234.7 1083.0 L234.5 1085.0 L234.4 1087.0 L234.3 1089.0 L234.2 1091.0 L234.1 1093.0 L234.0 1095.0 L233.9 1097.0 L233.8 1099.0 L233.7 1101.0 L233.7 1103.0 L233.6 1105.0 L233.5 1107.0 L233.4 1109.0 L233.3 1111.0 L233.3 1113.0 L233.2 1115.0 L233.1 1117.0 L233.0 1119.0 L233.0 1121.0 L232.9 1123.0 L232.8 1125.0 L232.8 1127.0 L232.7 1129.0 L232.7 1131.0 L232.6 1133.0 L232.5 1135.0 L232.5 1137.0 L232.4 1139.0 L232.4 1141.0 L232.3 1143.0 L232.2 1145.0 L232.2 1147.0 L232.1 1149.0 L232.1 1151.0 L232.0 1153.0 L232.0 1155.0 L231.9 1157.0 L231.9 1159.0 L231.8 1161.0 L231.8 1163.0 L231.8 1165.0 L231.7 1167.0 L231.7 1169.0 L231.7 1171.0 L231.6 1173.0 L231.6 1175.0 L231.6 1177.0 L231.5 1179.0 L231.5 1181.0 L231.5 1183.0 L231.4 1185.0 L231.4 1187.0 L231.4 1189.0 L231.4 1191.0 L231.3 1193.0 L231.3 1195.0 L231.3 1197.0 L231.3 1199.0 L231.2 1201.0 L231.2 1203.0 L231.2 1205.0 L231.2 1207.0 L231.1 1209.0 L231.1 1211.0 L231.1 1213.0 L231.1 1215.0 L231.1 1217.0 L231.0 1219.0 L231.0 1221.0 L231.0 1223.0 L234.2 1223.0 L234.2 1221.1 L234.3 1219.1 L234.3 1217.1 L234.3 1215.1 L234.3 1213.1 L234.4 1211.1 L234.4 1209.1 L234.4 1207.1 L234.4 1205.1 L234.5 1203.1 L234.5 1201.1 L234.5 1199.1 L234.5 1197.1 L234.5 1195.1 L234.6 1193.1 L234.6 1191.1 L234.6 1189.1 L234.7 1187.1 L234.7 1185.1 L234.7 1183.1 L234.7 1181.1 L234.8 1179.1 L234.8 1177.1 L234.8 1175.1 L234.9 1173.1 L234.9 1171.1 L234.9 1169.1 L235.0 1167.1 L235.0 1165.1 L235.1 1163.1 L235.1 1161.1 L235.2 1159.1 L235.2 1157.1 L235.3 1155.1 L235.3 1153.1 L235.4 1151.1 L235.4 1149.1 L235.5 1147.1 L235.5 1145.1 L235.6 1143.1 L235.6 1141.1 L235.7 1139.1 L235.8 1137.1 L235.8 1135.1 L235.9 1133.1 L235.9 1131.1 L236.0 1129.1 L236.1 1127.1 L236.1 1125.1 L236.2 1123.1 L236.3 1121.1 L236.3 1119.1 L236.4 1117.1 L236.5 1115.1 L236.6 1113.2 L236.6 1111.2 L236.7 1109.2 L236.8 1107.2 L236.9 1105.2 L237.0 1103.2 L237.0 1101.2 L237.1 1099.2 L237.2 1097.2 L237.3 1095.2 L237.4 1093.2 L237.5 1091.2 L237.6 1089.2 L237.7 1087.2 L237.8 1085.2 L238.0 1083.2 L238.1 1081.2 L238.2 1079.2 L238.4 1077.3 L238.5 1075.3 L238.7 1073.3 L238.8 1071.3 L239.0 1069.3 L239.1 1067.3 L239.3 1065.3 L239.4 1063.3 L239.6 1061.3 L239.7 1059.3 L239.9 1057.3 L240.0 1055.3 L240.2 1053.3 L240.4 1051.4 L240.5 1049.4 L240.7 1047.4 L240.9 1045.4 L241.1 1043.4 L241.2 1041.4 L241.4 1039.4 L241.6 1037.4 L241.7 1035.4 L241.9 1033.4 L242.1 1031.4 L242.3 1029.4 L242.4 1027.4 L242.6 1025.5 L242.8 1023.5 L243.0 1021.5 L243.1 1019.5 L243.3 1017.5 L243.5 1015.5 L243.6 1013.5 L243.8 1011.5 L244.0 1009.5 L244.1 1007.5 L244.3 1005.5 L244.4 1003.5 L244.6 1001.5 L244.7 999.5 L244.9 997.5 L245.0 995.5 L245.1 993.5 L245.2 991.5 L245.3 989.5 L245.4 987.5 L245.5 985.5 L245.6 983.5 L245.7 981.5 L245.8 979.5 L245.9 977.5 L246.0 975.5 L246.1 973.5 L246.2 971.5 L246.3 969.5 L246.4 967.5 L246.5 965.6 L246.7 963.6 L246.8 961.6 L247.0 959.6 L247.2 957.7 L247.4 955.7 L247.7 953.7 L248.0 951.8 L248.3 949.9 L248.7 948.0 L249.1 946.1 L249.6 944.2 L250.2 942.4 L250.8 940.5 L251.5 938.7 L252.3 936.9 L253.1 935.2 L254.0 933.4 L254.9 931.8 L255.9 930.1 L257.0 928.5 L258.1 926.9 L259.3 925.2 L260.4 923.6 Z" fill="#0d0d0d"/>
<path d="M474.3 412.1 L474.4 414.2 L474.8 416.3 L475.2 418.3 L475.8 420.3 L476.5 422.3 L477.2 424.2 L478.0 426.1 L478.8 427.9 L479.6 429.8 L480.4 431.6 L481.3 433.5 L482.2 435.3 L483.1 437.1 L484.0 438.9 L484.9 440.7 L485.9 442.5 L486.9 444.2 L488.0 445.9 L489.0 447.7 L490.1 449.4 L491.1 451.1 L492.2 452.8 L493.2 454.5 L494.3 456.2 L495.3 457.9 L496.3 459.6 L497.3 461.3 L498.3 463.0 L499.3 464.7 L500.3 466.5 L501.3 468.2 L502.2 469.9 L503.1 471.6 L503.9 473.4 L504.6 475.2 L505.3 477.0 L506.0 478.8 L506.5 480.7 L507.1 482.6 L507.5 484.5 L508.0 486.4 L508.3 488.3 L508.7 490.2 L508.9 492.1 L509.1 494.1 L509.3 496.0 L509.4 497.9 L509.4 499.9 L509.5 501.9 L509.5 503.9 L509.4 505.9 L509.4 507.8 L509.3 509.8 L509.3 511.8 L509.1 513.7 L509.0 515.7 L508.8 517.6 L508.5 519.6 L508.2 521.5 L507.9 523.4 L507.5 525.4 L507.1 527.3 L506.6 529.2 L506.1 531.1 L505.6 533.0 L505.1 534.9 L504.6 536.9 L504.0 538.8 L503.5 540.7 L502.9 542.6 L502.3 544.5 L501.8 546.4 L501.2 548.3 L500.6 550.2 L500.0 552.1 L499.4 554.0 L498.7 555.8 L498.0 557.7 L497.3 559.5 L496.6 561.4 L495.8 563.2 L495.0 565.0 L494.2 566.8 L493.4 568.5 L492.5 570.3 L491.6 572.1 L490.7 573.8 L489.7 575.6 L488.8 577.3 L487.8 579.0 L486.8 580.7 L485.8 582.4 L484.7 584.1 L483.6 585.7 L482.5 587.3 L481.4 588.9 L480.2 590.5 L479.0 592.1 L477.8 593.6 L476.6 595.1 L475.3 596.7 L474.0 598.2 L472.7 599.7 L471.4 601.1 L470.1 602.6 L468.7 604.0 L467.3 605.4 L465.9 606.8 L464.5 608.2 L463.1 609.5 L461.6 610.8 L460.1 612.1 L458.6 613.4 L457.1 614.6 L455.5 615.9 L454.0 617.1 L452.4 618.3 L450.8 619.5 L449.2 620.6 L447.6 621.7 L446.0 622.8 L444.3 623.9 L442.7 625.1 L441.0 626.2 L439.3 627.3 L437.7 628.4 L436.0 629.6 L434.4 630.7 L432.7 631.8 L431.1 633.0 L429.4 634.1 L427.8 635.2 L426.1 636.3 L424.5 637.4 L422.8 638.5 L421.2 639.6 L419.5 640.6 L417.8 641.6 L416.1 642.6 L414.3 643.6 L412.6 644.5 L410.9 645.5 L409.1 646.4 L407.4 647.3 L405.6 648.2 L403.8 649.0 L402.0 649.9 L400.2 650.7 L398.4 651.5 L396.6 652.2 L394.8 652.9 L393.0 653.6 L391.1 654.2 L389.2 654.8 L387.3 655.4 L385.5 655.9 L383.5 656.4 L381.6 656.9 L379.7 657.3 L377.8 657.8 L375.9 658.2 L373.9 658.6 L372.0 658.9 L370.0 659.2 L368.1 659.5 L366.1 659.8 L364.2 660.0 L362.2 660.2 L360.2 660.5 L358.3 660.6 L356.3 660.8 L354.3 661.0 L352.3 661.2 L350.3 661.4 L348.3 661.6 L346.3 661.9 L344.3 662.1 L342.3 662.3 L340.4 662.4 L338.4 662.6 L336.4 662.7 L334.5 662.8 L332.5 662.9 L330.5 662.9 L328.6 662.9 L326.6 662.9 L324.6 662.9 L322.6 662.9 L320.6 662.8 L318.7 662.7 L316.7 662.6 L314.7 662.5 L312.7 662.4 L310.8 662.2 L308.8 662.0 L306.9 661.8 L304.9 661.5 L303.0 661.2 L301.0 660.9 L299.1 660.5 L297.2 660.2 L295.2 659.8 L293.3 659.3 L291.4 658.9 L289.4 658.4 L287.5 658.0 L285.6 657.5 L283.7 657.0 L281.8 656.4 L279.9 655.9 L278.0 655.3 L276.1 654.7 L274.2 654.1 L272.3 653.5 L270.4 652.9 L268.6 652.2 L266.7 651.5 L264.8 650.8 L263.0 650.1 L261.1 649.4 L259.3 648.7 L257.5 647.9 L255.6 647.1 L253.8 646.4 L252.0 645.6 L250.2 644.8 L248.4 643.9 L246.6 643.1 L244.8 642.2 L243.0 641.4 L241.3 640.5 L239.5 639.5 L237.8 638.6 L236.1 637.6 L234.4 636.6 L232.7 635.6 L231.0 634.5 L229.4 633.5 L227.7 632.4 L226.0 631.3 L224.4 630.2 L222.7 629.1 L221.1 627.9 L219.4 626.8 L217.8 625.7 L216.2 624.5 L214.6 623.4 L213.0 622.2 L211.4 621.0 L209.9 619.8 L208.3 618.6 L206.8 617.3 L205.3 616.0 L203.9 614.7 L202.4 613.4 L201.0 612.0 L199.5 610.7 L198.1 609.3 L196.8 607.9 L195.4 606.4 L194.0 605.0 L192.7 603.5 L191.4 602.1 L190.1 600.6 L188.9 599.0 L187.6 597.5 L186.4 596.0 L185.3 594.4 L184.1 592.8 L183.0 591.2 L181.9 589.5 L180.8 587.9 L179.8 586.2 L178.8 584.5 L177.8 582.8 L176.8 581.1 L175.9 579.3 L175.0 577.6 L174.1 575.8 L173.2 574.1 L172.4 572.3 L171.6 570.5 L170.9 568.7 L170.2 566.8 L169.5 565.0 L168.8 563.1 L168.2 561.3 L167.7 559.4 L167.1 557.5 L166.6 555.6 L166.1 553.7 L165.7 551.8 L165.3 549.9 L165.0 547.9 L164.7 546.0 L164.4 544.1 L164.2 542.1 L164.0 540.1 L163.9 538.2 L163.8 536.2 L163.7 534.2 L163.6 532.2 L163.5 530.3 L163.5 528.3 L163.5 526.3 L163.5 524.4 L163.6 522.4 L163.7 520.5 L163.9 518.5 L164.1 516.6 L164.4 514.6 L164.7 512.7 L165.1 510.8 L165.5 508.9 L165.9 506.9 L166.4 505.0 L166.9 503.1 L167.4 501.2 L168.0 499.4 L168.6 497.5 L169.3 495.6 L170.0 493.8 L170.7 492.0 L171.4 490.2 L172.2 488.4 L173.1 486.6 L173.9 484.8 L174.8 483.0 L175.7 481.2 L176.6 479.5 L177.5 477.7 L178.5 475.9 L179.4 474.2 L180.3 472.4 L181.3 470.7 L182.2 469.0 L182.8 467.7 L179.8 466.1 L179.1 467.4 L178.2 469.1 L177.3 470.8 L176.3 472.6 L175.4 474.3 L174.5 476.1 L173.5 477.9 L172.6 479.7 L171.7 481.5 L170.8 483.3 L169.9 485.1 L169.1 486.9 L168.2 488.8 L167.4 490.6 L166.7 492.5 L166.0 494.4 L165.3 496.4 L164.7 498.3 L164.1 500.2 L163.5 502.2 L163.0 504.1 L162.5 506.1 L162.0 508.1 L161.6 510.1 L161.2 512.1 L160.9 514.1 L160.6 516.1 L160.4 518.1 L160.2 520.2 L160.0 522.2 L159.9 524.3 L159.9 526.3 L159.9 528.3 L159.9 530.3 L160.0 532.4 L160.1 534.4 L160.2 536.4 L160.3 538.4 L160.4 540.4 L160.6 542.5 L160.9 544.5 L161.1 546.5 L161.4 548.5 L161.8 550.5 L162.2 552.5 L162.6 554.5 L163.1 556.5 L163.6 558.5 L164.1 560.4 L164.7 562.4 L165.4 564.3 L166.0 566.2 L166.7 568.1 L167.5 570.0 L168.2 571.9 L169.0 573.8 L169.9 575.6 L170.8 577.5 L171.7 579.3 L172.6 581.1 L173.6 582.9 L174.6 584.6 L175.6 586.4 L176.6 588.1 L177.7 589.9 L178.8 591.6 L179.9 593.2 L181.1 594.9 L182.2 596.6 L183.5 598.2 L184.7 599.8 L186.0 601.4 L187.2 603.0 L188.6 604.5 L189.9 606.0 L191.3 607.5 L192.6 609.0 L194.0 610.5 L195.5 611.9 L196.9 613.4 L198.4 614.8 L199.8 616.2 L201.3 617.5 L202.8 618.9 L204.4 620.2 L205.9 621.5 L207.5 622.8 L209.1 624.0 L210.7 625.3 L212.3 626.5 L214.0 627.7 L215.6 628.8 L217.3 630.0 L218.9 631.1 L220.6 632.2 L222.2 633.4 L223.9 634.5 L225.6 635.6 L227.3 636.7 L229.0 637.8 L230.7 638.8 L232.4 639.9 L234.2 640.9 L235.9 641.9 L237.7 642.9 L239.5 643.9 L241.3 644.8 L243.1 645.7 L244.9 646.6 L246.7 647.5 L248.6 648.3 L250.4 649.1 L252.2 650.0 L254.1 650.8 L256.0 651.5 L257.8 652.3 L259.7 653.1 L261.6 653.8 L263.4 654.5 L265.3 655.2 L267.2 655.9 L269.1 656.6 L271.0 657.2 L273.0 657.9 L274.9 658.5 L276.8 659.1 L278.7 659.7 L280.7 660.2 L282.6 660.8 L284.6 661.3 L286.5 661.8 L288.5 662.3 L290.4 662.8 L292.4 663.2 L294.4 663.7 L296.4 664.1 L298.4 664.5 L300.3 664.8 L302.3 665.2 L304.4 665.5 L306.4 665.8 L308.4 666.0 L310.4 666.2 L312.4 666.4 L314.4 666.6 L316.5 666.7 L318.5 666.8 L320.5 666.9 L322.5 666.9 L324.5 667.0 L326.5 667.0 L328.6 667.0 L330.6 667.0 L332.6 667.0 L334.6 666.9 L336.7 666.8 L338.7 666.7 L340.7 666.5 L342.7 666.3 L344.7 666.1 L346.7 665.9 L348.7 665.7 L350.7 665.5 L352.7 665.3 L354.7 665.1 L356.7 665.0 L358.7 664.8 L360.7 664.6 L362.7 664.4 L364.7 664.1 L366.7 663.9 L368.7 663.6 L370.7 663.3 L372.7 663.0 L374.7 662.6 L376.7 662.2 L378.7 661.8 L380.6 661.3 L382.6 660.9 L384.6 660.4 L386.5 659.8 L388.5 659.3 L390.4 658.7 L392.4 658.1 L394.3 657.4 L396.2 656.7 L398.1 656.0 L400.0 655.2 L401.9 654.4 L403.7 653.6 L405.6 652.7 L407.4 651.8 L409.2 650.9 L411.0 650.0 L412.8 649.0 L414.5 648.1 L416.3 647.1 L418.1 646.1 L419.8 645.1 L421.6 644.0 L423.3 643.0 L425.0 641.9 L426.7 640.8 L428.4 639.6 L430.0 638.5 L431.7 637.4 L433.3 636.2 L435.0 635.1 L436.6 634.0 L438.3 632.8 L439.9 631.7 L441.5 630.6 L443.2 629.5 L444.9 628.3 L446.5 627.2 L448.2 626.1 L449.9 625.0 L451.5 623.8 L453.2 622.6 L454.8 621.4 L456.4 620.2 L458.0 618.9 L459.6 617.7 L461.1 616.4 L462.7 615.1 L464.2 613.7 L465.7 612.4 L467.2 611.0 L468.7 609.6 L470.1 608.2 L471.5 606.7 L472.9 605.2 L474.3 603.7 L475.6 602.2 L476.9 600.7 L478.3 599.2 L479.6 597.6 L480.8 596.0 L482.1 594.4 L483.3 592.8 L484.5 591.2 L485.7 589.5 L486.8 587.8 L487.9 586.1 L489.0 584.4 L490.1 582.7 L491.1 580.9 L492.1 579.2 L493.1 577.4 L494.0 575.6 L495.0 573.8 L495.9 572.0 L496.8 570.2 L497.6 568.4 L498.5 566.5 L499.3 564.7 L500.1 562.8 L500.8 560.9 L501.6 559.0 L502.3 557.1 L502.9 555.2 L503.6 553.3 L504.2 551.4 L504.8 549.4 L505.4 547.5 L505.9 545.6 L506.5 543.6 L507.0 541.7 L507.6 539.8 L508.1 537.9 L508.7 535.9 L509.2 534.0 L509.7 532.0 L510.2 530.1 L510.7 528.1 L511.1 526.1 L511.5 524.1 L511.9 522.1 L512.2 520.1 L512.4 518.1 L512.6 516.0 L512.8 514.0 L512.9 512.0 L513.0 509.9 L513.1 507.9 L513.1 505.9 L513.1 503.9 L513.1 501.9 L513.1 499.8 L513.0 497.8 L512.9 495.8 L512.8 493.7 L512.5 491.7 L512.3 489.6 L511.9 487.6 L511.5 485.6 L511.0 483.6 L510.5 481.7 L510.0 479.7 L509.4 477.7 L508.7 475.8 L508.0 473.9 L507.2 472.0 L506.3 470.1 L505.4 468.3 L504.4 466.5 L503.4 464.7 L502.4 462.9 L501.4 461.2 L500.4 459.5 L499.4 457.8 L498.3 456.1 L497.3 454.3 L496.3 452.6 L495.2 450.9 L494.1 449.2 L493.1 447.5 L492.0 445.8 L491.0 444.1 L490.0 442.4 L489.0 440.7 L488.0 439.0 L487.1 437.3 L486.2 435.5 L485.3 433.7 L484.4 432.0 L483.6 430.2 L482.8 428.4 L482.0 426.6 L481.2 424.7 L480.4 422.9 L479.7 421.1 L479.1 419.3 L478.6 417.5 L478.1 415.6 L477.9 413.8 L477.7 411.9 Z" fill="#0d0d0d"/>
<path d="M582.8 96.4 L582.7 98.4 L582.6 100.4 L582.6 102.4 L582.5 104.4 L582.4 106.4 L582.3 108.4 L582.2 110.4 L582.2 112.4 L582.1 114.4 L582.0 116.4 L581.9 118.4 L581.8 120.4 L581.8 122.4 L581.7 124.4 L581.6 126.4 L581.5 128.4 L581.4 130.4 L581.4 132.4 L581.3 134.4 L581.2 136.4 L581.1 138.4 L581.1 140.4 L581.0 142.4 L580.9 144.4 L580.9 146.4 L580.8 148.4 L580.7 150.4 L580.6 152.4 L580.6 154.4 L580.5 156.4 L580.4 158.4 L580.3 160.4 L580.2 162.4 L580.2 164.4 L580.1 166.4 L580.0 168.4 L579.9 170.4 L579.8 172.4 L579.7 174.4 L579.6 176.4 L579.5 178.4 L579.4 180.4 L579.3 182.3 L579.2 184.3 L579.1 186.3 L578.9 188.3 L578.8 190.3 L578.7 192.3 L578.5 194.3 L578.4 196.3 L578.2 198.3 L578.1 200.3 L577.9 202.3 L577.8 204.3 L577.6 206.2 L577.5 208.2 L577.3 210.2 L577.1 212.2 L577.0 214.2 L576.8 216.2 L576.6 218.2 L576.4 220.2 L576.3 222.2 L576.1 224.2 L575.9 226.2 L575.8 228.2 L575.6 230.1 L575.4 232.1 L575.2 234.1 L575.1 236.1 L574.9 238.1 L574.7 240.1 L574.6 242.1 L574.4 244.1 L574.2 246.1 L574.1 248.1 L573.9 250.1 L573.7 252.1 L573.6 254.1 L573.4 256.1 L573.2 258.0 L573.0 260.0 L572.8 262.0 L572.7 264.0 L572.5 266.0 L572.3 268.0 L572.1 270.0 L571.9 272.0 L571.8 274.0 L571.6 276.0 L571.4 278.0 L571.2 280.0 L571.1 282.0 L570.9 284.0 L570.7 285.9 L570.6 287.9 L570.4 289.9 L570.3 291.9 L570.1 293.9 L570.0 295.9 L569.9 297.9 L569.7 300.0 L569.6 302.0 L569.5 304.0 L569.5 306.0 L569.4 308.0 L569.4 310.0 L569.3 312.0 L569.3 314.0 L569.3 316.1 L569.4 318.1 L569.4 320.1 L569.5 322.1 L569.6 324.2 L569.7 326.2 L569.9 328.2 L570.1 330.2 L570.3 332.2 L570.5 334.2 L570.8 336.2 L571.1 338.2 L571.4 340.2 L571.7 342.2 L572.1 344.2 L572.6 346.2 L573.0 348.2 L573.5 350.2 L574.0 352.1 L574.5 354.0 L575.1 356.0 L575.6 357.9 L576.1 359.8 L576.6 361.8 L577.2 363.7 L577.7 365.6 L578.3 367.6 L578.9 369.5 L579.5 371.4 L580.1 373.4 L580.8 375.3 L581.4 377.2 L582.2 379.1 L582.9 381.0 L583.7 382.8 L584.5 384.7 L585.4 386.5 L586.2 388.4 L587.1 390.2 L588.0 392.0 L588.9 393.8 L589.9 395.5 L590.8 397.3 L591.7 399.1 L592.6 400.9 L593.4 402.7 L594.3 404.5 L595.2 406.2 L596.1 408.0 L597.0 409.8 L597.8 411.6 L598.7 413.4 L599.6 415.2 L600.5 417.0 L601.3 418.8 L602.2 420.6 L603.0 422.4 L603.8 424.2 L604.6 426.0 L605.4 427.9 L606.2 429.7 L607.0 431.5 L607.7 433.4 L608.5 435.2 L609.2 437.1 L609.9 438.9 L610.6 440.8 L611.4 442.7 L612.1 444.5 L612.9 446.4 L613.7 448.3 L614.5 450.1 L615.4 452.0 L616.3 453.8 L617.3 455.6 L618.2 457.3 L619.2 459.1 L620.2 460.8 L621.1 462.5 L622.0 464.3 L622.8 466.1 L623.6 467.9 L624.4 469.7 L625.1 471.5 L625.9 473.4 L626.6 475.2 L627.3 477.1 L628.0 478.9 L628.7 480.8 L629.4 482.7 L630.0 484.6 L630.7 486.4 L631.3 488.3 L632.0 490.2 L632.6 492.1 L633.2 494.0 L633.9 495.9 L634.5 497.8 L635.1 499.7 L635.7 501.6 L636.4 503.5 L637.0 505.4 L637.6 507.3 L638.3 509.2 L638.9 511.1 L639.6 513.0 L640.2 514.9 L640.8 516.8 L641.5 518.7 L642.1 520.6 L642.7 522.5 L643.3 524.4 L643.9 526.3 L644.5 528.2 L645.1 530.1 L645.7 532.0 L646.2 533.9 L646.8 535.8 L647.4 537.7 L647.9 539.6 L648.4 541.5 L648.8 543.4 L649.1 545.4 L649.2 547.3 L649.3 549.2 L649.4 551.2 L649.3 553.2 L649.3 555.2 L649.2 557.2 L649.1 559.1 L649.0 561.1 L648.8 563.1 L648.6 565.1 L648.4 567.0 L648.1 569.0 L647.8 570.9 L647.5 572.9 L647.1 574.8 L646.7 576.8 L646.2 578.7 L645.7 580.6 L645.1 582.4 L644.5 584.3 L643.8 586.1 L643.1 588.0 L642.3 589.8 L641.5 591.6 L640.6 593.4 L639.7 595.2 L638.8 596.9 L637.9 598.7 L636.9 600.4 L636.0 602.2 L635.0 603.9 L634.0 605.7 L633.1 607.4 L632.1 609.2 L631.1 610.9 L630.1 612.6 L629.1 614.4 L628.2 616.1 L627.2 617.9 L626.2 619.6 L625.2 621.3 L624.2 623.0 L623.1 624.7 L622.1 626.4 L621.1 628.1 L620.0 629.8 L618.9 631.5 L617.8 633.1 L616.7 634.8 L615.6 636.4 L614.4 638.0 L613.3 639.6 L612.1 641.2 L610.8 642.7 L609.5 644.2 L608.2 645.7 L606.9 647.2 L605.5 648.6 L604.2 650.1 L602.8 651.5 L601.4 652.9 L600.1 654.2 L599.2 655.1 L600.8 656.7 L601.6 655.8 L603.0 654.4 L604.3 653.0 L605.7 651.6 L607.1 650.1 L608.5 648.7 L609.9 647.2 L611.2 645.7 L612.5 644.1 L613.8 642.6 L615.0 641.0 L616.2 639.3 L617.4 637.7 L618.5 636.0 L619.6 634.4 L620.7 632.7 L621.8 631.0 L622.9 629.3 L624.0 627.6 L625.0 625.9 L626.0 624.1 L627.1 622.4 L628.1 620.7 L629.1 618.9 L630.1 617.2 L631.0 615.5 L632.0 613.7 L633.0 612.0 L634.0 610.2 L635.0 608.5 L636.0 606.7 L636.9 605.0 L637.9 603.2 L638.9 601.5 L639.8 599.7 L640.8 597.9 L641.7 596.1 L642.6 594.3 L643.4 592.5 L644.3 590.7 L645.1 588.8 L645.8 586.9 L646.5 585.0 L647.2 583.1 L647.8 581.2 L648.3 579.2 L648.8 577.3 L649.3 575.3 L649.7 573.3 L650.0 571.3 L650.3 569.3 L650.6 567.3 L650.8 565.3 L651.0 563.3 L651.2 561.3 L651.3 559.3 L651.4 557.3 L651.5 555.2 L651.5 553.2 L651.5 551.2 L651.5 549.2 L651.4 547.1 L651.2 545.1 L650.9 543.1 L650.5 541.1 L650.1 539.1 L649.5 537.1 L648.9 535.2 L648.3 533.3 L647.8 531.4 L647.2 529.5 L646.6 527.6 L646.0 525.6 L645.4 523.7 L644.8 521.8 L644.2 519.9 L643.5 518.0 L642.9 516.1 L642.3 514.2 L641.6 512.3 L641.0 510.4 L640.3 508.5 L639.7 506.6 L639.1 504.7 L638.4 502.8 L637.8 500.9 L637.2 499.0 L636.6 497.1 L636.0 495.2 L635.4 493.3 L634.8 491.4 L634.2 489.5 L633.6 487.6 L633.0 485.7 L632.4 483.8 L631.8 481.9 L631.2 479.9 L630.5 478.0 L629.9 476.1 L629.2 474.3 L628.5 472.4 L627.8 470.5 L627.1 468.6 L626.4 466.7 L625.6 464.8 L624.8 463.0 L623.9 461.1 L623.0 459.3 L622.1 457.5 L621.2 455.7 L620.2 454.0 L619.3 452.2 L618.5 450.5 L617.6 448.7 L616.8 446.9 L616.1 445.1 L615.3 443.2 L614.6 441.4 L613.9 439.5 L613.2 437.7 L612.4 435.8 L611.7 433.9 L611.0 432.1 L610.2 430.2 L609.4 428.3 L608.7 426.5 L607.9 424.6 L607.0 422.8 L606.2 421.0 L605.3 419.1 L604.5 417.3 L603.6 415.5 L602.8 413.7 L601.9 411.9 L601.0 410.1 L600.1 408.3 L599.3 406.5 L598.4 404.7 L597.5 402.9 L596.6 401.1 L595.7 399.3 L594.8 397.5 L593.9 395.7 L593.0 393.9 L592.1 392.1 L591.2 390.4 L590.3 388.6 L589.5 386.8 L588.6 385.0 L587.8 383.2 L587.0 381.4 L586.2 379.6 L585.5 377.8 L584.8 375.9 L584.2 374.1 L583.5 372.2 L582.9 370.3 L582.3 368.5 L581.8 366.6 L581.2 364.6 L580.7 362.7 L580.1 360.8 L579.6 358.9 L579.1 357.0 L578.6 355.0 L578.1 353.1 L577.5 351.2 L577.1 349.3 L576.6 347.3 L576.1 345.4 L575.7 343.5 L575.3 341.6 L575.0 339.6 L574.7 337.7 L574.4 335.7 L574.2 333.8 L574.0 331.8 L573.8 329.8 L573.6 327.9 L573.4 325.9 L573.3 323.9 L573.1 321.9 L573.1 320.0 L573.0 318.0 L573.0 316.0 L572.9 314.0 L572.9 312.1 L573.0 310.1 L573.0 308.1 L573.1 306.1 L573.1 304.1 L573.2 302.1 L573.3 300.2 L573.4 298.2 L573.6 296.2 L573.7 294.2 L573.8 292.2 L574.0 290.2 L574.1 288.2 L574.3 286.2 L574.4 284.2 L574.6 282.2 L574.8 280.3 L574.9 278.3 L575.1 276.3 L575.3 274.3 L575.4 272.3 L575.6 270.3 L575.8 268.3 L576.0 266.3 L576.1 264.3 L576.3 262.3 L576.5 260.3 L576.7 258.3 L576.8 256.3 L577.0 254.4 L577.2 252.4 L577.3 250.4 L577.5 248.4 L577.6 246.4 L577.8 244.4 L578.0 242.4 L578.1 240.4 L578.3 238.4 L578.5 236.4 L578.6 234.4 L578.8 232.4 L579.0 230.4 L579.1 228.4 L579.3 226.4 L579.5 224.5 L579.6 222.5 L579.8 220.5 L580.0 218.5 L580.1 216.5 L580.3 214.5 L580.5 212.5 L580.6 210.5 L580.8 208.5 L580.9 206.5 L581.1 204.5 L581.2 202.5 L581.4 200.5 L581.5 198.5 L581.7 196.5 L581.8 194.5 L581.9 192.5 L582.1 190.5 L582.2 188.5 L582.3 186.5 L582.4 184.5 L582.5 182.5 L582.6 180.5 L582.7 178.5 L582.8 176.5 L582.9 174.5 L583.0 172.5 L583.1 170.5 L583.2 168.5 L583.3 166.5 L583.4 164.5 L583.4 162.5 L583.5 160.5 L583.6 158.5 L583.6 156.5 L583.7 154.5 L583.8 152.5 L583.9 150.5 L583.9 148.5 L584.0 146.5 L584.1 144.5 L584.1 142.5 L584.2 140.5 L584.3 138.5 L584.3 136.5 L584.4 134.5 L584.5 132.5 L584.5 130.5 L584.6 128.5 L584.7 126.5 L584.7 124.5 L584.8 122.5 L584.9 120.5 L585.0 118.5 L585.1 116.5 L585.1 114.5 L585.2 112.5 L585.3 110.5 L585.4 108.5 L585.4 106.6 L585.5 104.6 L585.6 102.6 L585.6 100.6 L585.7 98.6 L585.8 96.6 Z" fill="#0d0d0d"/>
<path d="M599.0 655.3 L597.9 656.9 L596.8 658.6 L595.7 660.3 L594.6 661.9 L593.5 663.6 L592.4 665.2 L591.3 666.9 L590.2 668.6 L589.1 670.2 L587.9 671.9 L586.8 673.6 L585.7 675.2 L584.6 676.9 L583.5 678.6 L582.4 680.2 L581.3 681.9 L580.2 683.5 L579.0 685.2 L577.9 686.8 L576.8 688.5 L575.7 690.1 L574.5 691.8 L573.4 693.4 L572.3 695.1 L571.2 696.8 L570.0 698.4 L568.9 700.1 L567.8 701.7 L566.7 703.4 L565.6 705.1 L564.4 706.7 L563.3 708.4 L562.2 710.1 L561.1 711.7 L560.1 713.4 L559.0 715.1 L557.9 716.8 L556.8 718.5 L555.8 720.2 L554.7 721.9 L553.7 723.6 L552.6 725.3 L551.6 727.0 L550.5 728.8 L549.5 730.5 L548.5 732.3 L547.5 734.0 L546.6 735.8 L545.7 737.6 L544.7 739.4 L543.9 741.2 L543.0 743.0 L542.1 744.8 L541.3 746.7 L540.5 748.5 L539.7 750.4 L538.9 752.2 L538.2 754.1 L537.4 756.0 L536.7 757.8 L536.0 759.7 L535.3 761.6 L534.6 763.5 L533.9 765.3 L533.2 767.2 L532.5 769.1 L531.8 771.0 L531.2 772.9 L530.5 774.8 L529.9 776.7 L529.3 778.6 L528.6 780.5 L528.0 782.4 L527.4 784.3 L526.8 786.3 L526.3 788.2 L525.7 790.1 L525.2 792.1 L524.6 794.0 L524.1 795.9 L523.6 797.9 L523.1 799.8 L522.6 801.7 L522.1 803.7 L521.6 805.6 L521.1 807.6 L520.6 809.5 L520.1 811.4 L519.6 813.3 L519.0 815.3 L518.5 817.2 L518.0 819.1 L517.4 821.0 L516.9 822.9 L516.3 824.9 L515.7 826.8 L515.2 828.7 L514.6 830.6 L514.0 832.5 L513.4 834.4 L512.8 836.3 L512.2 838.2 L511.6 840.1 L511.0 842.1 L510.4 844.0 L509.9 845.9 L509.3 847.8 L508.8 849.8 L508.3 851.7 L507.7 853.6 L507.2 855.6 L506.7 857.5 L506.2 859.5 L505.7 861.4 L505.2 863.3 L504.7 865.3 L504.2 867.2 L503.8 869.2 L503.3 871.1 L502.9 873.1 L502.4 875.1 L502.0 877.0 L501.6 879.0 L501.3 881.0 L500.9 883.0 L500.6 885.0 L500.3 887.0 L500.1 889.0 L499.8 891.0 L499.7 893.0 L499.5 895.0 L499.3 897.0 L499.2 899.0 L499.1 901.0 L498.9 903.0 L498.8 905.0 L498.6 907.0 L498.4 908.9 L498.2 910.9 L497.9 912.9 L497.6 914.8 L497.4 916.8 L497.0 918.8 L496.7 920.7 L496.4 922.7 L496.0 924.6 L495.6 926.6 L495.3 928.6 L494.9 930.5 L494.5 932.5 L494.1 934.4 L493.7 936.4 L493.3 938.4 L492.9 940.3 L492.5 942.3 L492.1 944.2 L491.7 946.2 L491.3 948.1 L490.9 950.1 L490.4 952.0 L490.0 954.0 L489.6 955.9 L489.2 957.9 L488.8 959.9 L488.3 961.8 L487.9 963.8 L487.5 965.7 L487.0 967.6 L486.6 969.6 L486.1 971.5 L485.6 973.5 L485.2 975.4 L484.7 977.4 L484.3 979.3 L483.8 981.3 L483.3 983.2 L482.8 985.1 L482.4 987.1 L481.9 989.0 L481.4 991.0 L481.0 992.9 L480.5 994.9 L480.1 996.8 L479.6 998.8 L479.1 1000.7 L478.7 1002.7 L478.2 1004.6 L477.8 1006.5 L477.3 1008.5 L476.8 1010.4 L476.4 1012.4 L475.9 1014.3 L475.5 1016.3 L475.0 1018.3 L474.6 1020.2 L474.2 1022.2 L473.8 1024.1 L473.3 1026.1 L472.9 1028.0 L472.5 1030.0 L472.1 1032.0 L471.7 1033.9 L471.3 1035.9 L470.9 1037.9 L470.5 1039.8 L470.1 1041.8 L469.7 1043.7 L469.3 1045.7 L469.0 1047.7 L468.6 1049.7 L468.2 1051.6 L467.9 1053.6 L467.5 1055.6 L467.2 1057.5 L466.8 1059.5 L466.5 1061.5 L466.2 1063.5 L465.9 1065.4 L465.5 1067.4 L465.2 1069.4 L464.9 1071.4 L464.6 1073.4 L464.3 1075.3 L464.0 1077.3 L463.6 1079.3 L463.3 1081.2 L463.0 1083.2 L462.7 1085.2 L462.4 1087.2 L462.0 1089.1 L461.7 1091.1 L461.3 1093.1 L461.0 1095.0 L460.7 1097.0 L460.3 1099.0 L459.9 1100.9 L459.6 1102.9 L459.2 1104.9 L458.8 1106.8 L458.5 1108.8 L458.1 1110.7 L457.7 1112.7 L457.3 1114.7 L456.9 1116.6 L456.5 1118.6 L456.2 1120.5 L455.8 1122.5 L455.4 1124.5 L455.0 1126.4 L454.6 1128.4 L454.2 1130.4 L453.8 1132.3 L453.4 1134.3 L453.0 1136.2 L452.6 1138.2 L452.3 1140.2 L451.9 1142.1 L451.5 1144.1 L451.1 1146.1 L450.7 1148.0 L450.4 1150.0 L450.0 1152.0 L449.6 1153.9 L449.2 1155.9 L448.9 1157.9 L448.5 1159.8 L448.2 1161.8 L447.8 1163.8 L447.5 1165.7 L447.1 1167.7 L446.8 1169.7 L446.4 1171.7 L446.1 1173.6 L445.8 1175.6 L445.4 1177.6 L445.1 1179.6 L444.8 1181.5 L444.5 1183.5 L444.1 1185.5 L443.8 1187.5 L443.5 1189.4 L443.2 1191.4 L442.9 1193.4 L442.5 1195.4 L442.2 1197.3 L441.9 1199.3 L441.6 1201.3 L441.3 1203.3 L441.0 1205.2 L440.6 1207.2 L440.3 1209.2 L440.0 1211.2 L439.7 1213.1 L439.4 1215.1 L442.2 1215.5 L442.5 1213.6 L442.9 1211.6 L443.2 1209.6 L443.5 1207.7 L443.8 1205.7 L444.1 1203.7 L444.4 1201.7 L444.7 1199.8 L445.1 1197.8 L445.4 1195.8 L445.7 1193.8 L446.0 1191.9 L446.3 1189.9 L446.7 1187.9 L447.0 1186.0 L447.3 1184.0 L447.6 1182.0 L448.0 1180.0 L448.3 1178.1 L448.6 1176.1 L449.0 1174.1 L449.3 1172.2 L449.6 1170.2 L450.0 1168.2 L450.3 1166.2 L450.7 1164.3 L451.0 1162.3 L451.4 1160.3 L451.7 1158.4 L452.1 1156.4 L452.4 1154.5 L452.8 1152.5 L453.2 1150.5 L453.6 1148.6 L453.9 1146.6 L454.3 1144.6 L454.7 1142.7 L455.1 1140.7 L455.5 1138.8 L455.9 1136.8 L456.3 1134.8 L456.7 1132.9 L457.0 1130.9 L457.4 1129.0 L457.8 1127.0 L458.2 1125.0 L458.6 1123.1 L459.0 1121.1 L459.4 1119.1 L459.8 1117.2 L460.2 1115.2 L460.6 1113.3 L460.9 1111.3 L461.3 1109.3 L461.7 1107.4 L462.1 1105.4 L462.4 1103.4 L462.8 1101.5 L463.2 1099.5 L463.5 1097.5 L463.9 1095.5 L464.2 1093.6 L464.6 1091.6 L464.9 1089.6 L465.2 1087.6 L465.5 1085.7 L465.9 1083.7 L466.2 1081.7 L466.5 1079.7 L466.8 1077.8 L467.1 1075.8 L467.5 1073.8 L467.8 1071.8 L468.1 1069.9 L468.4 1067.9 L468.7 1065.9 L469.1 1063.9 L469.4 1062.0 L469.7 1060.0 L470.1 1058.0 L470.4 1056.1 L470.8 1054.1 L471.1 1052.2 L471.5 1050.2 L471.8 1048.2 L472.2 1046.3 L472.6 1044.3 L473.0 1042.3 L473.4 1040.4 L473.8 1038.4 L474.2 1036.5 L474.6 1034.5 L475.0 1032.6 L475.4 1030.6 L475.8 1028.7 L476.2 1026.7 L476.6 1024.7 L477.0 1022.8 L477.5 1020.8 L477.9 1018.9 L478.3 1016.9 L478.8 1015.0 L479.2 1013.1 L479.7 1011.1 L480.1 1009.2 L480.6 1007.2 L481.1 1005.3 L481.5 1003.3 L482.0 1001.4 L482.5 999.4 L482.9 997.5 L483.4 995.5 L483.8 993.6 L484.3 991.7 L484.8 989.7 L485.2 987.8 L485.7 985.8 L486.2 983.9 L486.6 981.9 L487.1 980.0 L487.6 978.0 L488.0 976.1 L488.5 974.2 L489.0 972.2 L489.4 970.3 L489.9 968.3 L490.3 966.3 L490.8 964.4 L491.2 962.4 L491.6 960.5 L492.1 958.5 L492.5 956.6 L492.9 954.6 L493.3 952.7 L493.7 950.7 L494.2 948.7 L494.6 946.8 L495.0 944.8 L495.4 942.9 L495.8 940.9 L496.2 938.9 L496.6 937.0 L497.0 935.0 L497.4 933.1 L497.8 931.1 L498.2 929.1 L498.5 927.1 L498.9 925.2 L499.3 923.2 L499.6 921.2 L500.0 919.2 L500.3 917.3 L500.6 915.3 L500.9 913.3 L501.1 911.3 L501.3 909.3 L501.5 907.2 L501.7 905.2 L501.9 903.2 L502.0 901.2 L502.2 899.2 L502.3 897.2 L502.4 895.3 L502.6 893.3 L502.8 891.3 L503.0 889.3 L503.2 887.4 L503.5 885.4 L503.8 883.5 L504.2 881.5 L504.5 879.6 L504.9 877.6 L505.3 875.7 L505.8 873.7 L506.2 871.8 L506.6 869.9 L507.1 867.9 L507.6 866.0 L508.1 864.1 L508.6 862.1 L509.1 860.2 L509.6 858.3 L510.1 856.3 L510.6 854.4 L511.1 852.5 L511.6 850.6 L512.2 848.6 L512.7 846.7 L513.3 844.8 L513.9 842.9 L514.4 841.0 L515.0 839.1 L515.6 837.2 L516.2 835.3 L516.8 833.4 L517.4 831.5 L518.0 829.5 L518.6 827.6 L519.2 825.7 L519.7 823.8 L520.3 821.9 L520.9 819.9 L521.4 818.0 L521.9 816.1 L522.4 814.1 L523.0 812.2 L523.5 810.2 L524.0 808.3 L524.5 806.4 L525.0 804.4 L525.5 802.5 L526.0 800.6 L526.5 798.6 L527.0 796.7 L527.5 794.8 L528.0 792.9 L528.6 790.9 L529.1 789.0 L529.7 787.1 L530.3 785.2 L530.9 783.3 L531.5 781.4 L532.1 779.5 L532.7 777.6 L533.3 775.7 L534.0 773.9 L534.6 772.0 L535.3 770.1 L535.9 768.2 L536.6 766.3 L537.3 764.5 L538.0 762.6 L538.7 760.7 L539.4 758.9 L540.1 757.0 L540.8 755.1 L541.6 753.3 L542.3 751.5 L543.1 749.6 L543.9 747.8 L544.7 746.0 L545.5 744.2 L546.4 742.4 L547.2 740.6 L548.1 738.8 L549.0 737.1 L550.0 735.3 L550.9 733.6 L551.9 731.9 L552.9 730.1 L553.9 728.4 L554.9 726.7 L555.9 725.0 L557.0 723.3 L558.0 721.6 L559.1 719.9 L560.1 718.2 L561.2 716.5 L562.3 714.8 L563.3 713.2 L564.4 711.5 L565.5 709.8 L566.6 708.1 L567.7 706.5 L568.8 704.8 L569.9 703.2 L571.0 701.5 L572.1 699.8 L573.3 698.2 L574.4 696.5 L575.5 694.9 L576.6 693.2 L577.7 691.5 L578.8 689.9 L580.0 688.2 L581.1 686.6 L582.2 684.9 L583.3 683.2 L584.4 681.6 L585.5 679.9 L586.6 678.2 L587.7 676.6 L588.8 674.9 L589.9 673.2 L591.0 671.6 L592.1 669.9 L593.2 668.2 L594.3 666.6 L595.4 664.9 L596.6 663.2 L597.7 661.5 L598.8 659.9 L599.9 658.2 L601.0 656.5 Z" fill="#0d0d0d"/>
<path d="M178.6 465.4 L177.9 467.3 L177.1 469.1 L176.4 471.0 L175.6 472.9 L174.9 474.8 L174.2 476.6 L173.5 478.5 L172.8 480.4 L172.2 482.3 L171.5 484.2 L170.8 486.0 L170.1 487.9 L169.4 489.8 L168.6 491.6 L167.9 493.5 L167.2 495.3 L166.4 497.2 L165.7 499.0 L164.9 500.9 L164.2 502.7 L163.4 504.6 L162.7 506.4 L161.9 508.3 L161.1 510.1 L160.3 511.9 L159.5 513.8 L158.8 515.6 L158.0 517.5 L157.3 519.4 L156.5 521.2 L155.8 523.1 L155.1 525.0 L154.4 526.9 L153.8 528.8 L153.2 530.7 L152.5 532.6 L151.9 534.6 L151.3 536.5 L150.8 538.4 L150.2 540.3 L149.7 542.3 L149.1 544.2 L148.7 546.2 L148.2 548.2 L147.8 550.1 L147.4 552.1 L147.0 554.1 L146.6 556.1 L146.3 558.1 L146.0 560.0 L145.6 562.0 L145.3 564.0 L145.0 566.0 L144.7 568.0 L144.4 569.9 L144.1 571.9 L143.8 573.9 L143.5 575.9 L143.3 577.9 L143.0 579.9 L142.8 581.9 L142.6 583.9 L142.4 585.9 L142.2 587.9 L142.1 589.9 L141.9 591.9 L141.8 593.9 L141.7 595.9 L141.7 597.9 L141.6 600.0 L141.5 602.0 L141.5 604.0 L141.4 606.0 L141.4 608.0 L141.4 610.0 L141.4 612.0 L141.4 614.0 L141.4 616.0 L141.4 618.0 L141.5 620.0 L141.6 622.1 L141.7 624.1 L141.8 626.1 L141.9 628.1 L142.0 630.1 L142.2 632.1 L142.3 634.1 L142.5 636.1 L142.7 638.1 L142.9 640.1 L143.1 642.1 L143.3 644.1 L143.6 646.1 L143.9 648.1 L144.1 650.1 L144.5 652.1 L144.8 654.1 L145.1 656.0 L145.5 658.0 L145.9 660.0 L146.3 662.0 L146.7 663.9 L147.1 665.9 L147.6 667.9 L148.1 669.8 L148.5 671.8 L149.0 673.7 L149.6 675.7 L150.1 677.6 L150.6 679.5 L151.2 681.5 L151.7 683.4 L152.3 685.3 L152.9 687.2 L153.5 689.1 L154.1 691.1 L154.8 693.0 L155.4 694.9 L156.1 696.8 L156.8 698.7 L157.4 700.5 L158.1 702.4 L158.9 704.3 L159.6 706.2 L160.3 708.1 L161.1 709.9 L161.8 711.8 L162.6 713.6 L163.4 715.5 L164.2 717.3 L165.0 719.2 L165.8 721.0 L166.7 722.8 L167.6 724.6 L168.5 726.4 L169.4 728.2 L170.3 730.0 L171.2 731.8 L172.2 733.6 L173.1 735.4 L174.1 737.1 L175.1 738.9 L176.1 740.6 L177.1 742.3 L178.1 744.1 L179.1 745.8 L180.2 747.5 L181.3 749.2 L182.4 750.9 L183.5 752.6 L184.6 754.3 L185.8 755.9 L186.9 757.5 L188.1 759.2 L189.3 760.8 L190.4 762.4 L191.6 764.1 L192.7 765.7 L193.8 767.3 L195.0 769.0 L196.1 770.6 L197.1 772.3 L198.2 774.0 L199.3 775.7 L200.4 777.3 L201.4 779.0 L202.5 780.7 L203.6 782.4 L204.6 784.1 L205.7 785.8 L206.8 787.5 L207.8 789.1 L208.8 790.7 L211.2 789.3 L210.2 787.7 L209.1 786.0 L208.1 784.3 L207.0 782.6 L205.9 780.9 L204.9 779.2 L203.8 777.5 L202.7 775.9 L201.6 774.2 L200.6 772.5 L199.5 770.8 L198.4 769.1 L197.3 767.4 L196.1 765.8 L195.0 764.1 L193.9 762.5 L192.7 760.8 L191.5 759.2 L190.4 757.6 L189.2 755.9 L188.1 754.3 L186.9 752.7 L185.8 751.0 L184.7 749.4 L183.6 747.7 L182.6 746.0 L181.5 744.4 L180.5 742.6 L179.5 740.9 L178.5 739.2 L177.5 737.5 L176.5 735.7 L175.6 734.0 L174.6 732.3 L173.7 730.5 L172.8 728.7 L171.9 727.0 L171.0 725.2 L170.1 723.4 L169.2 721.6 L168.4 719.8 L167.6 718.0 L166.8 716.2 L166.0 714.4 L165.2 712.5 L164.4 710.7 L163.7 708.9 L162.9 707.0 L162.2 705.2 L161.5 703.3 L160.8 701.4 L160.1 699.6 L159.4 697.7 L158.8 695.8 L158.1 693.9 L157.5 692.1 L156.8 690.2 L156.2 688.3 L155.6 686.4 L155.0 684.5 L154.5 682.6 L153.9 680.7 L153.4 678.8 L152.8 676.8 L152.3 674.9 L151.8 673.0 L151.3 671.1 L150.8 669.1 L150.4 667.2 L149.9 665.3 L149.5 663.3 L149.1 661.4 L148.7 659.4 L148.3 657.5 L147.9 655.5 L147.6 653.6 L147.3 651.6 L147.0 649.7 L146.7 647.7 L146.4 645.7 L146.2 643.7 L145.9 641.8 L145.7 639.8 L145.5 637.8 L145.3 635.8 L145.2 633.9 L145.0 631.9 L144.9 629.9 L144.8 627.9 L144.6 625.9 L144.5 623.9 L144.5 621.9 L144.4 620.0 L144.3 618.0 L144.3 616.0 L144.3 614.0 L144.3 612.0 L144.3 610.0 L144.3 608.0 L144.3 606.0 L144.4 604.0 L144.4 602.0 L144.5 600.1 L144.6 598.1 L144.6 596.1 L144.7 594.1 L144.8 592.1 L145.0 590.1 L145.1 588.1 L145.3 586.2 L145.5 584.2 L145.7 582.2 L145.9 580.2 L146.2 578.3 L146.4 576.3 L146.7 574.3 L147.0 572.4 L147.3 570.4 L147.6 568.4 L147.9 566.4 L148.2 564.5 L148.5 562.5 L148.8 560.5 L149.2 558.6 L149.5 556.6 L149.9 554.6 L150.2 552.7 L150.6 550.7 L151.1 548.8 L151.5 546.9 L152.0 545.0 L152.5 543.1 L153.0 541.1 L153.6 539.2 L154.1 537.3 L154.7 535.4 L155.3 533.5 L156.0 531.6 L156.6 529.8 L157.2 527.9 L157.9 526.0 L158.6 524.2 L159.3 522.3 L160.0 520.5 L160.7 518.6 L161.5 516.8 L162.3 514.9 L163.0 513.1 L163.8 511.3 L164.6 509.4 L165.4 507.6 L166.2 505.7 L166.9 503.9 L167.7 502.0 L168.4 500.1 L169.2 498.3 L169.9 496.4 L170.7 494.6 L171.4 492.7 L172.1 490.8 L172.9 489.0 L173.6 487.1 L174.3 485.2 L175.0 483.3 L175.7 481.4 L176.3 479.5 L177.0 477.7 L177.7 475.8 L178.4 474.0 L179.1 472.1 L179.9 470.3 L180.6 468.4 L181.4 466.6 Z" fill="#0d0d0d"/>
<path d="M209.9 779.1 L211.4 777.8 L212.9 776.5 L214.5 775.2 L216.0 774.0 L217.6 772.7 L219.1 771.5 L220.7 770.3 L222.3 769.1 L223.9 768.0 L225.5 766.8 L227.1 765.5 L228.7 764.3 L230.3 763.0 L231.8 761.6 L233.3 760.3 L234.8 759.0 L236.2 757.6 L237.7 756.3 L239.3 755.1 L240.8 753.9 L242.4 752.7 L244.0 751.6 L245.7 750.5 L247.3 749.4 L249.0 748.4 L250.7 747.4 L252.4 746.3 L254.2 745.3 L255.9 744.3 L257.6 743.2 L259.3 742.2 L261.0 741.2 L262.7 740.2 L264.4 739.2 L266.2 738.3 L267.9 737.4 L269.7 736.5 L271.5 735.6 L273.3 734.8 L275.1 734.0 L276.9 733.2 L278.7 732.5 L280.6 731.8 L282.5 731.2 L284.4 730.7 L286.3 730.1 L288.2 729.7 L290.1 729.2 L292.1 728.8 L294.0 728.3 L295.9 727.9 L297.9 727.6 L299.9 727.2 L301.8 726.8 L303.8 726.5 L305.7 726.1 L307.7 725.8 L309.7 725.5 L311.6 725.2 L313.6 725.0 L315.6 724.7 L317.6 724.5 L319.5 724.2 L321.5 724.0 L323.5 723.9 L325.5 723.7 L327.5 723.6 L329.4 723.4 L331.4 723.3 L333.4 723.2 L335.4 723.1 L337.4 723.0 L339.4 723.0 L341.4 722.9 L343.4 722.8 L345.4 722.7 L347.4 722.6 L349.4 722.6 L351.4 722.5 L353.4 722.4 L355.4 722.3 L357.4 722.3 L359.4 722.2 L361.4 722.1 L363.4 722.1 L365.4 722.0 L367.4 722.0 L369.4 721.9 L371.4 721.9 L373.3 721.9 L375.3 721.8 L377.3 721.8 L379.3 721.8 L381.3 721.8 L383.3 721.8 L385.3 721.8 L387.3 721.9 L389.3 721.9 L391.3 722.0 L393.3 722.0 L395.3 722.1 L397.3 722.2 L399.3 722.3 L401.3 722.4 L403.2 722.5 L405.2 722.6 L407.2 722.7 L409.2 722.9 L411.2 723.0 L413.2 723.1 L415.2 723.3 L417.2 723.4 L419.2 723.6 L421.2 723.7 L423.2 723.9 L425.2 724.0 L427.2 724.1 L429.2 724.3 L431.2 724.4 L433.2 724.5 L435.2 724.7 L437.2 724.8 L439.2 724.9 L441.1 725.1 L443.1 725.2 L445.1 725.3 L447.1 725.5 L449.1 725.6 L451.1 725.7 L453.1 725.9 L455.1 726.0 L457.1 726.2 L459.1 726.3 L461.1 726.4 L463.1 726.6 L465.1 726.7 L467.1 726.9 L469.0 727.0 L470.9 727.1 L471.0 724.6 L469.2 724.5 L467.2 724.3 L465.3 724.2 L463.3 724.1 L461.3 723.9 L459.3 723.8 L457.3 723.6 L455.3 723.5 L453.3 723.4 L451.3 723.2 L449.3 723.1 L447.3 722.9 L445.3 722.8 L443.3 722.7 L441.3 722.5 L439.3 722.4 L437.3 722.3 L435.3 722.1 L433.3 722.0 L431.3 721.9 L429.3 721.8 L427.3 721.6 L425.4 721.5 L423.4 721.3 L421.4 721.2 L419.4 721.1 L417.4 720.9 L415.4 720.8 L413.4 720.6 L411.4 720.5 L409.4 720.4 L407.4 720.2 L405.4 720.1 L403.4 720.0 L401.4 719.9 L399.4 719.8 L397.4 719.7 L395.4 719.6 L393.4 719.5 L391.4 719.4 L389.4 719.4 L387.4 719.3 L385.3 719.3 L383.3 719.3 L381.3 719.3 L379.3 719.3 L377.3 719.3 L375.3 719.3 L373.3 719.3 L371.3 719.4 L369.3 719.4 L367.3 719.4 L365.3 719.5 L363.3 719.6 L361.3 719.6 L359.3 719.7 L357.3 719.7 L355.3 719.8 L353.3 719.9 L351.3 720.0 L349.3 720.0 L347.3 720.1 L345.3 720.2 L343.3 720.3 L341.3 720.3 L339.3 720.4 L337.3 720.5 L335.3 720.6 L333.3 720.7 L331.3 720.8 L329.3 720.9 L327.3 721.0 L325.3 721.2 L323.3 721.4 L321.3 721.6 L319.3 721.8 L317.3 722.0 L315.3 722.2 L313.3 722.5 L311.3 722.8 L309.3 723.1 L307.3 723.4 L305.3 723.7 L303.4 724.1 L301.4 724.4 L299.4 724.8 L297.4 725.2 L295.5 725.6 L293.5 726.0 L291.5 726.4 L289.6 726.9 L287.6 727.3 L285.7 727.8 L283.7 728.4 L281.8 729.0 L279.8 729.6 L277.9 730.3 L276.0 731.0 L274.2 731.8 L272.3 732.6 L270.5 733.5 L268.7 734.4 L266.9 735.3 L265.1 736.2 L263.3 737.2 L261.6 738.2 L259.8 739.2 L258.1 740.2 L256.4 741.3 L254.7 742.3 L253.0 743.4 L251.3 744.4 L249.6 745.4 L247.9 746.5 L246.1 747.6 L244.4 748.6 L242.8 749.8 L241.1 750.9 L239.5 752.1 L237.9 753.4 L236.3 754.7 L234.8 756.0 L233.3 757.3 L231.8 758.7 L230.3 760.0 L228.9 761.3 L227.3 762.6 L225.8 763.8 L224.2 765.1 L222.6 766.2 L221.0 767.4 L219.4 768.6 L217.8 769.9 L216.2 771.1 L214.7 772.4 L213.1 773.6 L211.6 774.9 L210.1 776.2 L208.5 777.5 Z" fill="#0d0d0d"/>
<path d="M577.8 452.5 L579.5 451.4 L581.1 450.3 L582.7 449.3 L584.4 448.4 L586.1 447.6 L587.8 447.0 L589.6 446.6 L591.5 446.4 L593.3 446.3 L595.2 446.3 L597.1 446.5 L598.9 446.8 L600.8 447.2 L602.6 447.8 L604.4 448.5 L606.2 449.2 L607.9 450.0 L609.7 450.9 L611.3 451.8 L613.0 452.8 L614.6 453.8 L616.2 451.3 L614.6 450.3 L612.9 449.2 L611.1 448.2 L609.2 447.3 L607.4 446.5 L605.5 445.7 L603.5 445.0 L601.6 444.3 L599.5 443.8 L597.5 443.5 L595.4 443.3 L593.3 443.3 L591.2 443.4 L589.1 443.7 L587.0 444.2 L585.0 444.9 L583.1 445.7 L581.2 446.7 L579.5 447.8 L577.8 448.9 L576.2 450.1 Z" fill="#0d0d0d"/>
<path d="M6.0 6.0 C6.9 10.8 10.3 30.2 11.2 35.0" fill="none" stroke="#0d0d0d" stroke-width="2" stroke-dasharray="2 4"/>
<path d="M51.3 1238.0 C51.8 1241.2 54.0 1253.8 54.5 1257.0" fill="none" stroke="#0d0d0d" stroke-width="2" stroke-dasharray="2 4"/>
<path d="M291.6 13.7 C291.5 19.0 291.3 40.4 291.2 45.8" fill="none" stroke="#0d0d0d" stroke-width="2" stroke-dasharray="2 4"/>
<path d="M424.4 11.4 C424.5 14.6 424.7 27.3 424.8 30.5" fill="none" stroke="#0d0d0d" stroke-width="2" stroke-dasharray="2 4"/>
<path d="M586.7 89.5 C586.3 90.7 584.7 95.3 584.3 96.5" fill="none" stroke="#0d0d0d" stroke-width="2" stroke-dasharray="2 4"/>
<path d="M679.8 37.0 C679.3 39.3 677.5 48.7 677.0 51.0" fill="none" stroke="#0d0d0d" stroke-width="2" stroke-dasharray="2 4"/>
<path d="M479.0 1214.0 C478.7 1216.8 477.3 1228.2 477.0 1231.0" fill="none" stroke="#0d0d0d" stroke-width="2" stroke-dasharray="2 4"/>
<path d="M440.8 1215.3 C440.6 1217.9 439.7 1228.4 439.5 1231.0" fill="none" stroke="#0d0d0d" stroke-width="2" stroke-dasharray="2 4"/>
<path d="M188.0 1223.0 C188.0 1225.8 188.0 1237.2 188.0 1240.0" fill="none" stroke="#0d0d0d" stroke-width="2" stroke-dasharray="2 4"/>
<path d="M232.6 1223.0 C232.5 1224.8 232.1 1232.2 232.0 1234.0" fill="none" stroke="#0d0d0d" stroke-width="2" stroke-dasharray="2 4"/>
<path d="M271.0 1205.0 C271.0 1209.7 271.0 1228.3 271.0 1233.0" fill="none" stroke="#0d0d0d" stroke-width="2" stroke-dasharray="2 4"/>
<line x1="394.4" y1="228.9" x2="773.3" y2="145.6" stroke="#0d0d0d" stroke-width="2.8" stroke-linecap="round"/>
<line x1="496.3" y1="371.6" x2="731.7" y2="322.0" stroke="#0d0d0d" stroke-width="2.8" stroke-linecap="round"/>
<line x1="540.0" y1="467.3" x2="706.5" y2="500.2" stroke="#0d0d0d" stroke-width="2.8" stroke-linecap="round"/>
<line x1="616.9" y1="597.4" x2="691.6" y2="676.8" stroke="#0d0d0d" stroke-width="2.8" stroke-linecap="round"/>
<line x1="434.1" y1="990.7" x2="563.0" y2="1067.0" stroke="#0d0d0d" stroke-width="2.8" stroke-linecap="round"/>
<line x1="217.8" y1="1144.4" x2="479.8" y2="1278.0" stroke="#0d0d0d" stroke-width="2.8" stroke-linecap="round"/>
<path d="M404.5 379.8 C404.5 361 417 347.4 433 347.4 C446 347.4 455 355 458.5 366 C461 372 466 380 472 388 L483.2 404.8 L487 410.4 L481.3 412.2 L453.6 407.6 L430.4 404.8 C422 403 416.5 400.2 412 396 C407 391 404.5 386 404.5 379.8 Z" fill="#ef048f" stroke="#0d0d0d" stroke-width="2.8" stroke-linejoin="round"/>
<path d="M458 370 C456 388 446 400 430 404.5" fill="none" stroke="#6a2048" stroke-width="1.3" stroke-dasharray="2 1.5"/>
<path d="M462 382 L480 404 M446 404 L478 409 M470 386 L455 404" fill="none" stroke="#6a2048" stroke-width="1.3" stroke-dasharray="2 1.5"/>
<circle cx="432.3" cy="376.1" r="15.5" fill="none" stroke="#0d0d0d" stroke-width="2.4" stroke-dasharray="2.5 1.6"/>
<path d="M427 384 C424 376 430 366 438 370 M431 382 C433 377 437 376 438 380 M434 366 L430 374" fill="none" stroke="#7a3058" stroke-width="1.6"/>
<path d="M481 406.5 L553.5 449.3 L553 450.8 L480 411 Z" fill="#9a1f60" stroke="#2a0a1a" stroke-width="1.1" stroke-linejoin="round"/>
<g font-family="Liberation Sans, sans-serif" fill="#111" stroke="#fff" stroke-width="0.8">
<text x="790.0" y="163.0" font-size="57" textLength="151.0" lengthAdjust="spacingAndGlyphs">Femur</text>
<text x="753.0" y="333.5" font-size="57" textLength="323.0" lengthAdjust="spacingAndGlyphs">Supra patellar</text>
<text x="842.0" y="402.0" font-size="57" textLength="150.0" lengthAdjust="spacingAndGlyphs">pouch</text>
<text x="724.5" y="533.3" font-size="57" textLength="262.5" lengthAdjust="spacingAndGlyphs">Joint space</text>
<text x="710.0" y="710.0" font-size="57" textLength="154.0" lengthAdjust="spacingAndGlyphs">Patella</text>
<text x="583.5" y="1086.0" font-size="57" textLength="114.0" lengthAdjust="spacingAndGlyphs">Tibia</text>
<text x="499.0" y="1297.0" font-size="57" textLength="139.0" lengthAdjust="spacingAndGlyphs">Fibula</text>
</g>
</svg>
</body></html>
